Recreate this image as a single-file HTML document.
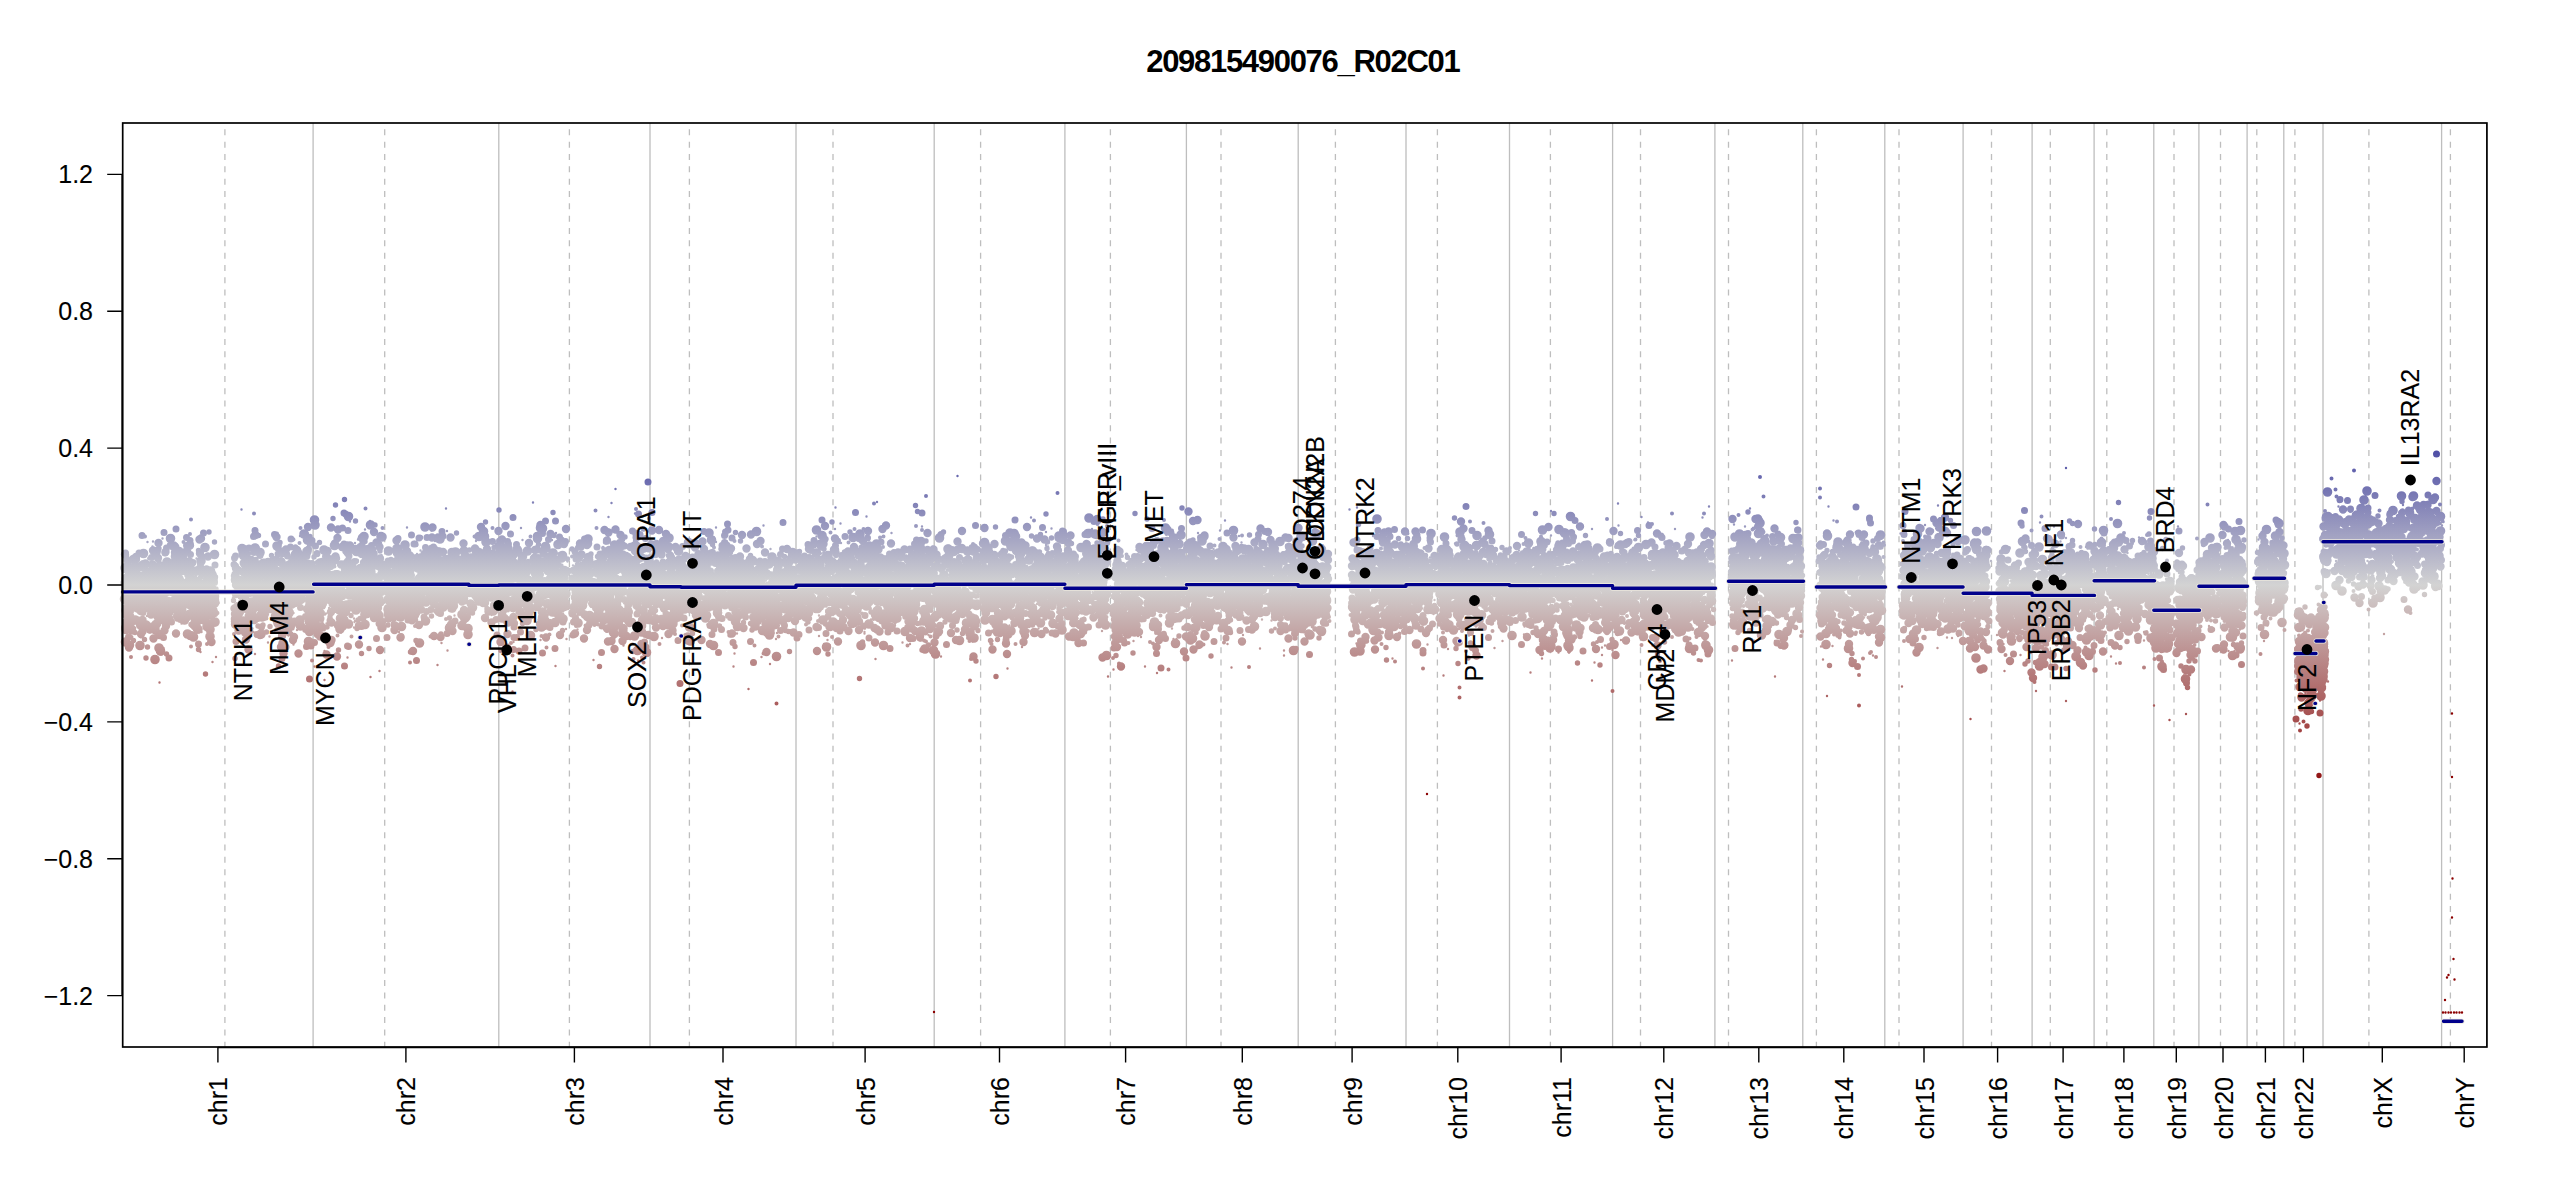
<!DOCTYPE html><html><head><meta charset="utf-8"><style>html,body{margin:0;padding:0;background:#fff;}svg{display:block}text{font-family:"Liberation Sans",sans-serif;stroke:#000;stroke-width:0.12px}</style></head><body>
<svg width="2550" height="1200" viewBox="0 0 2550 1200">
<rect width="2550" height="1200" fill="#fff"/>
<defs><linearGradient id="g" gradientUnits="userSpaceOnUse" x1="0" y1="371.1" x2="0" y2="798.9">
<stop offset="0" stop-color="#00008b"/><stop offset="0.5" stop-color="#d3d3d3"/><stop offset="1" stop-color="#8b0000"/></linearGradient></defs>
<path d="M313.1 123V1047M498.8 123V1047M650.0 123V1047M796.0 123V1047M934.2 123V1047M1064.9 123V1047M1186.4 123V1047M1298.2 123V1047M1406.0 123V1047M1509.5 123V1047M1612.6 123V1047M1714.9 123V1047M1802.8 123V1047M1884.8 123V1047M1963.1 123V1047M2032.1 123V1047M2094.1 123V1047M2153.8 123V1047M2198.9 123V1047M2247.1 123V1047M2283.8 123V1047M2323.0 123V1047M2441.6 123V1047M2486.9 123V1047" stroke="#bebebe" stroke-width="1.3" fill="none"/>
<path d="M224.9 123V1047M384.7 123V1047M569.4 123V1047M689.4 123V1047M833.0 123V1047M980.6 123V1047M1110.4 123V1047M1221.0 123V1047M1335.4 123V1047M1437.4 123V1047M1550.4 123V1047M1640.5 123V1047M1728.5 123V1047M1816.4 123V1047M1899.0 123V1047M1991.5 123V1047M2050.3 123V1047M2106.8 123V1047M2174.0 123V1047M2220.5 123V1047M2256.8 123V1047M2294.9 123V1047M2368.9 123V1047M2450.4 123V1047" stroke="#bebebe" stroke-width="1.3" fill="none" stroke-dasharray="6 6.33" stroke-dashoffset="6"/>
<path d="M175.5 609h0M142 591.5h0M159.5 682.5h0M153 541.5h0M211.5 590.5h0M196.5 558.5h0M152.5 546.5h0M178 602h0M150.5 579.5h0M190.5 591.5h0M166 599.5h0M185.5 558h0M201.5 632h0M207 607.5h0M141 607h0M181 614.5h0M175.5 571.5h0M142 566.5h0M130.5 601h0M164 583.5h0M133 564h0M210 625.5h0M213 604.5h0M170 577.5h0M200.5 652h0M132.5 614.5h0M216 657h0M162.5 589h0M156.5 630h0M192.5 543h0M161 595.5h0M149.5 587h0M212.5 662h0M211 622h0M201.5 567.5h0M162.5 538.5h0M188.5 602h0M182 556.5h0M157.5 615.5h0M171.5 590h0M209.5 599h0M196 575h0M155 590h0M166.5 581h0M147.5 542h0M126 597h0M187 600.5h0M218.5 603h0M184.5 606h0M204.5 575h0M163.5 648h0M201 568.5h0M147 616h0M166.5 560.5h0M155.5 582h0M201 614h0M143 601h0M209.5 582.5h0M156 578h0M155 550h0M199.5 630.5h0M181.5 623.5h0M129 629h0M259 594h0M265 574.5h0M310.5 581h0M248 605h0M239 598h0M309 571h0M282.5 559h0M265 583.5h0M266.5 577.5h0M233 597.5h0M293.5 613h0M253.5 632h0M300 587.5h0M268 642.5h0M277 562.5h0M234 575.5h0M312.5 590h0M275.5 571.5h0M309 610.5h0M310.5 585h0M236 610h0M287.5 608.5h0M301 551.5h0M263.5 619.5h0M269.5 636.5h0M255 654h0M280.5 601.5h0M289.5 613h0M289 585.5h0M306 570.5h0M242 571.5h0M293 603.5h0M300 536h0M277 608.5h0M241.5 509.5h0M281.5 588h0M262.5 624h0M237.5 585.5h0M262.5 580.5h0M313 527h0M250.5 615h0M298 554.5h0M243.5 571.5h0M239.5 569h0M275 587.5h0M252.5 628.5h0M308.5 584h0M293.5 644.5h0M251 567.5h0M263 606h0M304.5 551h0M289.5 615h0M302 624.5h0M250 559h0M258.5 575h0M248.5 581h0M297 630h0M274.5 558h0M246 597.5h0M240 585h0M292 546.5h0M305.5 598h0M292 633h0M288.5 635.5h0M319.5 560h0M348 602.5h0M375 567.5h0M327.5 564h0M320 602.5h0M381.5 555h0M370.5 677h0M369.5 590.5h0M355 621h0M324.5 651h0M333 600.5h0M338.5 601h0M337.5 653.5h0M364.5 622.5h0M370.5 604.5h0M340 576h0M344 573h0M318.5 570.5h0M342 599h0M322.5 553h0M321 583h0M313.5 606.5h0M379 628.5h0M352 585.5h0M368.5 575h0M341 632.5h0M355 543h0M373 586h0M359 610.5h0M373 596.5h0M349 553h0M347.5 626.5h0M329 608h0M354 627.5h0M372.5 606h0M357.5 570.5h0M324.5 606.5h0M343.5 580h0M347.5 657.5h0M366.5 573.5h0M342 565.5h0M320.5 585h0M354 618.5h0M337 583h0M322.5 622h0M314.5 666.5h0M330.5 611.5h0M349 583.5h0M348 587.5h0M324.5 680h0M361.5 592h0M347.5 562h0M372 588.5h0M330.5 566.5h0M327 578h0M352.5 580.5h0M325 614.5h0M358 539.5h0M364.5 578h0M338 582.5h0M348.5 546h0M370 521h0M370 601.5h0M380 579.5h0M326.5 623.5h0M354.5 622h0M353.5 609h0M350 521.5h0M371.5 618h0M326 613.5h0M365 555h0M365 529.5h0M361.5 615h0M357 547h0M379.5 671h0M345 591h0M437.5 572h0M464 560.5h0M414.5 566.5h0M431 549.5h0M461 551h0M456.5 583.5h0M420.5 550.5h0M441.5 643h0M406.5 553.5h0M413.5 578.5h0M398.5 538h0M399 632h0M433.5 579h0M447 531h0M457.5 582.5h0M446 508.5h0M431.5 600h0M427 577.5h0M395.5 599h0M460.5 583.5h0M459.5 586.5h0M463 555.5h0M431 557h0M442.5 575h0M437.5 665h0M428.5 591h0M407.5 558h0M405 583h0M429 569.5h0M387.5 570.5h0M443 581.5h0M455 619.5h0M394 628h0M395 595.5h0M397 615h0M447.5 573.5h0M407.5 591h0M435 541h0M402.5 571h0M412 600h0M445 550h0M445 599h0M417 554h0M399.5 614h0M414.5 590.5h0M431.5 530.5h0M438.5 548.5h0M427 572.5h0M413 608h0M454.5 615.5h0M447 625h0M416.5 603.5h0M399.5 590h0M442.5 540.5h0M421 582h0M407 527.5h0M433.5 579h0M461 552h0M395 562h0M460.5 588h0M401 574.5h0M467 565.5h0M400 557.5h0M452 579.5h0M393 559h0M421 602.5h0M447.5 650.5h0M486.5 561.5h0M476 541h0M491.5 615h0M496.5 553h0M487.5 575h0M484 592h0M484 560h0M490 593h0M486 532h0M472.5 607h0M469.5 569h0M482.5 598h0M479 575.5h0M483.5 575.5h0M495 573.5h0M477 553h0M488.5 572.5h0M548 578h0M552 540h0M541 581.5h0M512.5 691.5h0M547.5 543.5h0M506 575h0M521.5 594.5h0M554 597.5h0M522.5 540h0M542 578h0M504 617h0M566 629h0M526.5 576h0M560.5 565.5h0M514.5 597h0M536 653h0M544 532.5h0M527.5 594h0M520 627h0M513.5 596.5h0M500 546.5h0M567.5 580.5h0M551.5 581h0M521.5 616h0M519.5 592.5h0M558 603h0M524 572.5h0M513.5 642h0M559.5 553h0M521 528h0M563 613.5h0M533.5 593h0M503 562.5h0M510.5 609.5h0M532.5 602.5h0M522.5 596.5h0M522 620h0M553.5 575h0M531.5 587h0M540.5 640h0M537 561.5h0M509.5 553h0M567.5 561.5h0M533 502.5h0M528.5 563.5h0M531.5 596h0M548 566.5h0M556 533h0M538 591.5h0M516 577h0M520 580h0M563.5 583.5h0M514.5 579h0M537 580h0M500.5 596h0M538.5 619.5h0M504.5 568h0M557.5 553.5h0M551.5 580.5h0M551 570h0M500.5 580h0M520.5 568.5h0M507 633.5h0M555.5 666h0M566.5 639h0M550.5 588.5h0M593.5 660h0M577.5 629.5h0M573 565.5h0M630.5 593h0M577 548.5h0M614 528.5h0M601 570.5h0M640.5 568h0M638 660.5h0M595.5 580.5h0M622 627h0M585.5 568.5h0M609 579h0M584.5 542.5h0M588.5 572h0M616 576.5h0M622.5 568h0M603 547h0M616.5 581h0M573.5 550h0M614.5 638h0M589.5 599h0M604.5 594.5h0M580 567h0M623.5 645.5h0M589.5 589h0M589 603.5h0M590.5 584h0M631 590h0M628.5 560.5h0M608.5 581h0M591 606.5h0M646 582.5h0M635 513.5h0M631.5 585.5h0M626 577h0M592 595.5h0M639 557h0M606.5 577.5h0M648.5 600h0M608.5 586.5h0M642 581h0M585 618.5h0M631 603.5h0M641 603.5h0M617 619.5h0M608 611h0M647.5 587h0M579.5 620h0M586.5 568.5h0M645 573h0M646 594h0M633 579h0M640.5 602.5h0M644.5 615h0M630 579.5h0M608.5 517h0M604 614.5h0M578.5 567.5h0M587 614h0M630.5 639h0M578 612h0M667.5 542h0M658 596h0M666 578h0M662 638h0M680 563h0M666 592h0M661 578.5h0M651 559.5h0M668.5 564.5h0M674 595.5h0M653 575h0M652.5 589.5h0M652 559h0M664 552.5h0M681 559h0M655 581h0M669.5 567.5h0M668 565.5h0M680 613h0M666 623h0M680.5 584.5h0M650 528.5h0M674 592.5h0M675 561h0M662.5 603h0M660 574.5h0M670 549h0M650.5 541h0M667 560h0M670 600h0M669.5 544.5h0M707.5 624.5h0M770.5 549h0M719.5 553.5h0M693.5 564.5h0M681.5 575h0M766 580.5h0M761.5 657h0M776 639h0M734.5 653.5h0M733 583h0M735 561.5h0M739.5 601h0M733.5 666.5h0M737 633.5h0M682 619.5h0M768.5 600h0M793.5 596.5h0M796 590h0M699 605.5h0M696.5 639.5h0M754.5 569.5h0M763.5 525.5h0M714 537.5h0M759 606h0M753.5 597h0M740 609.5h0M777 633h0M789 603.5h0M688 608.5h0M720.5 625.5h0M788.5 584h0M753 621.5h0M755.5 584h0M716 527.5h0M787.5 584h0M737 621h0M746 564.5h0M696 557.5h0M741.5 617h0M709.5 610.5h0M764 608.5h0M760 586.5h0M707 571h0M730 609.5h0M752.5 567h0M794.5 589.5h0M793.5 604h0M770 664h0M684 610.5h0M779.5 580.5h0M756.5 615.5h0M716.5 591h0M769 591h0M684 618.5h0M728.5 616.5h0M727 541.5h0M694.5 581.5h0M792 621.5h0M688.5 612h0M767 607h0M758 529h0M691 593.5h0M682 586.5h0M681.5 576.5h0M716 542h0M709.5 597.5h0M711 551h0M755 593h0M748.5 612.5h0M766.5 566.5h0M687 581h0M692.5 603.5h0M724.5 586.5h0M704.5 613.5h0M730.5 549h0M751 618h0M854.5 529h0M832 601.5h0M885.5 597h0M806.5 596.5h0M843 565h0M849 542.5h0M899 616h0M837.5 563h0M797 562h0M848 623h0M932.5 587.5h0M885 529.5h0M848 602h0M855.5 547h0M824 644h0M840.5 523.5h0M859.5 559h0M875.5 572.5h0M842.5 598h0M859.5 537.5h0M819 599.5h0M900.5 566.5h0M806.5 565h0M818 558.5h0M913 584h0M853.5 565h0M864.5 554.5h0M857.5 609h0M895 623.5h0M845.5 596.5h0M856 589h0M819.5 575.5h0M904 594h0M866.5 593h0M865 628.5h0M925 608h0M864.5 632h0M906.5 606.5h0M826.5 606.5h0M884.5 580.5h0M867 577.5h0M910 629h0M851.5 550h0M916 600.5h0M854 557.5h0M891.5 533h0M802 585h0M797 621.5h0M916 572.5h0M891 545.5h0M916.5 592h0M860.5 588.5h0M859.5 590.5h0M831 562.5h0M808.5 566h0M882.5 559h0M901.5 591.5h0M910 644h0M835.5 507.5h0M923.5 560.5h0M839 559.5h0M796 580.5h0M922 526.5h0M904 567.5h0M900 576.5h0M819 636h0M886 596.5h0M808 618.5h0M904.5 596h0M827.5 640h0M928.5 635h0M896 551.5h0M825.5 578h0M890.5 604.5h0M820 576.5h0M890.5 588.5h0M816.5 536.5h0M871 619.5h0M831.5 584h0M864.5 633.5h0M916.5 585h0M815 544h0M881 596h0M856 593h0M871 589.5h0M821 553.5h0M841 543h0M835 561.5h0M844 606h0M889.5 587.5h0M804.5 614.5h0M829.5 579h0M877 502h0M858 624.5h0M841.5 572h0M926 596h0M866.5 516.5h0M914.5 586.5h0M889 611.5h0M830.5 566h0M835 529h0M895 625.5h0M816.5 587.5h0M925 555h0M819 615.5h0M901 609.5h0M878.5 612h0M859.5 589.5h0M875.5 659h0M902.5 642.5h0M865.5 550.5h0M932 601h0M887.5 561h0M949 575h0M935.5 583h0M949 575h0M952.5 575h0M953.5 599h0M961.5 602h0M970.5 585h0M937.5 579.5h0M938.5 561.5h0M969 622.5h0M941 656.5h0M966 563.5h0M938 588.5h0M955 564h0M954.5 564.5h0M978.5 619.5h0M961 607h0M940 578.5h0M977.5 525.5h0M977 569h0M963.5 586h0M950.5 571.5h0M943.5 571.5h0M943.5 579h0M949.5 566.5h0M954 589.5h0M943 607h0M938.5 597.5h0M968 552.5h0M946.5 594h0M972.5 641.5h0M982 586.5h0M983.5 548.5h0M1038 582h0M1008 597.5h0M1020.5 604.5h0M1014.5 574h0M1015 536h0M1062 593h0M1058.5 555.5h0M1045 592h0M1011 615h0M1054 591.5h0M1047 591h0M1031 582.5h0M1007.5 668.5h0M1039 601.5h0M1023 644.5h0M993 621h0M1004 637h0M1015 620.5h0M1047 574h0M1038.5 624.5h0M1019 588.5h0M1058.5 590.5h0M1005.5 579.5h0M1030.5 570.5h0M1036 557h0M1046 532h0M1054.5 584h0M1043 605.5h0M992 590.5h0M1055.5 590h0M986.5 545h0M1059 558.5h0M1009.5 625.5h0M1051.5 528.5h0M1034 601h0M1064 568.5h0M1029.5 555h0M1044.5 571h0M1022 647h0M990.5 643.5h0M1000 602h0M1040 610h0M1062.5 579h0M1022.5 625h0M1038.5 628.5h0M1049 593.5h0M999.5 567h0M1018 565h0M1011.5 588.5h0M1058.5 541.5h0M1060 566h0M1017 563h0M992.5 641h0M1022 630.5h0M1048 546.5h0M1011.5 598.5h0M1053.5 577h0M1031 517.5h0M989 564.5h0M988.5 576h0M1057.5 601h0M1037 604h0M1046 545h0M1023.5 575.5h0M1035 592h0M1079 571.5h0M1102 631h0M1086 553.5h0M1081.5 621h0M1103 570h0M1100.5 570h0M1069.5 581h0M1087 545h0M1085 547.5h0M1102 556h0M1089 550.5h0M1098.5 607.5h0M1067.5 575.5h0M1088 608h0M1083.5 591.5h0M1077 612h0M1092 529h0M1102 593.5h0M1092.5 592h0M1092.5 569h0M1108 676.5h0M1077.5 618.5h0M1077.5 574.5h0M1072 599.5h0M1078.5 578h0M1104.5 555.5h0M1096.5 571h0M1080.5 611.5h0M1095.5 536.5h0M1092 576.5h0M1152 587h0M1145 666.5h0M1131 622.5h0M1180 595h0M1137 578h0M1113 635h0M1123.5 591h0M1181.5 527h0M1173.5 639h0M1172 628.5h0M1139.5 587.5h0M1155.5 633.5h0M1129 604.5h0M1152 621h0M1157 673h0M1121 629.5h0M1119.5 589.5h0M1129.5 632h0M1185.5 600.5h0M1134.5 571h0M1183 564.5h0M1113.5 669.5h0M1139.5 575.5h0M1183.5 585h0M1176.5 639h0M1129.5 597.5h0M1144.5 574h0M1183.5 553.5h0M1142 592h0M1134.5 568h0M1133.5 641h0M1135.5 620.5h0M1141 637h0M1179 571h0M1155 613.5h0M1176 560.5h0M1151.5 604.5h0M1180 592.5h0M1131.5 617h0M1122 621.5h0M1170 619h0M1175.5 597h0M1137 576.5h0M1131.5 600.5h0M1136.5 550h0M1122 564h0M1138 636h0M1241.5 542.5h0M1194 549.5h0M1286.5 565h0M1213.5 549h0M1187 598.5h0M1295.5 556.5h0M1222 590.5h0M1250 579h0M1283.5 564h0M1213 567.5h0M1284 655.5h0M1262 583.5h0M1260 648.5h0M1283 552.5h0M1255 601.5h0M1190 613h0M1262 619.5h0M1274.5 588h0M1278.5 567h0M1288.5 597h0M1261 597.5h0M1229 556.5h0M1190 564h0M1251 595.5h0M1234 586h0M1266.5 610.5h0M1209 554.5h0M1267.5 603.5h0M1214.5 551h0M1293 583h0M1275 596.5h0M1273.5 612h0M1277 555h0M1227.5 644h0M1257 550h0M1203 556h0M1294.5 533h0M1293 595h0M1225 622h0M1298 544.5h0M1239 536h0M1206 609h0M1208 559h0M1204.5 612h0M1203.5 578h0M1268 559.5h0M1200.5 597.5h0M1260 541.5h0M1271.5 620.5h0M1248.5 599h0M1220 530.5h0M1276.5 584h0M1252.5 582.5h0M1234 602h0M1251.5 605h0M1296 564h0M1215.5 614.5h0M1253 564.5h0M1231.5 667.5h0M1242.5 562.5h0M1272 586h0M1201 601.5h0M1234 534.5h0M1286.5 587h0M1283.5 587.5h0M1258 567.5h0M1189.5 610.5h0M1253.5 540h0M1287 614.5h0M1243 635h0M1197 617.5h0M1205.5 592.5h0M1205 573.5h0M1188 614.5h0M1211.5 570.5h0M1258.5 552.5h0M1253 555h0M1261.5 551.5h0M1210.5 566.5h0M1198 533h0M1293 570h0M1225 520.5h0M1282.5 586h0M1251 575h0M1284 650.5h0M1243 605h0M1320 588h0M1325.5 551.5h0M1330 575h0M1300 612h0M1323 545.5h0M1312.5 521.5h0M1322.5 584h0M1315.5 571h0M1308 573h0M1324 611.5h0M1329 585h0M1312.5 610.5h0M1321 575.5h0M1327.5 577h0M1316.5 613h0M1318 558h0M1323 594h0M1308 541h0M1391.5 535.5h0M1390.5 591h0M1356.5 643.5h0M1403 563h0M1364 579h0M1357.5 558.5h0M1359.5 548.5h0M1405.5 584h0M1386.5 573h0M1392.5 658.5h0M1352 566h0M1399.5 575.5h0M1391.5 558h0M1388 566.5h0M1377.5 579h0M1349.5 509.5h0M1357 507.5h0M1375 631.5h0M1396.5 568h0M1393 583h0M1391 619h0M1401.5 589h0M1372.5 563.5h0M1398 591h0M1389 616h0M1400 566h0M1372 597h0M1356.5 630.5h0M1369.5 609.5h0M1397 585.5h0M1398.5 614h0M1358 519h0M1373 536h0M1390 552h0M1371.5 560h0M1357 558h0M1371 577h0M1385 611h0M1388.5 619.5h0M1382.5 615.5h0M1405.5 575.5h0M1360 597h0M1381 623h0M1372.5 600h0M1353.5 561h0M1422 608.5h0M1434.5 600h0M1431 597h0M1413 593.5h0M1412 619h0M1419 553.5h0M1408 591.5h0M1408 591h0M1430 585h0M1408 579.5h0M1433.5 614h0M1416 571h0M1426.5 547.5h0M1408 591h0M1427.5 644.5h0M1425.5 586h0M1431 574h0M1416 573h0M1430 557.5h0M1418 582h0M1407.5 630.5h0M1422 591.5h0M1423 624.5h0M1416 567.5h0M1407 545h0M1414.5 594.5h0M1427.5 558.5h0M1426 581h0M1501 609.5h0M1476 626.5h0M1496.5 563h0M1487 596.5h0M1466 576h0M1476.5 608h0M1477 620.5h0M1490 638.5h0M1486.5 583.5h0M1444 559h0M1492.5 576h0M1486 592h0M1461.5 624h0M1441.5 553.5h0M1488 617.5h0M1469 635.5h0M1478 604h0M1476.5 575.5h0M1504 601h0M1459 610.5h0M1494.5 648h0M1482.5 612.5h0M1438.5 549h0M1444 541.5h0M1471 607h0M1465.5 619.5h0M1471.5 619.5h0M1501.5 580h0M1488.5 591h0M1448 649h0M1457 580h0M1502.5 641h0M1454.5 568.5h0M1468 568h0M1484 604.5h0M1495 583.5h0M1492 597.5h0M1502 623h0M1461.5 584.5h0M1459 629h0M1439 585.5h0M1455 543.5h0M1549 610.5h0M1526 544h0M1560 569.5h0M1594.5 662.5h0M1583.5 584h0M1569 652.5h0M1569.5 562.5h0M1577.5 589.5h0M1595 547.5h0M1575.5 536.5h0M1542 658.5h0M1551 511h0M1534.5 584h0M1610.5 590h0M1510.5 558h0M1559 543h0M1558 546.5h0M1519 550.5h0M1602.5 610h0M1529.5 547.5h0M1510.5 584.5h0M1564.5 540h0M1519 581h0M1582 557h0M1573.5 605.5h0M1549.5 583h0M1528 567h0M1573 622.5h0M1559.5 575.5h0M1571.5 587h0M1529.5 562h0M1583 562h0M1512 589h0M1548.5 564h0M1605 626.5h0M1539 542.5h0M1603 557h0M1593 558h0M1612 616h0M1533.5 548h0M1602 647.5h0M1524.5 626.5h0M1558.5 652.5h0M1553.5 561h0M1571.5 589.5h0M1567 611h0M1566 600h0M1547.5 560.5h0M1582.5 574h0M1540.5 567h0M1554.5 571h0M1535 621h0M1549.5 650h0M1588.5 598h0M1580 584.5h0M1513 615h0M1592 529h0M1567 589.5h0M1525.5 624.5h0M1606.5 624.5h0M1611 559.5h0M1557 596h0M1530.5 672.5h0M1612.5 650h0M1543 572.5h0M1540 641h0M1531.5 605.5h0M1549.5 593.5h0M1578 605h0M1546.5 562h0M1574.5 556.5h0M1602 655h0M1591 563h0M1540.5 620.5h0M1605 645.5h0M1569.5 642.5h0M1524 634.5h0M1529.5 571h0M1603.5 583h0M1569.5 576.5h0M1526 611.5h0M1549.5 557h0M1531.5 578.5h0M1584.5 590.5h0M1590.5 583h0M1551 535.5h0M1572.5 550h0M1618 503.5h0M1639 587h0M1619.5 588.5h0M1623.5 574h0M1617 608.5h0M1614.5 632h0M1614 610h0M1634.5 540h0M1622.5 610h0M1631 588.5h0M1621 640h0M1638.5 562.5h0M1614 587h0M1639 556h0M1616.5 627h0M1618.5 525.5h0M1631.5 551h0M1613 589h0M1622.5 563h0M1632 610h0M1712.5 596.5h0M1706 602h0M1674 620.5h0M1709 506.5h0M1701 565h0M1673 586h0M1652.5 645.5h0M1693.5 593h0M1704.5 639.5h0M1660 612h0M1667.5 579.5h0M1667 635h0M1694.5 619.5h0M1712 542.5h0M1675 529h0M1700 572h0M1648.5 558h0M1701 581h0M1647.5 613.5h0M1665 575h0M1642.5 595h0M1660 593.5h0M1700 556.5h0M1646.5 581.5h0M1683 587.5h0M1648 522.5h0M1701 587h0M1643 558h0M1652 606.5h0M1707.5 626.5h0M1669 567h0M1680 598h0M1700 605h0M1684.5 581h0M1704 593.5h0M1641.5 517h0M1682.5 584h0M1691 573.5h0M1696 620h0M1692.5 584h0M1681 594h0M1700 561h0M1687.5 561h0M1702.5 517.5h0M1650 559h0M1695.5 563h0M1660 607.5h0M1683.5 588.5h0M1679 594h0M1734 524.5h0M1777.5 605h0M1731 553.5h0M1774.5 555.5h0M1751.5 586h0M1788 598.5h0M1748 574h0M1789 586.5h0M1760.5 576h0M1750 508.5h0M1782.5 604.5h0M1796.5 543h0M1754 518.5h0M1775 676.5h0M1750.5 566.5h0M1738 565.5h0M1767 568.5h0M1753 578.5h0M1791.5 582h0M1775 641h0M1746.5 566.5h0M1761 567.5h0M1782.5 605.5h0M1732.5 554h0M1737.5 595.5h0M1739.5 572h0M1767 621.5h0M1744.5 556.5h0M1783.5 606h0M1773.5 564.5h0M1764 575h0M1771 597h0M1733 549.5h0M1765 536.5h0M1793.5 538h0M1737 562.5h0M1767.5 563h0M1731 563h0M1745 526.5h0M1761 602h0M1764.5 590h0M1758 581.5h0M1732 660.5h0M1818.5 617.5h0M1835.5 609h0M1870.5 562h0M1837.5 581h0M1832.5 591h0M1836.5 579.5h0M1840 585.5h0M1849 560h0M1821 646.5h0M1833.5 520.5h0M1848 581.5h0M1826.5 552.5h0M1841.5 570h0M1864 536h0M1820 548h0M1851 543h0M1877 562h0M1828 602.5h0M1843 581h0M1852.5 569h0M1884 585h0M1825 613.5h0M1827 574h0M1832.5 646h0M1835.5 582h0M1873 624h0M1862.5 608h0M1853.5 661.5h0M1836.5 580h0M1823.5 587.5h0M1859.5 593h0M1869.5 568h0M1844 540.5h0M1862.5 598.5h0M1872.5 545.5h0M1873 655.5h0M1828.5 506.5h0M1836.5 563.5h0M1876.5 544h0M1864 617.5h0M1873.5 557.5h0M1871.5 570.5h0M1864 583.5h0M1823 659.5h0M1841 630.5h0M1843.5 585.5h0M1866.5 588h0M1845.5 565.5h0M1827 614.5h0M1849 621.5h0M1853.5 565h0M1830.5 592h0M1874.5 568.5h0M1823.5 586.5h0M1823 587.5h0M1860 608.5h0M1841.5 585.5h0M1947.5 610.5h0M1952 638h0M1957 602.5h0M1939 559h0M1919 557.5h0M1958 586.5h0M1905.5 583h0M1941 526.5h0M1921 574.5h0M1907.5 573.5h0M1928 598h0M1948 620h0M1918.5 602.5h0M1902 686.5h0M1907.5 574h0M1954.5 574h0M1937.5 648h0M1956 603h0M1959.5 600h0M1955 612h0M1925 525h0M1915.5 575h0M1900.5 617h0M1906.5 596h0M1947 553.5h0M1932.5 541h0M1955 586h0M1955 618h0M1951 596.5h0M1906 574.5h0M1908.5 570.5h0M1945.5 559.5h0M1943 583.5h0M1928 605h0M1911 574h0M1900.5 533.5h0M1931.5 592h0M1958 636h0M1950 620h0M1950.5 616.5h0M1924 623h0M1938 505.5h0M1906 544h0M1938.5 588.5h0M1920.5 604.5h0M1947 637.5h0M1946 576.5h0M1955.5 574h0M1968 631.5h0M1987 626h0M1973.5 635h0M1965 600.5h0M1981.5 602h0M1991 561h0M1970.5 635.5h0M1984 638.5h0M1988.5 593h0M1984.5 551h0M1984.5 615.5h0M2000.5 559h0M2020.5 589h0M2010.5 581h0M2020.5 655h0M2023.5 552.5h0M2005.5 573h0M2022.5 576h0M2005 558.5h0M1998.5 571h0M2018 630h0M2012.5 643h0M2004.5 671h0M2023.5 588h0M2011.5 594.5h0M2003.5 644h0M2028 634.5h0M2029 587h0M2031 637.5h0M2003 586.5h0M2014 580.5h0M2018.5 592.5h0M2029 595.5h0M1998.5 585h0M2001 604.5h0M2023 624.5h0M2002 573h0M2014.5 589.5h0M2013 607.5h0M2031 653h0M1997 635h0M2009.5 609h0M1999.5 646h0M2037 583h0M2040 522.5h0M2034.5 661.5h0M2035 607.5h0M2048.5 586.5h0M2033 630.5h0M2033 615h0M2036 691h0M2049 641h0M2038 584h0M2044.5 606.5h0M2037.5 603h0M2040 652h0M2044.5 580h0M2049 604.5h0M2035 559.5h0M2039 616.5h0M2046.5 564.5h0M2038 614.5h0M2043.5 607.5h0M2078.5 614.5h0M2068 557h0M2089.5 598h0M2091 617h0M2063.5 600h0M2092 597h0M2053 652h0M2066.5 577h0M2086.5 570h0M2090.5 598.5h0M2057 620h0M2076 577.5h0M2057.5 580h0M2071.5 568.5h0M2084 604h0M2093 556h0M2088 607.5h0M2080 631h0M2060.5 541.5h0M2062 604h0M2089.5 564h0M2064 620.5h0M2078.5 597.5h0M2054 526.5h0M2076.5 586h0M2069 590.5h0M2064.5 608h0M2069 566h0M2087.5 548.5h0M2082 638.5h0M2065.5 586h0M2086 547h0M2066 538h0M2056.5 636h0M2083.5 665h0M2063.5 627.5h0M2066.5 574.5h0M2094 585.5h0M2072 596.5h0M2103 561.5h0M2094.5 591.5h0M2099.5 608h0M2103.5 577h0M2094 616h0M2098.5 567.5h0M2105.5 572h0M2101 558h0M2099.5 551.5h0M2137.5 573h0M2149 553.5h0M2118.5 602.5h0M2127.5 580h0M2148.5 534h0M2142 586h0M2127.5 553h0M2124 600.5h0M2123.5 576h0M2147.5 614.5h0M2111 656.5h0M2125.5 583.5h0M2113 589.5h0M2144.5 541h0M2135 611h0M2112 585h0M2111 602h0M2112 578h0M2114.5 577.5h0M2128 593.5h0M2143 557h0M2116 663.5h0M2147 631.5h0M2144 632h0M2125 616.5h0M2153 577.5h0M2132.5 610h0M2133.5 578.5h0M2148.5 574h0M2118 609h0M2144 640.5h0M2149 570h0M2109.5 642h0M2134 591.5h0M2139 537.5h0M2151.5 569h0M2132.5 580.5h0M2129.5 569.5h0M2152 625.5h0M2171 611.5h0M2157.5 619h0M2154 705.5h0M2166 579h0M2155 594.5h0M2158.5 606h0M2155 611.5h0M2162.5 642h0M2164.5 616h0M2172 619h0M2154.5 610.5h0M2161.5 611.5h0M2162 605h0M2157 598h0M2169 601h0M2154.5 549h0M2166.5 576h0M2172 583h0M2186.5 617h0M2178 526.5h0M2182 619.5h0M2184 675.5h0M2177.5 613h0M2195 648.5h0M2188 612.5h0M2186 714h0M2193 577.5h0M2184 621h0M2187 637h0M2186.5 602h0M2181 592h0M2177.5 611.5h0M2179 573h0M2175.5 624.5h0M2217.5 593h0M2209 626h0M2215.5 558.5h0M2200 631h0M2218.5 601h0M2215.5 614.5h0M2208 590.5h0M2202 588.5h0M2204 610h0M2218 610h0M2217 589.5h0M2240 600h0M2230 638h0M2240 629.5h0M2236.5 618.5h0M2234.5 651h0M2221.5 576.5h0M2229.5 573.5h0M2228 540h0M2233 642.5h0M2229.5 570.5h0M2232 593.5h0M2235 566.5h0M2235.5 586h0M2221.5 580.5h0M2231 578h0M2244.5 606.5h0M2240.5 545h0M2228.5 651h0M2226 625h0M2243.5 566h0M2225 626.5h0M2221.5 651.5h0M2274 594.5h0M2278.5 539.5h0M2265 596.5h0M2272 544.5h0M2271 569h0M2265.5 568.5h0M2258.5 539.5h0M2281 603h0M2276 596h0M2275.5 569.5h0M2277.5 569h0M2257.5 595h0M2277 555.5h0M2276.5 526.5h0M2264 641h0M2267 560.5h0M2260.5 585h0M2264.5 609.5h0M2260.5 552h0M2278 556h0M2269 572h0M2280.5 608.5h0M2258.5 579h0M2268 595.5h0M2266.5 579.5h0M2282.5 571h0M2264.5 607h0M2277 549.5h0M2267.5 625.5h0M2266 533h0M2299.5 723.5h0M2310.5 665.5h0M2298 681h0M2311 654.5h0M2314.5 662h0M2302 668h0M2312 658h0M2310.5 644h0M2313 645.5h0M2305.5 693h0M2303 638h0M2311.5 690h0M2316 689h0M2310 639h0M2303.5 651h0M2298 627h0M2310 710h0M2314 667.5h0M2322 595.5h0M2328 615h0M2323.5 679h0M2320 648h0M2326.5 677h0M2323.5 658h0M2325.5 666.5h0M2320 700.5h0M2319.5 671h0M2328 681.5h0M2317.5 634h0M2316.5 662.5h0M2319.5 671.5h0M2321.5 643h0M2318 628.5h0M2319.5 653h0M2318 638h0M2326 634h0M2319 691h0M2325 686.5h0M2427.5 549.5h0M2386 544h0M2387 525h0M2421 550h0M2345 563.5h0M2365 519h0M2358.5 543.5h0M2427.5 553h0M2330 555.5h0M2342 536h0M2405 528h0M2403 505h0M2361 556h0M2330.5 551h0M2350 544.5h0M2335 547h0M2326 626h0M2346 532h0M2406 541.5h0M2442.5 521.5h0M2443.5 522h0M2429 559.5h0M2364 545h0M2327 595h0M2410 572.5h0M2344 533.5h0M2401.5 523h0M2442 525.5h0M2349.5 540h0M2341.5 534h0M2338.5 506.5h0M2328.5 557.5h0M2368 556.5h0M2411.5 533.5h0M2371.5 550.5h0M2367.5 561h0M2377 519.5h0M2329 518h0M2426 513.5h0M2412.5 575.5h0M2351.5 568.5h0M2382.5 579.5h0M2372 567h0M2392.5 513h0M2413 547h0M2332 536.5h0M2347 535.5h0M2349.5 573.5h0M2404 514.5h0M2411 544h0M2348.5 544h0M2336 561h0M2394.5 547h0M2338 527h0M2356.5 562.5h0M2382 570h0M2330 570.5h0M2411.5 577.5h0M2419.5 540h0M2403 519.5h0M2364.5 500.5h0M2404.5 539.5h0M2372.5 525h0M2395.5 529.5h0M2427 512h0M2395 531.5h0M2384 634h0M957.5 476h0M615.5 489h0M611.5 503h0M748.5 689h0M934 1012h0M1592 680.5h0M1443.5 675.5h0M2066 468h0M1827 696h0M1970.5 719h0M2066 701h0M1427 794h0M1592 680.5h0M2169.5 720h0" stroke="url(#g)" stroke-width="2.4" stroke-linecap="round" fill="none"/>
<path d="M153.5 591.5h0M183.5 542h0M131 657h0M145.5 607h0M208.5 590h0M178.5 599h0M154.5 623.5h0M191 519.5h0M191 646.5h0M183 592.5h0M141 636.5h0M144.5 592.5h0M190 534h0M202 576h0M132 579h0M129 589h0M201 559.5h0M178.5 559.5h0M124.5 597.5h0M147.5 582.5h0M207.5 556.5h0M210 621h0M145 536.5h0M146.5 591h0M167.5 573.5h0M180 582h0M202.5 575.5h0M190.5 611h0M162.5 608.5h0M193 606.5h0M129.5 582h0M142 593.5h0M172.5 581h0M176.5 545h0M211 605h0M157 581.5h0M217.5 613h0M202 602.5h0M164.5 606.5h0M191.5 626h0M125 620.5h0M139.5 582.5h0M194.5 614h0M209 642h0M163.5 584.5h0M190 576.5h0M170.5 601h0M152.5 553h0M129 563.5h0M167.5 579h0M207 644h0M175.5 617h0M174 580.5h0M185 596.5h0M179.5 619.5h0M159 602.5h0M149 558.5h0M205.5 627.5h0M176.5 570.5h0M189 614.5h0M150 601h0M131.5 637h0M209.5 593h0M132 583.5h0M140 623h0M135 571h0M188.5 601h0M184.5 600.5h0M144 619.5h0M210 593h0M187.5 566.5h0M132 612h0M201 604.5h0M173.5 581.5h0M156 635.5h0M185.5 598.5h0M152.5 577h0M139 605h0M250.5 608h0M278 632h0M270.5 599.5h0M265.5 563.5h0M308.5 616h0M312 660.5h0M299.5 543h0M272 600h0M305 630.5h0M279.5 564.5h0M295 589h0M266.5 618.5h0M295.5 557.5h0M250 553h0M234 634h0M240 587h0M251.5 604h0M288.5 576.5h0M312 625h0M296 578h0M265 564.5h0M300.5 528h0M277 533.5h0M274.5 585.5h0M260.5 582h0M243.5 607.5h0M312 594.5h0M291 590h0M300 570.5h0M240 621h0M268.5 561.5h0M307.5 535h0M253 564h0M251.5 570h0M236 608.5h0M253.5 567.5h0M239 595h0M291.5 604.5h0M300 604h0M306 549h0M282.5 586h0M278.5 631h0M289 570h0M269 571.5h0M281 559h0M291 558h0M293.5 539.5h0M264.5 585h0M288 590.5h0M275.5 573.5h0M304 587h0M291 634.5h0M281 589.5h0M306.5 567.5h0M305 586h0M304 600.5h0M249.5 603h0M378 604h0M318.5 576h0M325 626.5h0M313.5 581h0M376 575h0M327.5 568h0M322.5 591h0M367.5 577.5h0M366 574h0M362 540.5h0M337 603h0M322 607h0M368.5 595h0M342.5 573h0M378 578h0M353.5 548h0M336 599h0M334.5 566.5h0M328.5 647h0M337.5 575.5h0M349 601.5h0M359 599.5h0M364.5 595h0M323.5 607.5h0M365.5 572h0M382.5 528h0M359.5 538.5h0M350 579.5h0M344 605h0M328.5 623.5h0M322.5 636h0M376 599h0M334.5 577h0M366 579.5h0M362 605h0M377 563.5h0M317 617h0M325 604h0M328.5 594h0M335 558.5h0M338 587.5h0M332 565h0M334.5 599h0M351.5 636.5h0M349.5 591.5h0M335 573h0M324 629.5h0M333.5 565h0M337.5 635.5h0M364 608h0M380 573.5h0M396.5 553h0M439.5 578h0M458.5 561.5h0M466 591h0M400.5 593h0M456.5 592.5h0M463.5 618.5h0M429 572.5h0M394.5 573h0M401.5 588h0M416.5 545h0M446 619h0M398.5 587h0M425 586.5h0M452.5 555h0M438 573.5h0M446.5 578h0M392.5 592.5h0M386.5 620h0M454 565h0M415 626h0M461.5 593.5h0M397 551h0M445 581h0M386.5 573h0M402 552.5h0M422.5 584h0M445 574h0M455.5 556h0M466.5 579h0M390 591.5h0M430.5 636.5h0M415 603h0M413.5 609h0M409.5 565h0M433.5 590h0M400 579.5h0M423.5 594.5h0M451 587.5h0M410 662.5h0M427 589h0M463.5 593h0M436.5 588.5h0M447.5 590.5h0M404.5 597.5h0M430.5 587.5h0M429 580h0M432 560h0M442.5 591h0M450 594h0M437 540.5h0M407 584h0M432 591.5h0M425 556h0M477.5 567h0M493.5 590.5h0M487.5 573h0M476 587.5h0M469 591.5h0M474.5 536.5h0M490 595.5h0M479 549.5h0M473.5 565h0M481 559h0M469 584h0M473.5 569.5h0M470.5 603h0M496.5 563.5h0M490 623h0M487 578.5h0M494.5 571.5h0M485.5 553.5h0M472 571h0M492.5 528h0M473.5 568h0M483 580.5h0M497 583.5h0M497 600h0M472.5 564.5h0M472 611h0M484 595.5h0M492.5 590.5h0M493.5 564.5h0M479.5 595h0M498.5 561.5h0M469.5 579h0M473 586h0M505.5 559h0M508 610.5h0M530.5 536.5h0M510 564h0M515.5 605.5h0M528.5 541.5h0M541.5 636h0M534.5 580h0M537 577.5h0M555 553.5h0M511 643h0M512.5 655.5h0M503 585h0M503.5 585.5h0M520.5 584h0M522.5 589.5h0M536 565h0M545.5 628h0M503.5 576.5h0M559.5 593h0M532 601.5h0M548 593.5h0M513.5 566.5h0M526 618.5h0M520 571h0M563.5 569.5h0M521.5 564.5h0M549 560.5h0M502 580h0M515.5 561h0M546.5 562.5h0M561 603.5h0M513 579h0M509 569h0M559 597h0M528 584h0M509 599h0M513.5 614.5h0M546.5 647.5h0M557 567.5h0M541.5 600h0M554.5 570h0M547.5 596.5h0M549.5 634.5h0M560.5 582.5h0M531.5 600h0M512 600h0M561.5 567h0M563 594.5h0M547 615h0M558 590.5h0M540 575.5h0M646.5 559.5h0M646 556.5h0M576 626h0M607.5 554h0M580 574h0M615.5 574.5h0M579.5 593.5h0M588 583h0M590.5 597h0M612.5 589.5h0M608 593h0M577.5 576.5h0M636 509h0M630.5 583.5h0M573.5 602h0M599.5 593.5h0M583 569h0M603 548h0M603 589h0M580.5 556.5h0M572 556.5h0M583.5 606h0M631 591.5h0M638.5 587h0M649 518.5h0M622 580h0M596.5 528h0M645.5 612.5h0M619.5 601.5h0M631.5 566.5h0M649.5 565h0M598.5 611h0M642 657.5h0M621.5 632h0M633.5 659h0M573 583h0M601.5 559.5h0M649.5 599.5h0M619 596h0M589.5 581.5h0M643.5 662.5h0M602.5 607.5h0M607.5 627h0M598.5 612h0M585.5 625.5h0M594.5 625h0M633 558.5h0M577.5 588.5h0M595.5 510.5h0M613.5 545h0M578 592.5h0M614.5 553.5h0M607 592.5h0M596 575.5h0M607 631h0M613.5 572.5h0M578 556h0M598 624.5h0M632.5 621h0M647 545h0M627.5 636.5h0M615 570h0M668 587.5h0M679.5 558h0M653.5 610.5h0M668.5 544h0M679.5 615h0M675 634h0M673 618.5h0M676 610h0M659 626.5h0M671.5 600h0M658 564h0M668.5 578.5h0M659.5 644h0M678 593.5h0M673 585h0M670 603h0M660.5 542.5h0M655.5 602h0M653.5 603.5h0M661 588.5h0M677.5 617.5h0M678 618.5h0M673 598.5h0M676.5 592.5h0M709.5 538h0M688 599.5h0M710 597h0M685.5 599h0M789.5 567.5h0M724.5 587h0M729 591h0M725 606h0M689.5 602.5h0M763.5 653.5h0M790.5 631h0M791 552h0M721.5 563h0M725 564.5h0M690.5 571.5h0M757 567h0M739.5 626h0M780 592h0M688.5 584h0M693.5 601.5h0M701.5 591h0M714 547.5h0M726.5 535.5h0M734.5 568.5h0M770 574.5h0M715 563h0M760 591.5h0M726 603h0M786 580h0M688.5 583h0M725.5 582h0M740.5 591.5h0M728.5 583.5h0M745 596.5h0M779 566h0M707 552h0M693.5 592.5h0M778 596h0M698.5 577h0M692 631.5h0M741 594.5h0M733 562.5h0M737 597h0M776.5 583.5h0M790 597h0M722 570.5h0M758.5 579.5h0M682 572.5h0M778.5 636.5h0M766.5 626h0M738.5 601.5h0M759 571.5h0M788 598h0M725.5 593.5h0M765.5 622h0M793 573h0M682 625.5h0M736.5 623h0M747.5 584.5h0M773 633h0M730 603.5h0M780 574.5h0M728.5 632h0M748.5 567.5h0M695 578.5h0M699 611.5h0M754.5 645.5h0M736 629h0M734.5 541h0M716 564.5h0M718.5 619.5h0M728.5 603h0M727.5 600.5h0M777.5 569h0M762 546.5h0M731 590.5h0M741.5 557.5h0M696 560h0M705.5 601h0M748.5 558h0M717.5 561h0M738 567h0M728.5 567h0M777 605h0M746.5 599.5h0M730 554h0M726 582h0M701 587h0M692 612h0M728.5 564.5h0M855.5 613.5h0M817 565h0M876.5 568.5h0M854.5 529h0M918.5 599h0M834 577h0M805 607h0M833 579h0M834.5 554.5h0M805 595h0M919.5 543h0M907 580.5h0M802.5 592h0M854.5 536h0M924.5 560.5h0M895.5 582h0M908.5 587.5h0M874 641.5h0M860.5 580.5h0M876 575.5h0M859.5 560.5h0M894.5 564h0M910.5 598.5h0M916 526h0M931.5 611h0M880 537.5h0M823.5 522.5h0M908.5 551.5h0M918 601.5h0M818 558h0M883 575.5h0M845.5 564.5h0M912 592.5h0M824.5 570.5h0M896.5 583.5h0M906.5 604h0M927.5 589.5h0M888 559.5h0M827 611h0M826 586h0M852.5 570h0M852 590.5h0M922.5 581.5h0M806 624.5h0M930.5 636.5h0M829 645.5h0M884 622.5h0M801 569.5h0M847 568.5h0M915 594h0M830 588.5h0M901 591.5h0M824 553h0M884 562.5h0M907.5 645.5h0M818 542.5h0M870 608.5h0M883 547h0M875 600h0M886.5 557h0M834.5 604h0M859.5 596.5h0M848.5 542.5h0M799 609h0M862 613.5h0M919.5 581h0M932.5 547.5h0M922 530h0M928 581h0M832 637h0M888.5 583h0M818.5 592.5h0M818 621h0M888.5 601.5h0M873.5 566h0M825 580h0M809.5 589h0M853 569.5h0M877 566.5h0M914 598.5h0M809.5 551h0M926.5 600.5h0M888.5 565.5h0M873.5 619h0M909.5 567.5h0M815 541h0M838.5 575h0M863 584.5h0M817.5 580.5h0M926 641.5h0M828 561.5h0M918.5 608.5h0M802 592.5h0M924 640.5h0M922 550.5h0M863.5 529h0M879 587.5h0M845.5 593h0M884 584h0M916.5 585h0M917 573h0M919 561.5h0M907 602h0M829 568h0M926 617h0M846.5 574h0M896 617.5h0M830.5 532.5h0M883.5 536.5h0M976 597h0M964 588h0M974.5 570.5h0M943 615.5h0M967 590h0M959 598h0M938 581h0M959 610.5h0M974 602h0M940 581h0M938 605h0M945.5 590.5h0M959.5 570.5h0M971 659h0M936 619.5h0M955.5 552.5h0M970 680.5h0M970.5 580.5h0M964.5 622h0M977 580.5h0M954 582.5h0M960 562.5h0M950.5 615h0M953.5 598h0M971.5 636.5h0M971 587.5h0M958 612h0M937.5 569h0M974 570.5h0M960 581.5h0M947.5 570h0M960 606.5h0M973 544h0M978 596.5h0M955 581h0M968 638h0M967.5 606h0M969.5 579.5h0M954 586.5h0M943 563h0M969.5 641h0M978 594.5h0M964 598h0M968 556.5h0M972.5 593.5h0M984 611.5h0M1028 631h0M1054.5 605.5h0M994.5 622.5h0M1015 587h0M1029.5 589.5h0M1034 520.5h0M987 552.5h0M1005.5 559h0M1012.5 626.5h0M998.5 582h0M1029 602.5h0M996.5 580.5h0M985.5 579.5h0M997.5 587h0M994 589.5h0M1004.5 565.5h0M1039 590.5h0M1049 590.5h0M1023.5 543.5h0M994.5 630h0M985.5 526h0M996 632.5h0M1043 561h0M1061.5 570.5h0M1048 552.5h0M1039.5 561h0M1041.5 608.5h0M1064 581.5h0M1055 580.5h0M1037 584.5h0M1008.5 580.5h0M1052 552h0M1021 594h0M1030.5 602h0M1007 563.5h0M993 561.5h0M994.5 620.5h0M992 631.5h0M1015.5 644h0M1034.5 553.5h0M1036 589h0M986 568.5h0M1017 567h0M1019 552.5h0M1058 612h0M1062.5 580.5h0M1051.5 582h0M991.5 623h0M991.5 644h0M1063 560h0M1016.5 533.5h0M1033.5 631h0M1063 577h0M1033.5 583.5h0M1010 564.5h0M1060 580.5h0M996.5 608h0M1074 554.5h0M1088 590.5h0M1080.5 603.5h0M1070.5 587h0M1105.5 568h0M1087.5 563.5h0M1084 587h0M1106.5 617h0M1096.5 589.5h0M1082.5 601h0M1082 572.5h0M1107 526h0M1102 550h0M1081 589h0M1084 618.5h0M1105.5 559.5h0M1067 605h0M1098.5 625h0M1082 580.5h0M1082 575h0M1097.5 524h0M1072 598h0M1067.5 556.5h0M1094.5 565h0M1102.5 597h0M1099.5 623.5h0M1105.5 590h0M1074 632h0M1066 551.5h0M1075.5 619.5h0M1075 592.5h0M1086.5 599h0M1067.5 585.5h0M1071.5 615.5h0M1073.5 580h0M1088.5 543h0M1088.5 544h0M1066 561.5h0M1092 584h0M1084.5 605.5h0M1097.5 604h0M1090 554.5h0M1071 558h0M1102 503.5h0M1101 554h0M1177 584h0M1159 637h0M1122 609h0M1136 604h0M1120 575.5h0M1169.5 608h0M1150 551h0M1157.5 604.5h0M1113 556h0M1154.5 585h0M1177.5 570h0M1123 590.5h0M1145 588h0M1171.5 596.5h0M1147 586.5h0M1121 612h0M1157.5 597.5h0M1153 643.5h0M1126.5 571.5h0M1143 592.5h0M1134 564.5h0M1119 612h0M1128 601h0M1141 574.5h0M1173.5 593.5h0M1146.5 588.5h0M1168.5 669.5h0M1172 530.5h0M1128.5 643h0M1179 551.5h0M1166.5 561h0M1134.5 587.5h0M1145 591h0M1164.5 559h0M1177 606.5h0M1118.5 540.5h0M1165.5 572.5h0M1174.5 580.5h0M1186 543.5h0M1126 570h0M1171.5 596.5h0M1113.5 592h0M1172.5 591h0M1113 658h0M1159 564.5h0M1168 600.5h0M1122 556h0M1177 599.5h0M1123.5 627h0M1150 642h0M1165 550h0M1164 520h0M1169 583h0M1173.5 574.5h0M1160.5 615.5h0M1166.5 534h0M1122.5 628.5h0M1116.5 568.5h0M1151 563h0M1119 663.5h0M1135.5 557.5h0M1126 573.5h0M1126.5 554.5h0M1169 555.5h0M1184 583h0M1278 553.5h0M1295.5 570.5h0M1211 588.5h0M1227.5 576h0M1264 570.5h0M1285 583h0M1188.5 577.5h0M1203.5 644.5h0M1217 567.5h0M1222 589h0M1192.5 589h0M1261 544.5h0M1233.5 581h0M1211 567h0M1188.5 560.5h0M1198 592.5h0M1197.5 592.5h0M1256.5 573.5h0M1293.5 567h0M1253 624.5h0M1209 604.5h0M1212.5 554h0M1224.5 607h0M1194.5 607.5h0M1223.5 587h0M1224 642.5h0M1198.5 605.5h0M1271 602.5h0M1250.5 592.5h0M1199 592.5h0M1202 557h0M1256 549.5h0M1241.5 606h0M1267 603h0M1249 667h0M1217.5 556h0M1209 561h0M1296.5 545.5h0M1274 592h0M1294.5 613h0M1273 578h0M1258 537.5h0M1223.5 566.5h0M1268 580h0M1257.5 612h0M1286 573.5h0M1205 596.5h0M1242 535.5h0M1219.5 539h0M1191 595.5h0M1285 556.5h0M1226 577.5h0M1193 581.5h0M1241 586h0M1219 601h0M1278.5 605.5h0M1238.5 619h0M1245.5 584.5h0M1277 588h0M1254.5 551h0M1193 569h0M1298 582h0M1214.5 545.5h0M1289.5 597.5h0M1213.5 556h0M1260.5 604h0M1275 610h0M1248.5 574.5h0M1264 571.5h0M1275 628.5h0M1262 585h0M1249 569h0M1263.5 599h0M1284 594h0M1296.5 591.5h0M1225.5 585.5h0M1285 598h0M1257.5 549h0M1284 585.5h0M1257.5 587.5h0M1271.5 570h0M1214.5 579.5h0M1266.5 550.5h0M1267 585h0M1239 565h0M1189.5 564.5h0M1187.5 615.5h0M1270.5 605.5h0M1287 628h0M1224 587h0M1230 532h0M1252.5 556h0M1271.5 564h0M1322 573.5h0M1321.5 602.5h0M1313 594.5h0M1320 609h0M1329 578.5h0M1303.5 631.5h0M1300.5 579.5h0M1329.5 621h0M1303.5 570.5h0M1328 593.5h0M1302 611h0M1306.5 589h0M1307.5 598.5h0M1329 577.5h0M1308.5 606.5h0M1311 602h0M1320.5 584.5h0M1319 595h0M1329 617h0M1312.5 626.5h0M1313.5 584h0M1312 622h0M1305 589.5h0M1307.5 580.5h0M1372 628.5h0M1396 599h0M1404 597h0M1406 557h0M1357.5 617h0M1386 551.5h0M1372 562.5h0M1354 542h0M1391.5 575.5h0M1367 573h0M1371.5 600h0M1355.5 546h0M1381.5 587h0M1380.5 568h0M1382 632.5h0M1404.5 579h0M1350.5 615h0M1355 628h0M1378.5 585.5h0M1395 661.5h0M1371 595h0M1405.5 605h0M1381.5 574h0M1362.5 605.5h0M1394 583h0M1367 600.5h0M1366 602h0M1399.5 633.5h0M1381.5 644h0M1364.5 616.5h0M1386.5 583.5h0M1396 544h0M1381 548.5h0M1407 606h0M1424.5 548h0M1417 568.5h0M1411 577.5h0M1413 588.5h0M1429.5 566.5h0M1423 668.5h0M1429 582.5h0M1407.5 569.5h0M1407.5 533.5h0M1410.5 566h0M1407 608h0M1430 593h0M1426 572h0M1435.5 578.5h0M1409.5 591h0M1416.5 623h0M1413 549.5h0M1428.5 540.5h0M1415 615.5h0M1425.5 591h0M1419.5 568h0M1407 556.5h0M1419 619.5h0M1426 620h0M1418 627.5h0M1434 566h0M1429 574.5h0M1416.5 582h0M1423 556.5h0M1415 594.5h0M1415 548.5h0M1435.5 568.5h0M1429 571h0M1451 598h0M1495.5 570h0M1479.5 628.5h0M1491 541h0M1480.5 574.5h0M1467.5 603.5h0M1481.5 612h0M1456 556.5h0M1456 613.5h0M1440.5 600h0M1508 584.5h0M1489 565h0M1493 552.5h0M1506 572h0M1487 585.5h0M1507.5 573h0M1491 600.5h0M1465.5 575h0M1453.5 573.5h0M1463.5 599.5h0M1486 577.5h0M1490 617.5h0M1483.5 523h0M1447.5 584.5h0M1445 541h0M1507.5 576h0M1503.5 570.5h0M1491.5 579.5h0M1494 620h0M1493 582.5h0M1479.5 603h0M1495.5 576.5h0M1446 623h0M1505 615.5h0M1447 592.5h0M1492 620h0M1452.5 582.5h0M1447 568h0M1490.5 562h0M1443.5 582h0M1442.5 555.5h0M1443 632.5h0M1458.5 595h0M1466 610.5h0M1456.5 605h0M1496.5 568.5h0M1457.5 535.5h0M1507.5 593h0M1478 584h0M1466 651h0M1441.5 559.5h0M1459 555h0M1459 564.5h0M1477 594.5h0M1494 584h0M1490.5 556.5h0M1452.5 608.5h0M1492.5 631h0M1455 605h0M1462 631h0M1475.5 594h0M1501.5 592h0M1470 521.5h0M1504.5 574h0M1496.5 582.5h0M1582.5 578.5h0M1579 595.5h0M1607.5 626h0M1535 569h0M1526.5 600h0M1592 570h0M1556 562h0M1516 581.5h0M1607.5 599.5h0M1591 597h0M1580 589h0M1559 574.5h0M1570 558h0M1578.5 580.5h0M1576.5 582.5h0M1561.5 543.5h0M1560 561.5h0M1612.5 691h0M1584 602.5h0M1581.5 607.5h0M1612.5 565.5h0M1602.5 595.5h0M1549.5 554h0M1532 596h0M1527.5 557h0M1552 608.5h0M1563.5 610h0M1607 519h0M1510 548h0M1579 544.5h0M1525.5 538h0M1588 568h0M1594.5 591h0M1573.5 594.5h0M1542.5 592.5h0M1535.5 631h0M1531 563h0M1559 578.5h0M1571 604.5h0M1597 642h0M1541 581h0M1597.5 569.5h0M1529.5 558.5h0M1556 619.5h0M1587.5 544h0M1586 580h0M1569 651.5h0M1536.5 634h0M1510 618h0M1565.5 572.5h0M1521.5 601.5h0M1601 630h0M1524 556h0M1523.5 544h0M1577 584.5h0M1545.5 584.5h0M1549 552.5h0M1528 605.5h0M1529.5 619.5h0M1566 618h0M1589 615.5h0M1604.5 587.5h0M1595.5 580.5h0M1586.5 598h0M1597.5 610h0M1571 534.5h0M1612 606.5h0M1513 594h0M1608 564.5h0M1576.5 590.5h0M1536.5 635.5h0M1541 536.5h0M1627 594h0M1627 616h0M1618 555.5h0M1627.5 585.5h0M1638 598h0M1637 559.5h0M1620 599h0M1635.5 594h0M1624.5 623h0M1616.5 566.5h0M1623.5 545.5h0M1630 584.5h0M1613.5 572.5h0M1620.5 578h0M1635.5 539.5h0M1637 582h0M1614.5 570.5h0M1623 551h0M1616 547h0M1630.5 569h0M1624 575h0M1635 588.5h0M1633.5 598h0M1616.5 611.5h0M1620.5 569h0M1633.5 548.5h0M1621.5 619.5h0M1636.5 629.5h0M1622.5 575.5h0M1636.5 588h0M1698 592.5h0M1661.5 624.5h0M1673 567h0M1712.5 576h0M1683.5 577.5h0M1692.5 563.5h0M1704 513.5h0M1692.5 614.5h0M1691 611.5h0M1700 599.5h0M1688.5 590.5h0M1697 601.5h0M1674.5 621h0M1643 623.5h0M1660.5 591h0M1660 661h0M1712 584.5h0M1642.5 607h0M1668 587h0M1701 660.5h0M1681.5 568h0M1682 629.5h0M1648.5 567h0M1696.5 610h0M1710.5 578.5h0M1689.5 638.5h0M1696.5 637h0M1692.5 629h0M1706 585h0M1672 513.5h0M1668 597.5h0M1696.5 563h0M1675.5 628h0M1651.5 578.5h0M1646.5 561.5h0M1675 627h0M1697.5 592.5h0M1657 575.5h0M1698.5 660h0M1649 581.5h0M1709 594.5h0M1641.5 645h0M1658.5 563h0M1700 562.5h0M1664.5 571h0M1645 570h0M1701 615h0M1668 603.5h0M1702.5 579.5h0M1672 637h0M1663 573h0M1652 524h0M1668 567h0M1688.5 586.5h0M1671 552h0M1678 616.5h0M1697.5 572h0M1774 560h0M1792 593.5h0M1763 602h0M1787 615h0M1761 524h0M1782 580h0M1781.5 568.5h0M1738.5 515h0M1753.5 528.5h0M1737 564.5h0M1790 568.5h0M1792.5 574h0M1733 606h0M1771.5 591.5h0M1743 561h0M1800 542.5h0M1779 574.5h0M1754 574h0M1767 535.5h0M1752.5 529.5h0M1743.5 566h0M1743.5 599.5h0M1746.5 584h0M1760 477h0M1743.5 606h0M1756 560.5h0M1783.5 586h0M1802 549h0M1797 602h0M1779.5 602.5h0M1764 567.5h0M1732.5 559.5h0M1754 641.5h0M1754.5 590h0M1801 636h0M1744.5 621h0M1763.5 496.5h0M1772 547h0M1742 548.5h0M1799.5 592.5h0M1757 571.5h0M1770 626.5h0M1776.5 580.5h0M1746 585h0M1763.5 532h0M1796.5 553h0M1797.5 536.5h0M1802 631.5h0M1786 617h0M1753 581.5h0M1739.5 578.5h0M1731 624h0M1732.5 625.5h0M1761.5 567h0M1788.5 554.5h0M1762 582.5h0M1771.5 577.5h0M1792 539h0M1775 553.5h0M1745 544.5h0M1795.5 595h0M1840 570.5h0M1856 632.5h0M1841 630.5h0M1879 592h0M1858 555h0M1868.5 562.5h0M1822 575.5h0M1831 583.5h0M1876 657h0M1838.5 631h0M1840 592.5h0M1883.5 557h0M1861 583.5h0M1863 550h0M1833.5 574h0M1855 661h0M1883.5 542.5h0M1862 543h0M1821.5 585.5h0M1826 586h0M1843 598h0M1857 583.5h0M1837 521.5h0M1871 652h0M1833 583.5h0M1830 591.5h0M1865 614.5h0M1863 587h0M1839.5 589.5h0M1848.5 572.5h0M1852.5 567.5h0M1882.5 609h0M1863 587.5h0M1856.5 532.5h0M1858.5 626.5h0M1822 603.5h0M1834.5 563.5h0M1868.5 617.5h0M1832.5 583.5h0M1870 653h0M1836 624.5h0M1820 620h0M1850.5 598.5h0M1834 597h0M1884 545h0M1863 658.5h0M1846 596h0M1864.5 558.5h0M1869 609h0M1825.5 567.5h0M1864 590.5h0M1834 634.5h0M1882.5 565h0M1828.5 614h0M1821 569h0M1835 599h0M1821.5 622.5h0M1880.5 601.5h0M1855.5 634h0M1839.5 637.5h0M1864 557h0M1829 589.5h0M1924 582.5h0M1903 541h0M1925 536.5h0M1920.5 583h0M1922 620h0M1909.5 550h0M1958.5 589.5h0M1949 584h0M1923 623.5h0M1914 568.5h0M1936 578h0M1954.5 600h0M1920 571h0M1954 578.5h0M1958.5 623.5h0M1953 554.5h0M1926.5 574.5h0M1954 572.5h0M1928.5 548h0M1940 565.5h0M1904 641h0M1918 612.5h0M1909.5 607.5h0M1959.5 590h0M1960 613.5h0M1959 577.5h0M1903 558.5h0M1960.5 582.5h0M1934.5 578.5h0M1925.5 570h0M1908 619.5h0M1976 571h0M1986.5 581h0M1971.5 588.5h0M1971 635.5h0M1989 567h0M1980.5 598h0M1970.5 599h0M1968 577.5h0M1966 597.5h0M1969 619.5h0M1969 627.5h0M1967 611h0M1976 571.5h0M1968.5 582.5h0M1972.5 628.5h0M1970 557h0M1972 607.5h0M1989.5 613.5h0M1975.5 643.5h0M1980 548h0M1983 578h0M1980 594h0M1986 630h0M1972 558.5h0M1966.5 569h0M1966 575h0M1977 572.5h0M1983.5 553.5h0M2000 634.5h0M2009 590.5h0M2008.5 611.5h0M2027 585.5h0M2031.5 530.5h0M2027 598.5h0M2008.5 592.5h0M2030 561h0M2028.5 541.5h0M2023 547h0M2023.5 586.5h0M2002 601.5h0M2024.5 637.5h0M2017 574h0M2002 578.5h0M2002.5 588.5h0M2019.5 585.5h0M2004.5 605.5h0M2032 603h0M2025.5 637h0M2022.5 607h0M2022 583.5h0M2009 548h0M2000 566h0M2018 568h0M1999 581.5h0M2030 571h0M2005.5 655h0M2013 654.5h0M2016 608h0M2021 607h0M2031.5 568h0M2004.5 600.5h0M2025.5 585h0M2003 571h0M2012.5 577h0M2001.5 612.5h0M1998.5 594h0M1997.5 583.5h0M2007 607.5h0M2049 593h0M2034.5 682h0M2044 576.5h0M2032.5 585h0M2038.5 662h0M2044 612h0M2041.5 516.5h0M2037.5 560h0M2048 596.5h0M2037 586.5h0M2044 577h0M2038 620.5h0M2049 591.5h0M2078.5 648.5h0M2064 551h0M2078 627h0M2058 559.5h0M2061.5 643.5h0M2090.5 577.5h0M2060 602h0M2076 569.5h0M2082 595h0M2060 569h0M2089 604h0M2069 602.5h0M2091 600h0M2062.5 585h0M2063.5 633h0M2080.5 547h0M2058 576h0M2065 608h0M2076 579h0M2058 571h0M2054.5 551h0M2052.5 548.5h0M2074 574h0M2078.5 605.5h0M2061.5 608.5h0M2091 580h0M2061 617h0M2056.5 644.5h0M2086 582h0M2093.5 585h0M2074.5 610h0M2085.5 647.5h0M2071 581.5h0M2081.5 607.5h0M2096 549h0M2096 633h0M2099.5 558h0M2101.5 538.5h0M2105 632.5h0M2099 567h0M2105 565h0M2104 545.5h0M2099 572.5h0M2103 570h0M2129 604h0M2127 584h0M2145.5 595.5h0M2116 599.5h0M2132 543.5h0M2130.5 608h0M2114.5 570h0M2147 535h0M2110.5 628h0M2144 667.5h0M2116.5 624h0M2132.5 615.5h0M2124 533h0M2151 573h0M2137.5 573.5h0M2119.5 555h0M2129 589.5h0M2126 584h0M2111 519h0M2131.5 562.5h0M2122.5 572.5h0M2120 663h0M2114.5 597h0M2122 589.5h0M2112 558.5h0M2119 561h0M2123 574.5h0M2133 566.5h0M2138 580.5h0M2127 588h0M2147.5 615.5h0M2137 566.5h0M2141.5 598h0M2122.5 573h0M2110.5 554.5h0M2151 588h0M2168.5 644.5h0M2161 618h0M2162 661.5h0M2172 636h0M2161.5 607h0M2167 560.5h0M2155 599.5h0M2163 615h0M2154.5 659h0M2155.5 597h0M2166 603h0M2156 605.5h0M2189.5 634h0M2189.5 674.5h0M2196.5 595h0M2190.5 642h0M2182.5 590.5h0M2193.5 633.5h0M2177.5 642h0M2185 634h0M2193 600h0M2194.5 645h0M2187 584h0M2179.5 633h0M2197.5 604h0M2179.5 641h0M2197 538.5h0M2175.5 621.5h0M2208.5 582.5h0M2204.5 597h0M2211.5 573h0M2204 608h0M2217 611h0M2218.5 603.5h0M2211 620.5h0M2213.5 581h0M2207.5 504.5h0M2210 586h0M2205 571.5h0M2202.5 601.5h0M2217.5 548.5h0M2207 620h0M2203.5 559h0M2200.5 626.5h0M2217.5 570.5h0M2243.5 571.5h0M2221.5 533h0M2225.5 548h0M2232 548h0M2226.5 595h0M2236.5 621.5h0M2224.5 621h0M2233.5 620h0M2239 571.5h0M2230 605.5h0M2231.5 573h0M2244.5 595.5h0M2245 605.5h0M2223.5 593h0M2279.5 547.5h0M2279 542.5h0M2281 542h0M2260.5 654h0M2271.5 562h0M2265 570h0M2271.5 558h0M2265.5 559h0M2270.5 618.5h0M2276 589h0M2267.5 588h0M2273 571.5h0M2271.5 564.5h0M2266 565.5h0M2281.5 541h0M2270.5 588.5h0M2283 584.5h0M2259.5 555h0M2278.5 581h0M2263.5 574h0M2277 578h0M2284.5 630h0M2282 598h0M2272 586.5h0M2257 571h0M2264.5 582.5h0M2307 624h0M2298 674h0M2300 638.5h0M2313.5 654h0M2305 632.5h0M2310 673.5h0M2312.5 677h0M2308 696h0M2308 630.5h0M2300 659.5h0M2299 635.5h0M2314 685h0M2305.5 674.5h0M2310.5 712h0M2300 659h0M2313.5 674h0M2299.5 678.5h0M2305.5 675h0M2313 655.5h0M2303.5 721.5h0M2305 662.5h0M2314 652.5h0M2310 653.5h0M2315.5 683h0M2296.5 680.5h0M2315.5 640h0M2300 628h0M2316 617.5h0M2303.5 639h0M2316 621.5h0M2323.5 671h0M2320 694.5h0M2323.5 634h0M2318.5 604.5h0M2320 587h0M2317 645h0M2321 639h0M2319.5 660h0M2323 675.5h0M2320 673.5h0M2319.5 639.5h0M2322.5 678.5h0M2321.5 667h0M2359.5 534.5h0M2394 546.5h0M2368.5 609.5h0M2422.5 518.5h0M2354 470.5h0M2407.5 512.5h0M2425 518.5h0M2391.5 550h0M2350.5 511h0M2379.5 510.5h0M2417 549.5h0M2409.5 555.5h0M2326 535.5h0M2362.5 528.5h0M2407.5 551.5h0M2388 539.5h0M2436 574.5h0M2389.5 531.5h0M2389 556.5h0M2326.5 564h0M2412.5 568.5h0M2376.5 546.5h0M2325 511h0M2382 559h0M2353 565h0M2435.5 554h0M2394 570.5h0M2410.5 613h0M2426.5 575.5h0M2347 562h0M2337.5 532h0M2405 582h0M2351.5 575.5h0M2397 532h0M2345.5 509.5h0M2348.5 547h0M2423 534.5h0M2417.5 529.5h0M2344.5 537.5h0M2439.5 523.5h0M2352 520.5h0M2344.5 520h0M2360 552.5h0M2437 538h0M2433 574.5h0M2327 525.5h0M2353.5 591h0M2366 578h0M2384.5 542h0M2330.5 533h0M2424 542h0M2335.5 489.5h0M2330.5 518h0M2413.5 590.5h0M2367.5 525.5h0M2422 543.5h0M2434 565h0M2427 578h0M2402.5 514.5h0M2392 561.5h0M2372.5 576h0M2377 595.5h0M2442.5 521h0M2380.5 543h0M2431 560h0M2412.5 508.5h0M2327 551h0M2428.5 534.5h0M2390 552.5h0M2402 512h0M2393 540h0M2409 575.5h0M2410 553.5h0M2382 573.5h0M2440 504.5h0M2402 559h0M2399 570.5h0M2336.5 496.5h0M926 496h0M1057.5 493h0M874 503.5h0M776.5 703.5h0M2300 730.5h0M1459.5 687.5h0M1459.5 697.5h0M1820 488.5h0M1820 497.5h0M2331.5 478.5h0M365.5 508.5h0M254 513.5h0M1859 675h0M1859 705.5h0" stroke="url(#g)" stroke-width="4" stroke-linecap="round" fill="none"/>
<path d="M135 622h0M127 590h0M200.5 577.5h0M146 592.5h0M144.5 639.5h0M129 601.5h0M168.5 576h0M196 593.5h0M149.5 599h0M216 589h0M150 631h0M142.5 582.5h0M141 609h0M170 583.5h0M143.5 597.5h0M188.5 546.5h0M135 632.5h0M174.5 567h0M133.5 640.5h0M178.5 579.5h0M187 580.5h0M214 589h0M180.5 588.5h0M162.5 567h0M193.5 614h0M175.5 573h0M126.5 556h0M185 566h0M147.5 647h0M198.5 649.5h0M158.5 624h0M199 572.5h0M168 593h0M168.5 561.5h0M198.5 550.5h0M177.5 559.5h0M136 558h0M177 619h0M133.5 581.5h0M181 597h0M129 636.5h0M161 653h0M206 587h0M160 571h0M169.5 545h0M191.5 590.5h0M207 607h0M212.5 604.5h0M192 593.5h0M164.5 582h0M153.5 590.5h0M140.5 606.5h0M212.5 624h0M149.5 602.5h0M161 577h0M133.5 628.5h0M215.5 596.5h0M214.5 542h0M208.5 571h0M182.5 601.5h0M170 588h0M125 569h0M158 556.5h0M126.5 597.5h0M165.5 599h0M150 605.5h0M208.5 585h0M185.5 553h0M191.5 592h0M166.5 654h0M132.5 623h0M136 600h0M173.5 584h0M127.5 614.5h0M197 596h0M183 600.5h0M186 593h0M151 577.5h0M159 562h0M209 532h0M189.5 605.5h0M124.5 610h0M205.5 674h0M146 658h0M191 624.5h0M203.5 556.5h0M133.5 588.5h0M173 579h0M194 585h0M187 570h0M152.5 565h0M160.5 593.5h0M215.5 577h0M184 591h0M214.5 588.5h0M183.5 620.5h0M176 610h0M190.5 554.5h0M150.5 581h0M201 582.5h0M157.5 574.5h0M190.5 569.5h0M133.5 591.5h0M166 591.5h0M128.5 609.5h0M155.5 608h0M159 548.5h0M185 597.5h0M166 609.5h0M163 564.5h0M136.5 598h0M242 582h0M265.5 603h0M276.5 602.5h0M250 612h0M278 596.5h0M250 582h0M305 588h0M256.5 608.5h0M280.5 597h0M235 658.5h0M305 630h0M235 575h0M291 597.5h0M294.5 566h0M245.5 570h0M263.5 593.5h0M271 610h0M233.5 600.5h0M274.5 594h0M264.5 582.5h0M303 590.5h0M272.5 558.5h0M248 592h0M244 633.5h0M267 597.5h0M263 625h0M271.5 555.5h0M258 626h0M251.5 559h0M311.5 600h0M266 579h0M279 544.5h0M239 569h0M282 565.5h0M234.5 618.5h0M262 587.5h0M303 595h0M246 601.5h0M292.5 569h0M267 608h0M251 608.5h0M257.5 595.5h0M274.5 609h0M311 626h0M291.5 576.5h0M247 595h0M278.5 666h0M298.5 594h0M250 630.5h0M256 559.5h0M295.5 547h0M267.5 603.5h0M243.5 619h0M248.5 637h0M237.5 584h0M303.5 582.5h0M266.5 632h0M271.5 590h0M290 619h0M310 536.5h0M264 565h0M270 568h0M272.5 564h0M291.5 592h0M301.5 619.5h0M292 628h0M258.5 535.5h0M266.5 595h0M282 586.5h0M252.5 605.5h0M287.5 554h0M280 542.5h0M270 626.5h0M275 568.5h0M308.5 567.5h0M301.5 566.5h0M256 565h0M279.5 609h0M265.5 572.5h0M276 586h0M294.5 548.5h0M271 610.5h0M246.5 599.5h0M280 615h0M236 572.5h0M233.5 576h0M305 588.5h0M293.5 578h0M303 597h0M254 616h0M255.5 619.5h0M277 595h0M245.5 584.5h0M328 572h0M369 648.5h0M318 602h0M373.5 596.5h0M381 598.5h0M382.5 593h0M342 573.5h0M315 569h0M335.5 505h0M376.5 586.5h0M372 575.5h0M334.5 610h0M322 560.5h0M366 589h0M357 628.5h0M330.5 573.5h0M317 554.5h0M336.5 561.5h0M378 615h0M350 551.5h0M375 525h0M373.5 549h0M327.5 574.5h0M327 627h0M360 580h0M315 584h0M360.5 604h0M319.5 542.5h0M330 617h0M373 591h0M338.5 650h0M365.5 598h0M365 586h0M330.5 601h0M337.5 558.5h0M379 598.5h0M367 600h0M368.5 588.5h0M349.5 588.5h0M355 569h0M348 547h0M344.5 499.5h0M356.5 561h0M351 615.5h0M355.5 521h0M358 620h0M341 593.5h0M322.5 574h0M335 589.5h0M365 541.5h0M359.5 546h0M376.5 588h0M378 604h0M379.5 543.5h0M361.5 605h0M338 576.5h0M381 585h0M378 591h0M350 576.5h0M361.5 653.5h0M381.5 586.5h0M360 618.5h0M352 591.5h0M333 518.5h0M377.5 577.5h0M351.5 581.5h0M345 551.5h0M346.5 562h0M314 557h0M338.5 578h0M330 592h0M361 597h0M376.5 562h0M380 551h0M377.5 608.5h0M351 568h0M321.5 625h0M353 572.5h0M363.5 619.5h0M349 593.5h0M317.5 562.5h0M463 575.5h0M391 559.5h0M388 625h0M460 590.5h0M451.5 622.5h0M450 559.5h0M393.5 623.5h0M419.5 566h0M438.5 577h0M415.5 620h0M452.5 598h0M463 579h0M394.5 599h0M453.5 587.5h0M394 595.5h0M452.5 564h0M427 550.5h0M436 611h0M448.5 571.5h0M431 547.5h0M436.5 570h0M410.5 652h0M463 552.5h0M449.5 618h0M414.5 611.5h0M404 579h0M452 576.5h0M433.5 573h0M446.5 590h0M413.5 598.5h0M441 634h0M409 569.5h0M441 569h0M412 603.5h0M419.5 607h0M416 580h0M435.5 548.5h0M459.5 578h0M467 585.5h0M417.5 587h0M442 591.5h0M391.5 594.5h0M463 577.5h0M449 585.5h0M399 610h0M456.5 562.5h0M450.5 573.5h0M424 602.5h0M386.5 579h0M451.5 628.5h0M456.5 533h0M386.5 574h0M465 600.5h0M463.5 583.5h0M388.5 589h0M434 604h0M405 592.5h0M425.5 588.5h0M397.5 573h0M387 607h0M464 581h0M412 568.5h0M420.5 537.5h0M399 592.5h0M421.5 571h0M430 552h0M411.5 581h0M408 576.5h0M458 591.5h0M404 595h0M388.5 583h0M465 620.5h0M398.5 581h0M455.5 602h0M391.5 585.5h0M456 596.5h0M401 592h0M402.5 593.5h0M458 573.5h0M395 585.5h0M435 605.5h0M444 578h0M400.5 561h0M416 640.5h0M392.5 596.5h0M442.5 573h0M431.5 616h0M403.5 573.5h0M415.5 584.5h0M387.5 607h0M468.5 610h0M464 601h0M483 561h0M495 562.5h0M480.5 576h0M484 570h0M487 608.5h0M472.5 613h0M473.5 595.5h0M497 560h0M469.5 550h0M489.5 557h0M496.5 578h0M485 584h0M476 572.5h0M485.5 522h0M494 547.5h0M473 563.5h0M493 574.5h0M469.5 580h0M474.5 563.5h0M486.5 571.5h0M480 597.5h0M471.5 584h0M496.5 574.5h0M477 554h0M492 556.5h0M493.5 552h0M493 589.5h0M469 577h0M495.5 557h0M496.5 599h0M483 604.5h0M475 577.5h0M495.5 560h0M497 572h0M506 576.5h0M559 584.5h0M512 599h0M524.5 589h0M526 606h0M557.5 590.5h0M561.5 570h0M531 597.5h0M555.5 559h0M506 587.5h0M543 596h0M500 568h0M528 561.5h0M500 587h0M562.5 630.5h0M556 570.5h0M540 583h0M524 561.5h0M525.5 594h0M558 598.5h0M550 591.5h0M563 591.5h0M510 587h0M529.5 616.5h0M560 584h0M548.5 566h0M530.5 617h0M567.5 559h0M501 566.5h0M501 650.5h0M536 629.5h0M506 576h0M518 610.5h0M522.5 623.5h0M544 582.5h0M550.5 574.5h0M529 567.5h0M521 595h0M513 559.5h0M546 589.5h0M567.5 607.5h0M522.5 601h0M554 535.5h0M512 556.5h0M509 547h0M505 571.5h0M557 620h0M519 571h0M503 584h0M557 572.5h0M526 584h0M508.5 619h0M538.5 544.5h0M527 610.5h0M565.5 607.5h0M504 605.5h0M529.5 607h0M518.5 585h0M522.5 587h0M499 608h0M559 591h0M561 566h0M544.5 566.5h0M518 612h0M548 566.5h0M509.5 589h0M512.5 590h0M562 539.5h0M504 595h0M525 563h0M597.5 571.5h0M577.5 564.5h0M643 575.5h0M618 570.5h0M642.5 591.5h0M577.5 548h0M641 620h0M575 556h0M631 562h0M645 606h0M644.5 574h0M594.5 622h0M612 592h0M642.5 592h0M575.5 619h0M572 549h0M600.5 587.5h0M614.5 603.5h0M633 548.5h0M581 547.5h0M593.5 590.5h0M602 575.5h0M589.5 560h0M632.5 558.5h0M597.5 556.5h0M622.5 539.5h0M579 591.5h0M575.5 599.5h0M572.5 570h0M650 612h0M629.5 605h0M603.5 559h0M627.5 601h0M579.5 613h0M591.5 601h0M606.5 578.5h0M589.5 573.5h0M605.5 542h0M643.5 529h0M618.5 578.5h0M622.5 590.5h0M604.5 588h0M591 554h0M627 606h0M576 617h0M625 537h0M637 605h0M607.5 614h0M583 570.5h0M580 600h0M596.5 563h0M649.5 545.5h0M578 623.5h0M633 651.5h0M581.5 598h0M609.5 593h0M605 574.5h0M596.5 593.5h0M627 561.5h0M648.5 605.5h0M635.5 541.5h0M601 578.5h0M586 581h0M621.5 586h0M607 607.5h0M623.5 546h0M624.5 575h0M612.5 544h0M594.5 565h0M628.5 599.5h0M598.5 575.5h0M640.5 548.5h0M624.5 565.5h0M599.5 666.5h0M620 550h0M611 597h0M571.5 588h0M634 585.5h0M610.5 557h0M630 637.5h0M638 609.5h0M626.5 554.5h0M627.5 592h0M619.5 569h0M620 618h0M594 592h0M574.5 591.5h0M589.5 591h0M662.5 567.5h0M672.5 627.5h0M663 570.5h0M658 579h0M667.5 563.5h0M666 615h0M656.5 562h0M668 627h0M655.5 610.5h0M662 567.5h0M659.5 600.5h0M677.5 613h0M667.5 574.5h0M677 581h0M660.5 582.5h0M675.5 563.5h0M670.5 570.5h0M664.5 584.5h0M674 581.5h0M675.5 561.5h0M665 575.5h0M675.5 575h0M660 586h0M651.5 608.5h0M711.5 563h0M740.5 600h0M720 592h0M712.5 593.5h0M782 605.5h0M721 572.5h0M699 579h0M756 581.5h0M715.5 598h0M684.5 596.5h0M729.5 584h0M712.5 544.5h0M784.5 618h0M784 602.5h0M770 625.5h0M688 556h0M779 583h0M719.5 610h0M773.5 577.5h0M684 591.5h0M703.5 598h0M732.5 599h0M702.5 562.5h0M690 570.5h0M785 564h0M773 592h0M750.5 555.5h0M789.5 651.5h0M724.5 596h0M721 549h0M721.5 604.5h0M725 570.5h0M756 619.5h0M781.5 563.5h0M711.5 587.5h0M750.5 623.5h0M705 556.5h0M746 587h0M740.5 541h0M767.5 589.5h0M763.5 613h0M742.5 571.5h0M713.5 600.5h0M738 600h0M741.5 613.5h0M729.5 573.5h0M777.5 586h0M789 558h0M745 570.5h0M793.5 592.5h0M710 594.5h0M784.5 556.5h0M701.5 606h0M687.5 642h0M692.5 633.5h0M785.5 630.5h0M699 591.5h0M753 582.5h0M699.5 554.5h0M764.5 628h0M756.5 562.5h0M718.5 565.5h0M719.5 626h0M685 581.5h0M775.5 606.5h0M788.5 631.5h0M690.5 602h0M715 604h0M773.5 561h0M706 554.5h0M689 600h0M752 622.5h0M788.5 604.5h0M736.5 584h0M763.5 593h0M701.5 577h0M735 646.5h0M780 566.5h0M795.5 587h0M702 585h0M740 616.5h0M743.5 622.5h0M702 541h0M687 599h0M727 561.5h0M682 588.5h0M774.5 602h0M718 575.5h0M785.5 599.5h0M683 569.5h0M739 588h0M752.5 579.5h0M692.5 587.5h0M778.5 582.5h0M719.5 586.5h0M783.5 571h0M779.5 596.5h0M752 586.5h0M735.5 532.5h0M702 567h0M775 572.5h0M752 630h0M703.5 573.5h0M708 566h0M784 607h0M701 584h0M698 565h0M756 627.5h0M772.5 558.5h0M784 606.5h0M790.5 555.5h0M726 578h0M730 552h0M774.5 579.5h0M697 554h0M786.5 566.5h0M693.5 578h0M795 584h0M730 635h0M780.5 610.5h0M704.5 559h0M783 581.5h0M721 580h0M888.5 600.5h0M797.5 578h0M907 580.5h0M808.5 567.5h0M862.5 642h0M921 594.5h0M799.5 551.5h0M907.5 614h0M920.5 639h0M908.5 613.5h0M881.5 557.5h0M809.5 618.5h0M924 579h0M825.5 624h0M839 614h0M806.5 595h0M920.5 552.5h0M859.5 589.5h0M826.5 602h0M855 605h0M873.5 577.5h0M929.5 550.5h0M875 561h0M917.5 623.5h0M906.5 600.5h0M886 592h0M827 601.5h0M824 549h0M896.5 596h0M804.5 576.5h0M914.5 568h0M925 597.5h0M928.5 645h0M819.5 598h0M815 591h0M826 539h0M876 554.5h0M847 587.5h0M915.5 505.5h0M829.5 609.5h0M814.5 599h0M825 538h0M845 564h0M883 589.5h0M837 552.5h0M859 579h0M891 577h0M825.5 540h0M905 586h0M897 601h0M869.5 565h0M836 627.5h0M879 575.5h0M832 522h0M854.5 580.5h0M888 573.5h0M861 547.5h0M865.5 571h0M840.5 580h0M860 580.5h0M828 568.5h0M868 585.5h0M833.5 595.5h0M926 541h0M900 590.5h0M880 614h0M905 604.5h0M836 584h0M815 562.5h0M799.5 580.5h0M872 564.5h0M857.5 551.5h0M917.5 511.5h0M828 654h0M905 617h0M906 606h0M816 560h0M836 555.5h0M897.5 605h0M804.5 615h0M895 602.5h0M920.5 572.5h0M891.5 583.5h0M848 585.5h0M925.5 583h0M799 612h0M848.5 615h0M857 589h0M841.5 596.5h0M929.5 629h0M820 542.5h0M799.5 567.5h0M907 627h0M920.5 623h0M882 592h0M897.5 557.5h0M868 592h0M849.5 574.5h0M893 579.5h0M815 582h0M925.5 557.5h0M866 605h0M799 611h0M871 612h0M838 584h0M897 573h0M885 600h0M853.5 562.5h0M931 584h0M899.5 609.5h0M801.5 589h0M887 584h0M931 583h0M859.5 678.5h0M807 570h0M850 532h0M880 578h0M883 583h0M922 650h0M926.5 586.5h0M905.5 612.5h0M855 624.5h0M817.5 592h0M832.5 567.5h0M816 581.5h0M801.5 592.5h0M887.5 619h0M858.5 554.5h0M808 622h0M803 594h0M856.5 576.5h0M844.5 552h0M910.5 575.5h0M914 607h0M853 573h0M847 610h0M973.5 620h0M940.5 631.5h0M968.5 579h0M968.5 595.5h0M966.5 607h0M952.5 568.5h0M974 595.5h0M977 625.5h0M934.5 574.5h0M948.5 597h0M950.5 603h0M938.5 613h0M976.5 577.5h0M951 576h0M953.5 585h0M968.5 608h0M957 630h0M962.5 633.5h0M969.5 566.5h0M970.5 565.5h0M938.5 597.5h0M944.5 598.5h0M976 661h0M972.5 616h0M942.5 568h0M952 578.5h0M959 565.5h0M953.5 579.5h0M966 561.5h0M949 551.5h0M978.5 585.5h0M947.5 585.5h0M976 605.5h0M954 593.5h0M956 576.5h0M943 614h0M956 578h0M978 603h0M956 551h0M978 581.5h0M956 585h0M973 553h0M945 622h0M947.5 612.5h0M953 595h0M950 549h0M970.5 638h0M978 630.5h0M971.5 547h0M973.5 628h0M954.5 617h0M943.5 532h0M983.5 571.5h0M982.5 562h0M1037.5 575h0M1038.5 584.5h0M1051.5 616.5h0M1046 514h0M1015.5 583.5h0M1040.5 604h0M1047 604h0M1012 617.5h0M1012 601h0M991 594h0M1025 630.5h0M996 676.5h0M1005.5 551h0M1052 589.5h0M1018 570.5h0M991.5 581.5h0M1061.5 566.5h0M1000.5 625.5h0M1058.5 557h0M1034 565.5h0M1051 564h0M1051.5 538h0M1004 589h0M989.5 555.5h0M1015 623.5h0M998 579h0M1039.5 552h0M1012.5 585h0M1031.5 536h0M1044.5 609.5h0M1053 567h0M1041.5 567h0M1025.5 600h0M1043 565h0M1050.5 559h0M1009.5 610h0M986 621h0M990.5 581.5h0M1035 586h0M995.5 527h0M1054 553h0M997.5 639.5h0M1037 568h0M1004.5 581.5h0M1045 568.5h0M1061 590h0M1037.5 537.5h0M1043 588.5h0M1031 601h0M1036.5 582h0M992 585h0M1047 614.5h0M1047.5 542h0M997.5 564h0M1004 551.5h0M1017.5 556h0M1035 586.5h0M1032.5 625h0M1024.5 606h0M1011.5 557h0M996.5 579h0M1020.5 583h0M1012 574h0M1059 594h0M1040.5 570.5h0M1053 567.5h0M1059 608.5h0M1003.5 585h0M1060 625h0M1062 583.5h0M1045 618h0M1040.5 534.5h0M1038.5 622.5h0M1006 572.5h0M989 580h0M1048 569h0M1060.5 584.5h0M1055 585h0M1039.5 577.5h0M1039 584h0M1025.5 567.5h0M1037.5 552h0M1060.5 582h0M1045.5 629.5h0M1046.5 631h0M989 561h0M1002.5 591.5h0M990.5 640.5h0M1058.5 582h0M1059.5 580h0M1057.5 598.5h0M1009 580.5h0M994.5 617.5h0M1047 548.5h0M1003.5 609h0M1003 550.5h0M1032 553.5h0M1069.5 584.5h0M1076.5 564h0M1099 603h0M1099.5 572.5h0M1067.5 588h0M1065.5 578h0M1103.5 570h0M1091.5 600h0M1083 577.5h0M1095.5 606h0M1104 574.5h0M1096.5 556h0M1084.5 632h0M1098.5 548.5h0M1097 543h0M1101.5 567.5h0M1071 600h0M1105.5 572.5h0M1107.5 543h0M1095.5 549.5h0M1084.5 580h0M1084 619.5h0M1076 588.5h0M1083.5 593.5h0M1085 579.5h0M1081.5 588h0M1088.5 561.5h0M1087 595.5h0M1085 548.5h0M1093.5 603h0M1085 586h0M1087 579h0M1066.5 611.5h0M1098 590.5h0M1074.5 598.5h0M1091.5 572.5h0M1094.5 609.5h0M1102 599h0M1071.5 543.5h0M1103 585h0M1095 604.5h0M1080 607.5h0M1082 620h0M1104 571.5h0M1098.5 602.5h0M1082 592.5h0M1100 545.5h0M1101.5 541h0M1085 611.5h0M1093 583.5h0M1105.5 567.5h0M1096.5 536.5h0M1103 519h0M1082 612h0M1069.5 598h0M1082 606h0M1163 578.5h0M1129.5 623.5h0M1184 557.5h0M1169.5 570h0M1167.5 602h0M1133 653h0M1162 580h0M1138 593.5h0M1144 619.5h0M1127 590.5h0M1141 584.5h0M1127.5 589h0M1143 549.5h0M1150 567h0M1186 546h0M1146.5 564.5h0M1170 592h0M1184 628h0M1148.5 590.5h0M1181 571.5h0M1145.5 596.5h0M1117 582.5h0M1134 590h0M1147 597h0M1154 561.5h0M1170 593.5h0M1113 596.5h0M1160 586h0M1149.5 610h0M1135.5 565h0M1158 569h0M1166 586h0M1170 562.5h0M1122 598.5h0M1170.5 601.5h0M1134 587.5h0M1160 579.5h0M1126.5 627h0M1145.5 590.5h0M1166 549.5h0M1147 519h0M1117 562.5h0M1125 609h0M1136.5 631.5h0M1186 576.5h0M1136 606h0M1119 596.5h0M1131.5 560.5h0M1151.5 578.5h0M1173 599.5h0M1146.5 615h0M1165 568.5h0M1142.5 577.5h0M1117 627h0M1169 575.5h0M1164 609h0M1148.5 568h0M1178.5 536h0M1138.5 590.5h0M1116 655.5h0M1156 562h0M1164 633.5h0M1123.5 592.5h0M1166 586.5h0M1182 508h0M1179 636h0M1164 580.5h0M1127.5 557.5h0M1124 591h0M1164 611h0M1118.5 620h0M1163 555.5h0M1148 562h0M1175 584h0M1116.5 584h0M1155 577.5h0M1164.5 607h0M1131 624.5h0M1194.5 649h0M1256 591h0M1231.5 555h0M1245 578h0M1265.5 552.5h0M1281 589.5h0M1246.5 587.5h0M1221.5 567h0M1230.5 620h0M1270.5 573h0M1222.5 601h0M1283 585.5h0M1243.5 587.5h0M1215.5 570.5h0M1255.5 563.5h0M1204 567.5h0M1253.5 572.5h0M1198.5 646.5h0M1193.5 553h0M1196.5 617.5h0M1196 632.5h0M1291 616h0M1226 596h0M1189.5 556.5h0M1241.5 577h0M1234 564.5h0M1281 575.5h0M1236 592.5h0M1260.5 561.5h0M1238.5 578.5h0M1286.5 580h0M1287.5 546h0M1238 596h0M1264.5 573.5h0M1259 554.5h0M1249.5 535h0M1271.5 631h0M1233 532h0M1257 607h0M1292.5 622h0M1255.5 555.5h0M1266 611.5h0M1227.5 570h0M1245 564.5h0M1209 559h0M1291.5 580h0M1193 540h0M1249 613h0M1283 558h0M1287.5 587.5h0M1296 648.5h0M1204 567h0M1293.5 574.5h0M1191 569.5h0M1190 609h0M1242 588.5h0M1227 533h0M1223.5 579h0M1210.5 583.5h0M1254 579.5h0M1206.5 566h0M1251.5 557.5h0M1281 584.5h0M1247.5 561h0M1225.5 588h0M1276 561.5h0M1201 583.5h0M1222.5 564h0M1219.5 556.5h0M1206 589h0M1254 580h0M1202.5 584.5h0M1230.5 632.5h0M1294.5 567.5h0M1197 561h0M1285.5 625h0M1224 558.5h0M1268.5 586.5h0M1198 597.5h0M1272 549.5h0M1243.5 598h0M1258 571h0M1206 635.5h0M1246 602.5h0M1241 607.5h0M1217.5 604h0M1211 656h0M1240.5 592h0M1256 548.5h0M1194 598.5h0M1193.5 592.5h0M1197 519h0M1276 552h0M1227 555h0M1241.5 546.5h0M1268.5 567h0M1297.5 624.5h0M1295 638h0M1273.5 605.5h0M1230.5 609.5h0M1225.5 595h0M1311.5 565.5h0M1301.5 576h0M1306 616.5h0M1301.5 592.5h0M1327 569.5h0M1302 546h0M1315.5 581h0M1309.5 598.5h0M1326.5 582h0M1306 562h0M1327 592.5h0M1299.5 628.5h0M1306 575h0M1313.5 612.5h0M1309.5 603h0M1308.5 636.5h0M1311.5 591.5h0M1311.5 586.5h0M1326.5 575h0M1323 611.5h0M1303 582.5h0M1299 569h0M1302 566.5h0M1315 629h0M1319 638h0M1327.5 607.5h0M1313 608.5h0M1323.5 574.5h0M1309.5 572h0M1319.5 549.5h0M1323.5 570h0M1305.5 583.5h0M1314 609h0M1319 581h0M1317.5 600h0M1316 566.5h0M1326.5 624h0M1352.5 586h0M1360 571h0M1403 569.5h0M1386.5 563.5h0M1398 573.5h0M1403.5 620h0M1367 565.5h0M1387.5 578.5h0M1363.5 551h0M1405 600.5h0M1367 592h0M1394 608.5h0M1356.5 576.5h0M1386 647.5h0M1376 569.5h0M1357 606.5h0M1368 556h0M1358 632h0M1397 602h0M1405 595.5h0M1399 580h0M1360 562.5h0M1351.5 579h0M1393.5 569h0M1358.5 524.5h0M1371 609h0M1396.5 623h0M1386.5 660h0M1377 593.5h0M1374.5 587.5h0M1403 599.5h0M1397 589h0M1371.5 581.5h0M1398 562.5h0M1368 555.5h0M1355.5 563.5h0M1390 567h0M1351.5 608h0M1367 558.5h0M1386.5 547.5h0M1394.5 590.5h0M1370 610.5h0M1394.5 566.5h0M1405 603h0M1383.5 556.5h0M1393 593.5h0M1405 578.5h0M1373.5 597h0M1392.5 616.5h0M1398.5 538.5h0M1362 580h0M1386 548.5h0M1384 577h0M1393.5 603h0M1400.5 626.5h0M1401 544h0M1405 626.5h0M1383 561.5h0M1360.5 607.5h0M1366.5 641h0M1424 564h0M1407.5 538.5h0M1406.5 566h0M1430.5 561h0M1425.5 555.5h0M1406.5 613.5h0M1429 581h0M1414 609h0M1408 552.5h0M1425 595h0M1429.5 584h0M1414.5 573h0M1420.5 591.5h0M1434.5 605.5h0M1414.5 592.5h0M1419.5 574.5h0M1415 563h0M1411 581.5h0M1407 559h0M1418 578.5h0M1410.5 563h0M1407.5 620.5h0M1425.5 587.5h0M1419.5 574h0M1429.5 576.5h0M1430.5 576.5h0M1424 564.5h0M1414 591h0M1430.5 597h0M1413 563.5h0M1414 595.5h0M1410.5 607h0M1435.5 560h0M1410.5 600h0M1462 604.5h0M1481 619h0M1500.5 555h0M1464.5 608.5h0M1457 544h0M1467 571.5h0M1462 536.5h0M1450 555h0M1491.5 581.5h0M1491.5 547.5h0M1496.5 558h0M1456.5 590.5h0M1489 559h0M1465 561.5h0M1502.5 569h0M1475.5 586.5h0M1497 591.5h0M1440 590.5h0M1446.5 628h0M1500.5 619h0M1502 547.5h0M1486 609.5h0M1496 578h0M1495.5 614h0M1495.5 561h0M1472.5 584h0M1485 587.5h0M1451.5 586h0M1470.5 643h0M1452.5 596h0M1499.5 565.5h0M1456 568h0M1458 663.5h0M1496 560.5h0M1482.5 540h0M1457 589.5h0M1474 600h0M1439.5 624h0M1504 558.5h0M1456 648.5h0M1450.5 556h0M1484 575h0M1490 564h0M1441 617.5h0M1493.5 578.5h0M1469 575.5h0M1448 564.5h0M1509 551h0M1445.5 579h0M1500.5 626.5h0M1471 583.5h0M1456 562h0M1496.5 616h0M1458.5 589h0M1447 629.5h0M1490 575.5h0M1461.5 582h0M1494.5 572.5h0M1476 552.5h0M1467.5 625.5h0M1508.5 589h0M1506.5 609h0M1446 558h0M1491 609.5h0M1485 538h0M1481 604h0M1491.5 623h0M1497 587h0M1495.5 549.5h0M1468 658h0M1493 591h0M1503.5 623.5h0M1483 591h0M1499.5 559.5h0M1460 643h0M1461.5 586h0M1454.5 518h0M1448 579.5h0M1512 581h0M1530 579.5h0M1522 607.5h0M1577 606.5h0M1611 553.5h0M1529.5 623h0M1577.5 663h0M1571 588h0M1564.5 584h0M1541 578.5h0M1561 568.5h0M1567.5 567.5h0M1609 541h0M1546 599.5h0M1538 635.5h0M1558.5 606h0M1554.5 639.5h0M1533 600.5h0M1511 583.5h0M1599 572.5h0M1589 560h0M1587.5 599.5h0M1544 582.5h0M1589.5 575.5h0M1600.5 563.5h0M1525 624h0M1572 568h0M1543.5 590.5h0M1515 558.5h0M1541.5 571h0M1570 613h0M1532.5 572h0M1546.5 571h0M1603.5 596h0M1541.5 653.5h0M1551 600h0M1515 579.5h0M1585.5 581h0M1548 571h0M1521.5 609h0M1517 586h0M1556.5 605h0M1580 636.5h0M1611 576h0M1525.5 602h0M1602 583.5h0M1572.5 533h0M1573 570h0M1604.5 619h0M1576 600h0M1558 543h0M1593.5 644h0M1512 569.5h0M1567 604h0M1568 571h0M1599 566.5h0M1591 601.5h0M1551.5 570.5h0M1536 628h0M1595.5 560h0M1532 578h0M1585.5 535.5h0M1542 644.5h0M1584.5 564h0M1598.5 577h0M1591 611.5h0M1551 574h0M1543 635.5h0M1549 573h0M1612 639.5h0M1585 551h0M1551 589h0M1607.5 584h0M1535 600h0M1513 576h0M1543.5 554h0M1553 600.5h0M1518 583h0M1599 585h0M1524.5 570h0M1577.5 600.5h0M1551.5 606.5h0M1607 571.5h0M1522.5 563h0M1571.5 559h0M1580 564h0M1563 600h0M1522.5 553h0M1589.5 577.5h0M1518.5 602.5h0M1605 608h0M1600 665h0M1574 589h0M1531.5 621.5h0M1604 599h0M1533 632.5h0M1574.5 637h0M1589.5 565.5h0M1519 568.5h0M1518 578h0M1521.5 567.5h0M1535.5 513.5h0M1519 562.5h0M1566 584.5h0M1561 579h0M1535 621h0M1557 582.5h0M1544 572h0M1584 601.5h0M1607 632.5h0M1557 610h0M1551 591.5h0M1517.5 610.5h0M1521.5 593.5h0M1518.5 598h0M1528.5 575h0M1600.5 616h0M1592.5 571h0M1637 605h0M1639 595h0M1616 603.5h0M1624 610h0M1632 574.5h0M1618 580h0M1629.5 581.5h0M1633.5 601.5h0M1626.5 604h0M1635 587h0M1621.5 566h0M1627.5 627h0M1615 575.5h0M1626 592.5h0M1626.5 578h0M1617 604h0M1620.5 533.5h0M1617.5 633.5h0M1621.5 584h0M1613.5 590.5h0M1623 562h0M1615 592h0M1629.5 555h0M1632 613h0M1635 576.5h0M1639 555.5h0M1629 589.5h0M1638.5 535.5h0M1632.5 614h0M1685.5 598.5h0M1713 602.5h0M1657.5 654h0M1672.5 587.5h0M1693 598.5h0M1642.5 600h0M1662.5 577h0M1645.5 581.5h0M1700.5 608.5h0M1665 602.5h0M1701 632h0M1690.5 588h0M1659.5 594.5h0M1694 580.5h0M1690.5 563.5h0M1666.5 591.5h0M1660.5 585h0M1687.5 570h0M1695 587h0M1685 580.5h0M1667.5 572h0M1658.5 617h0M1647 588.5h0M1665 557.5h0M1693.5 653h0M1697.5 579.5h0M1713.5 609.5h0M1646 576.5h0M1675.5 598.5h0M1660 608.5h0M1664 597.5h0M1684.5 586h0M1660 591h0M1669 596.5h0M1677.5 600.5h0M1680 629.5h0M1671.5 561h0M1711 598h0M1690 574.5h0M1703 570.5h0M1700 564h0M1666 543h0M1679.5 573h0M1653.5 626h0M1672.5 616h0M1671 595.5h0M1705 643h0M1656 623h0M1684 583h0M1702 625.5h0M1676 572.5h0M1669.5 607h0M1707.5 621.5h0M1708 578.5h0M1668.5 543h0M1658 586h0M1666 558h0M1669 579h0M1711 555h0M1664 592h0M1650.5 588h0M1664.5 571h0M1660 567h0M1712 555.5h0M1698 613.5h0M1654.5 599h0M1664.5 642h0M1684 566.5h0M1709 572.5h0M1696.5 609.5h0M1702 592h0M1674 609.5h0M1696.5 580h0M1712 536.5h0M1660.5 601.5h0M1652.5 604h0M1758 527h0M1758.5 574.5h0M1768.5 551.5h0M1747 578h0M1747 556h0M1794.5 549h0M1740 540h0M1800.5 575.5h0M1761 615.5h0M1749.5 630.5h0M1776 568h0M1789.5 629.5h0M1772.5 565.5h0M1791.5 584h0M1756 605.5h0M1797 558h0M1740.5 577h0M1748 512h0M1774 562.5h0M1765 592h0M1742 585.5h0M1730.5 581.5h0M1778.5 547.5h0M1753 597.5h0M1782.5 560h0M1770.5 572h0M1732 616h0M1802.5 575.5h0M1731 562h0M1774.5 599h0M1758 524h0M1765 554h0M1778.5 563.5h0M1764 540.5h0M1739 598.5h0M1762 532.5h0M1731 591.5h0M1754 615.5h0M1764 544.5h0M1738.5 564h0M1742.5 567h0M1787.5 609h0M1785.5 579.5h0M1786.5 617.5h0M1761 633h0M1776.5 623h0M1740 544.5h0M1768.5 576.5h0M1754 545.5h0M1772.5 582h0M1771 608h0M1759 565.5h0M1801.5 602.5h0M1764.5 619.5h0M1777 597.5h0M1795 545h0M1785 586h0M1802 567h0M1762 583h0M1740.5 587h0M1796 522.5h0M1738 632.5h0M1768.5 596.5h0M1786.5 548.5h0M1779 602h0M1765.5 552.5h0M1795.5 559h0M1788 577.5h0M1767 584h0M1796.5 594h0M1759.5 578h0M1774.5 566.5h0M1734 592h0M1764.5 608.5h0M1802.5 590.5h0M1735 595.5h0M1800 593h0M1773.5 593h0M1743 586.5h0M1775 567.5h0M1795.5 627.5h0M1739.5 578.5h0M1769 599h0M1781.5 578.5h0M1744.5 576.5h0M1742 601h0M1776 565.5h0M1767 555.5h0M1732.5 608.5h0M1742 567h0M1761.5 568h0M1733 591.5h0M1789 568.5h0M1786.5 578.5h0M1741 567h0M1770 593.5h0M1763.5 562h0M1824.5 609h0M1878.5 588.5h0M1861 603.5h0M1867 574h0M1831 596h0M1820.5 543h0M1873 547h0M1858 573h0M1862.5 606.5h0M1870.5 587h0M1857 571h0M1824.5 623h0M1826 579.5h0M1879 615h0M1836.5 590.5h0M1830 581h0M1831.5 579h0M1838 621.5h0M1861.5 632h0M1858 583h0M1851.5 659.5h0M1842 601.5h0M1825 594h0M1882.5 597h0M1831 612.5h0M1825 576.5h0M1843 543h0M1877.5 617h0M1832.5 551.5h0M1856 608.5h0M1860 593h0M1826 575h0M1849.5 546.5h0M1875.5 606.5h0M1853 574h0M1852.5 563h0M1843.5 578h0M1862 624h0M1881 588.5h0M1881 610.5h0M1820.5 602h0M1875 618h0M1847 624h0M1835.5 558h0M1840.5 562h0M1823 555h0M1834.5 573h0M1852 653.5h0M1875 575h0M1867 583h0M1819 572.5h0M1868.5 633.5h0M1829.5 607.5h0M1852.5 586.5h0M1881 547h0M1833 591.5h0M1880.5 628.5h0M1827 550.5h0M1823 616h0M1832 609.5h0M1872.5 581h0M1856 573.5h0M1844 623h0M1863 593.5h0M1873 541h0M1836 551h0M1870 604.5h0M1819 557h0M1825 563.5h0M1844.5 617h0M1837 602.5h0M1837 584h0M1821 589h0M1920 618.5h0M1933.5 573h0M1946 601h0M1922 568.5h0M1955 616h0M1946.5 594.5h0M1939.5 633.5h0M1934.5 614.5h0M1951 581h0M1962 587h0M1903.5 596h0M1922.5 619.5h0M1915 539h0M1905 571.5h0M1913 615h0M1912 608h0M1940 561h0M1905.5 599h0M1947.5 566.5h0M1953 543.5h0M1912.5 590.5h0M1930.5 549.5h0M1933 582.5h0M1958 625h0M1942 612.5h0M1918.5 617.5h0M1955 582.5h0M1931.5 531h0M1904.5 581.5h0M1904.5 628.5h0M1957 593h0M1959 583h0M1957.5 559.5h0M1920.5 541h0M1936.5 595h0M1903.5 594h0M1947.5 571h0M1955.5 599.5h0M1936 568.5h0M1904.5 531.5h0M1929.5 610h0M1949.5 575h0M1954 567.5h0M1935 612h0M1938 539.5h0M1946 579.5h0M1923 581.5h0M1902 564h0M1943 591.5h0M1950.5 520.5h0M1957.5 596h0M1932.5 593h0M1904.5 551.5h0M1961.5 611h0M1928 597.5h0M1906 572h0M1932.5 591.5h0M1914.5 611.5h0M1950.5 598.5h0M1956 568.5h0M1924 637.5h0M1921 550h0M1915 593h0M1929 617h0M1932.5 604.5h0M1926.5 628.5h0M1936.5 553.5h0M1936 566.5h0M1983 612h0M1968.5 639.5h0M1980 586.5h0M1966 589h0M1964.5 599.5h0M1974 621.5h0M1978 620h0M1969.5 577.5h0M1976 547h0M1985.5 579.5h0M1985 603h0M1971.5 596.5h0M1974 548h0M1978.5 624.5h0M1985.5 582h0M1965.5 550h0M1965 617.5h0M1966.5 572.5h0M1982.5 572h0M1969.5 572.5h0M1966.5 552h0M1968.5 603h0M1969.5 617h0M1985.5 610.5h0M1983 575.5h0M1965.5 572.5h0M1973 629h0M1984 641h0M1965 553h0M1976 545h0M1963 591.5h0M1972 559h0M1987 619.5h0M1984.5 607h0M1975.5 621.5h0M1988 626.5h0M1984.5 589.5h0M1982 583.5h0M2030 593h0M1998 568h0M2023 578h0M2025 664h0M2015.5 612.5h0M2025.5 551.5h0M2001.5 552h0M2018 575h0M2028.5 562.5h0M1999.5 569.5h0M2006.5 602h0M2022 589.5h0M2024.5 633.5h0M2016.5 591.5h0M2021.5 590h0M2022 526h0M2024.5 609h0M2020 623.5h0M2022 632.5h0M2019.5 639.5h0M2004 567.5h0M2025 547.5h0M2013.5 622h0M1999.5 582.5h0M2025.5 591.5h0M2022 594.5h0M2028 661h0M2018 589h0M2021 583.5h0M2024 606.5h0M2021 619h0M2027.5 601.5h0M2011 586h0M1999 607h0M2003.5 583h0M2035.5 662.5h0M2042 598.5h0M2042 620h0M2036.5 603.5h0M2046 575.5h0M2038 630.5h0M2046 611h0M2045.5 644h0M2041.5 647h0M2046.5 644h0M2033 627.5h0M2068 567h0M2088.5 575.5h0M2072.5 523.5h0M2056 564.5h0M2081.5 623.5h0M2072.5 540.5h0M2083.5 565.5h0M2086.5 591h0M2081.5 552.5h0M2078.5 657h0M2077 578.5h0M2052 631h0M2074.5 589h0M2083.5 620h0M2069.5 642.5h0M2063 587.5h0M2069.5 521h0M2059.5 595h0M2054 611h0M2092 546h0M2052 561.5h0M2064 650h0M2092 575.5h0M2094 591h0M2093 618h0M2086 556.5h0M2067.5 577h0M2081.5 604h0M2080.5 595h0M2057 642.5h0M2072.5 592.5h0M2071.5 600.5h0M2070 598.5h0M2057 586.5h0M2052 555h0M2052.5 634.5h0M2066 668.5h0M2072 582.5h0M2071.5 607.5h0M2070 583h0M2066 605h0M2067 565h0M2068.5 573.5h0M2064 568.5h0M2068 600.5h0M2093.5 550h0M2076.5 612h0M2058 558h0M2053 541.5h0M2065 612.5h0M2065.5 629.5h0M2099 638.5h0M2094.5 529h0M2095 670h0M2095 544.5h0M2097.5 592.5h0M2095 588h0M2095 578.5h0M2098 601.5h0M2098 579.5h0M2101.5 606.5h0M2099.5 586h0M2100 545h0M2141.5 579h0M2138.5 570.5h0M2136 575h0M2127 641.5h0M2115.5 620.5h0M2150.5 583.5h0M2133 593h0M2128.5 591.5h0M2121.5 625h0M2125.5 596h0M2149.5 518h0M2109 593h0M2122.5 597.5h0M2138.5 602.5h0M2144 552.5h0M2152.5 566.5h0M2113.5 552.5h0M2111 571.5h0M2126.5 561h0M2139.5 576.5h0M2120 647.5h0M2109.5 557.5h0M2124.5 609.5h0M2146 633h0M2118.5 585.5h0M2146.5 584.5h0M2142.5 591.5h0M2125 597.5h0M2135 592.5h0M2111.5 558h0M2115.5 598h0M2139 609h0M2121.5 598.5h0M2120 601.5h0M2124 600.5h0M2141 597h0M2144.5 542h0M2140 607.5h0M2132.5 540.5h0M2152.5 597.5h0M2149 534h0M2139 593.5h0M2124.5 601.5h0M2109.5 558.5h0M2129.5 572h0M2125.5 591h0M2118.5 502.5h0M2166 539.5h0M2162.5 548.5h0M2161.5 629.5h0M2155 552h0M2168 627h0M2164 594.5h0M2158 642h0M2157.5 590h0M2155 621.5h0M2164.5 627.5h0M2164.5 632.5h0M2156 602h0M2160.5 646.5h0M2161 641h0M2165 591.5h0M2165.5 629.5h0M2161.5 650.5h0M2168.5 600.5h0M2195 630h0M2184 634.5h0M2195.5 654h0M2195 661h0M2180 586h0M2186.5 628.5h0M2192.5 603.5h0M2177 562h0M2177 650.5h0M2187.5 687.5h0M2188.5 597.5h0M2195.5 601h0M2191.5 598.5h0M2190 635.5h0M2178 640h0M2189 661h0M2189.5 646h0M2182 572h0M2182.5 548h0M2181 666h0M2186.5 609.5h0M2196 631.5h0M2183.5 583h0M2178 569.5h0M2195.5 655h0M2192 658h0M2184 622h0M2190 640.5h0M2176.5 631.5h0M2198.5 565h0M2217.5 606h0M2214 557h0M2212.5 629.5h0M2213 604h0M2214 557.5h0M2211 590.5h0M2207 565h0M2211 547.5h0M2212.5 575h0M2219 593.5h0M2213.5 608h0M2206.5 568h0M2212.5 573.5h0M2214 586h0M2203.5 567.5h0M2211.5 572h0M2206.5 616.5h0M2215.5 621h0M2201 591.5h0M2203.5 544.5h0M2206.5 555.5h0M2208 571h0M2204 544h0M2212.5 608h0M2218 584.5h0M2236.5 583h0M2243.5 605h0M2243.5 614.5h0M2223.5 582.5h0M2228.5 547h0M2234.5 558h0M2231 549.5h0M2228.5 563h0M2244 582.5h0M2233.5 644.5h0M2234.5 558h0M2244 540h0M2232 597h0M2227 577.5h0M2228.5 577h0M2241.5 643h0M2235.5 564.5h0M2223.5 608h0M2278.5 542.5h0M2257.5 597.5h0M2272 542.5h0M2278 544h0M2276.5 553.5h0M2262 598.5h0M2258 559h0M2276.5 564.5h0M2284.5 567h0M2256.5 613h0M2272.5 555.5h0M2277 562h0M2284.5 573h0M2282 538h0M2273 584.5h0M2278.5 566.5h0M2271 584.5h0M2274 577h0M2268 550.5h0M2262 558h0M2266.5 572h0M2273.5 596h0M2263 533h0M2270 585.5h0M2270 566h0M2257.5 552.5h0M2281 578.5h0M2281.5 586.5h0M2276 560.5h0M2274.5 559h0M2271 559.5h0M2270.5 586.5h0M2265 584.5h0M2259 595h0M2274.5 595.5h0M2311.5 711.5h0M2306 670h0M2303.5 670h0M2306.5 639.5h0M2298.5 628.5h0M2309.5 623h0M2308 636.5h0M2302 657h0M2299 610.5h0M2308 625h0M2314 650h0M2313 658.5h0M2301 709h0M2309.5 626h0M2314.5 658.5h0M2311.5 653h0M2304 638.5h0M2297.5 662.5h0M2305 607h0M2316 652h0M2312 623h0M2302.5 654.5h0M2311.5 664h0M2312.5 657h0M2300 665.5h0M2300.5 695h0M2303.5 641h0M2305.5 622h0M2314 660.5h0M2311 650.5h0M2312.5 690h0M2299 643h0M2300.5 660h0M2297 659.5h0M2304.5 696.5h0M2300 615.5h0M2297.5 610.5h0M2310 658h0M2303 686.5h0M2304 637h0M2302 655.5h0M2303.5 621h0M2304 658h0M2325 607h0M2317 637.5h0M2318 637h0M2324 625.5h0M2322.5 670h0M2324.5 614.5h0M2325 612h0M2322 661h0M2317.5 587.5h0M2324.5 647.5h0M2325 615.5h0M2323.5 644h0M2413 589.5h0M2360 516.5h0M2380.5 532.5h0M2370.5 540.5h0M2350.5 533.5h0M2438 585.5h0M2339.5 543h0M2382 530h0M2389 515h0M2402 568.5h0M2379 573h0M2368 552.5h0M2401 540.5h0M2438 519.5h0M2388.5 554.5h0M2325.5 559.5h0M2390 543h0M2335 518h0M2352.5 568.5h0M2392.5 545.5h0M2339.5 500.5h0M2327 517h0M2351.5 535.5h0M2374 597.5h0M2408.5 563.5h0M2411.5 546.5h0M2354 534h0M2440 542h0M2359 548h0M2348 537h0M2417.5 519h0M2345 530.5h0M2402 501.5h0M2388 589h0M2367.5 521h0M2385 530h0M2344.5 546h0M2415 533h0M2424.5 594.5h0M2350 548.5h0M2363 555h0M2326 545h0M2390 571.5h0M2328.5 553.5h0M2390.5 512.5h0M2329 517h0M2353.5 584h0M2398.5 516.5h0M2353 565h0M2432 527.5h0M2359.5 531.5h0M2348.5 581h0M2400.5 537h0M2380 541h0M2421 515h0M2360 568.5h0M2379.5 557.5h0M2347.5 562h0M2357 555.5h0M2340.5 545h0M2428 503.5h0M2378 516h0M2366.5 522h0M2358.5 545h0M2354.5 514.5h0M2342 566.5h0M2417.5 539.5h0M2326 540.5h0M2364 546.5h0M2402.5 511h0M2413 520.5h0M2324 552.5h0M2340.5 568h0M2307 726h0M2319 775.5h0M1554 513.5h0M553 512.5h0M1135 513.5h0M499 510h0M1829.5 665.5h0" stroke="url(#g)" stroke-width="5.4" stroke-linecap="round" fill="none"/>
<path d="M187.5 574.5h0M183.5 565.5h0M144.5 594.5h0M183.5 599.5h0M198.5 644h0M208.5 625h0M129.5 586.5h0M163.5 620.5h0M127.5 563.5h0M176.5 616h0M141.5 598.5h0M181 572h0M124.5 569.5h0M129 618h0M189.5 560.5h0M149 587.5h0M188 588h0M190 540.5h0M213 600.5h0M142.5 612h0M209.5 616h0M159 593h0M150.5 611h0M209 588.5h0M144.5 598.5h0M165 553h0M126.5 610h0M180.5 619.5h0M164 589h0M208 625h0M186.5 562.5h0M138.5 593h0M199.5 568h0M166.5 565.5h0M127.5 586.5h0M162 570.5h0M186.5 537.5h0M206.5 609h0M190 601.5h0M158.5 618.5h0M135.5 589.5h0M130.5 596.5h0M203.5 533h0M207 606.5h0M125 642.5h0M129.5 593h0M211.5 593.5h0M171.5 622h0M177.5 617.5h0M182.5 613.5h0M156.5 594h0M131 616.5h0M212 613.5h0M138.5 620h0M141.5 579h0M202.5 610h0M175 564h0M157 607.5h0M208 598h0M143 612.5h0M154 610.5h0M157 581.5h0M166.5 570h0M128.5 637h0M205 592.5h0M200.5 564.5h0M215 565h0M150 608h0M143.5 594.5h0M136 557h0M146 607.5h0M155 581.5h0M139 553h0M192.5 594.5h0M197 571h0M202.5 572h0M135.5 620.5h0M149.5 592.5h0M202.5 587.5h0M182 586h0M204 607.5h0M214 610h0M194 607h0M214 577h0M189.5 589.5h0M143 580.5h0M158 580h0M129.5 602.5h0M185 595.5h0M212 623h0M195.5 594h0M187 618h0M188.5 576.5h0M150.5 594h0M208 614h0M192.5 604h0M166.5 587h0M192.5 603.5h0M143 563.5h0M174.5 574.5h0M161.5 607.5h0M208 610.5h0M170 562.5h0M142.5 627h0M133 619.5h0M131 624.5h0M151.5 557.5h0M165 614h0M194 585h0M176 529h0M170.5 569.5h0M193 562.5h0M142.5 598h0M170 612.5h0M201 583h0M173.5 599.5h0M142 608.5h0M139.5 625.5h0M206 579.5h0M185.5 572h0M214 612.5h0M163.5 637.5h0M141.5 564.5h0M151 589h0M149.5 630h0M202.5 609.5h0M126 622h0M157.5 550h0M169.5 591.5h0M147.5 603h0M189 586.5h0M162 613h0M148.5 609h0M213 574h0M196 606h0M166.5 548h0M165.5 590h0M214.5 582.5h0M142 535.5h0M149.5 599.5h0M155.5 591.5h0M162 573h0M185.5 582.5h0M181.5 560.5h0M128 577h0M181.5 590.5h0M190.5 554.5h0M188.5 599h0M130 600h0M124.5 627.5h0M127 616h0M129 586h0M207 574.5h0M134.5 568h0M207.5 627h0M174.5 562h0M125.5 553h0M152 604.5h0M183 610h0M156 594h0M186.5 545.5h0M169 658h0M176 547h0M175 559.5h0M137.5 596.5h0M204 548.5h0M137 585.5h0M164 532.5h0M194 622h0M203.5 614h0M181.5 584.5h0M127 560h0M244.5 591h0M274.5 534.5h0M297.5 565.5h0M249 580.5h0M271.5 605.5h0M249.5 579.5h0M248.5 594h0M308 611h0M297.5 579h0M298 551h0M283 591.5h0M244.5 605.5h0M312 563.5h0M285 616h0M283 590.5h0M236 592.5h0M265.5 544h0M274.5 584h0M263.5 564.5h0M291 539h0M254 552.5h0M243 589h0M290 594h0M247 621h0M260 555.5h0M250 561.5h0M286 647h0M263 565.5h0M251 587h0M292.5 597.5h0M249 548h0M291.5 582.5h0M284.5 569.5h0M309.5 679h0M256.5 596.5h0M267.5 571h0M250.5 593.5h0M280.5 631h0M238.5 586.5h0M271 595.5h0M254.5 565.5h0M310 543.5h0M260 577h0M235.5 556h0M297 589.5h0M262 576h0M278 548h0M282 658.5h0M310.5 641.5h0M301 590.5h0M237 581.5h0M234 564.5h0M270 591h0M308.5 549h0M308.5 600.5h0M277.5 580h0M272 604h0M261.5 567h0M244.5 599.5h0M236 641.5h0M312 540.5h0M243 563h0M288 588h0M264.5 617h0M264.5 590.5h0M307 556h0M290 600h0M261.5 627h0M260.5 593h0M244.5 600.5h0M235.5 611h0M283 573h0M273.5 559.5h0M248 585h0M237 570h0M240 580.5h0M253.5 572h0M248.5 610h0M278 584h0M253.5 536.5h0M296 568.5h0M300.5 607.5h0M276 597.5h0M245.5 591h0M275.5 597h0M279.5 609.5h0M311 612.5h0M257.5 618.5h0M256.5 599.5h0M292.5 562.5h0M255 530.5h0M275 593.5h0M287.5 556h0M290.5 547h0M251 568.5h0M297 574.5h0M302 592h0M306.5 646.5h0M257 563.5h0M282.5 615.5h0M267 598h0M250 601.5h0M291 597.5h0M301.5 581.5h0M266.5 572h0M247 593.5h0M285.5 608.5h0M246 624h0M264.5 562h0M234.5 558h0M308 572h0M257 634.5h0M264.5 600.5h0M258 570.5h0M311.5 581.5h0M235.5 566h0M311 646h0M277.5 630.5h0M239.5 618.5h0M258 584h0M269.5 609.5h0M302.5 559.5h0M281.5 570.5h0M307.5 551h0M294.5 621h0M242 587.5h0M250.5 590.5h0M248.5 606.5h0M274.5 566.5h0M260 594.5h0M284 579h0M237.5 583h0M238.5 590.5h0M305.5 616.5h0M278 554h0M289 600h0M276 620.5h0M248 616h0M375.5 617.5h0M370 603h0M351.5 578h0M314.5 642.5h0M334 574h0M342.5 528h0M327 552.5h0M356 569h0M357 605h0M316 568h0M362.5 553.5h0M332 604h0M374.5 558.5h0M376.5 599.5h0M331.5 562.5h0M327.5 577h0M379.5 578.5h0M377.5 587h0M330.5 587.5h0M372 553.5h0M375 585h0M345.5 514h0M362 545h0M347.5 646h0M346 579.5h0M368.5 607h0M375 583.5h0M320 583.5h0M360 595.5h0M319.5 589h0M371.5 545.5h0M315 627.5h0M350.5 608h0M357.5 579h0M355 597.5h0M377 561h0M344.5 666h0M323 565h0M349 556h0M339 611h0M315.5 546h0M376.5 638.5h0M363.5 573h0M330 561.5h0M356.5 601h0M325.5 556.5h0M321.5 588h0M317 553.5h0M369.5 585.5h0M380 584.5h0M365 573h0M365 604h0M317 611.5h0M331 577h0M379.5 620h0M348 530.5h0M377 594h0M331.5 599h0M319.5 635.5h0M356 590h0M379.5 565h0M372 585.5h0M336.5 605.5h0M316.5 574.5h0M343 591.5h0M346.5 611.5h0M377 607.5h0M361.5 589.5h0M337.5 573.5h0M361.5 626.5h0M357 580h0M365.5 558.5h0M335 609.5h0M377 613h0M376.5 578h0M351 607h0M321.5 613h0M364.5 597h0M330 620.5h0M321 618.5h0M369.5 603h0M357 590h0M339.5 576h0M363.5 562.5h0M373.5 587.5h0M332.5 565h0M337.5 597.5h0M334.5 581h0M370.5 572h0M344 622.5h0M379 623.5h0M377 604h0M348.5 646.5h0M336 573.5h0M349.5 582.5h0M344 544h0M337.5 625.5h0M334.5 594.5h0M361 570h0M361.5 608.5h0M368.5 565.5h0M354.5 561.5h0M328.5 573.5h0M344.5 619h0M333 582.5h0M401 636.5h0M389.5 608h0M425.5 559h0M390 563.5h0M412.5 567.5h0M400.5 610h0M455 621h0M444.5 573h0M400 572.5h0M421 574.5h0M450.5 595h0M438 576.5h0M467 558.5h0M427 551h0M459.5 571.5h0M398.5 552.5h0M424 617h0M429.5 557h0M401.5 556.5h0M408.5 607.5h0M423.5 558h0M463 598h0M395 561.5h0M389 591h0M439 559h0M452 577h0M444.5 595h0M419 538h0M437 573.5h0M409 613.5h0M444.5 581.5h0M414 610.5h0M430 596.5h0M414 589.5h0M390.5 583h0M461.5 585.5h0M447.5 558.5h0M455 568h0M451 609h0M456.5 557.5h0M399.5 568.5h0M394.5 566.5h0M401 580.5h0M442 531.5h0M426.5 611.5h0M393.5 594.5h0M388 584.5h0M411.5 620h0M411 565.5h0M457 599.5h0M426.5 581h0M397 592h0M387.5 575.5h0M440.5 613.5h0M435.5 559h0M444.5 592h0M439 574.5h0M403 610h0M406.5 577h0M427 582.5h0M425 564h0M460 559h0M439 607h0M392 582h0M437.5 569.5h0M399.5 564h0M403.5 603.5h0M422 583h0M463.5 618.5h0M422 587h0M405.5 574h0M395 599h0M409.5 556h0M448.5 570h0M439.5 606h0M428 593h0M416 557.5h0M444 596.5h0M404.5 598.5h0M453 573.5h0M407.5 576.5h0M429.5 571.5h0M461 566.5h0M457 552h0M424 553.5h0M421.5 581h0M398 538.5h0M430.5 598.5h0M408 620h0M417.5 599.5h0M387 614h0M415 544h0M430.5 589.5h0M437.5 572h0M401 600.5h0M411.5 535h0M387 637.5h0M460 596.5h0M441.5 601.5h0M425.5 547.5h0M453 589h0M439.5 570.5h0M406.5 594h0M438.5 566h0M416.5 660.5h0M412 568.5h0M414 544h0M468.5 588.5h0M447 633.5h0M417 612.5h0M404 606h0M465 582.5h0M400 588h0M438.5 576h0M390 583h0M393 589h0M411 568h0M467 562.5h0M458 579h0M388.5 584.5h0M388 561h0M431 609.5h0M464.5 559h0M391.5 565h0M411.5 575.5h0M405 612.5h0M427 537.5h0M399.5 618h0M427 568h0M412 621h0M390 587h0M443 589h0M401 597h0M406.5 601.5h0M396 599h0M450 591.5h0M393.5 597.5h0M452.5 584.5h0M467.5 616.5h0M433.5 547h0M443 536h0M481.5 568h0M483 594.5h0M497 596.5h0M485 574.5h0M470 558.5h0M481 572h0M478.5 563h0M473.5 561h0M477.5 581h0M486 578h0M483.5 576h0M493.5 605h0M480.5 588.5h0M471 578h0M497 635h0M486.5 590h0M489.5 552.5h0M492.5 541.5h0M478.5 561h0M473 560h0M472 581h0M476 592h0M495.5 596.5h0M482.5 576.5h0M496 619.5h0M492 565.5h0M469.5 585.5h0M482 578h0M481.5 583h0M472.5 568.5h0M469.5 563h0M486 577h0M498 545.5h0M492.5 583.5h0M507 561.5h0M534.5 598h0M553.5 569h0M536.5 584.5h0M559.5 537h0M516.5 637.5h0M542.5 533.5h0M554 606h0M513 517.5h0M535 571.5h0M565.5 541.5h0M538 557.5h0M507.5 541.5h0M555 559h0M527.5 564h0M541.5 602h0M504 578.5h0M547.5 585.5h0M516.5 572h0M499.5 565.5h0M527 598.5h0M552 596h0M552 606h0M524.5 580.5h0M542 564.5h0M504.5 588h0M565 601.5h0M520 600h0M514 637.5h0M499.5 541h0M524.5 580h0M541.5 585.5h0M500.5 590.5h0M517.5 566.5h0M517.5 572h0M544 596h0M525 597.5h0M549.5 578h0M529 569.5h0M525.5 602h0M524.5 582.5h0M539 594h0M525 599.5h0M531 592h0M555.5 521h0M553.5 594h0M509.5 577.5h0M511 570.5h0M540.5 574.5h0M542.5 653h0M554 575h0M526.5 607.5h0M509 567h0M540.5 560.5h0M516 578h0M551 568h0M548.5 539.5h0M507 568.5h0M534.5 557.5h0M513 571h0M539.5 570.5h0M538.5 576h0M541 581.5h0M550 627.5h0M516.5 544.5h0M515 563h0M537 600.5h0M565 577h0M532.5 596.5h0M511 592.5h0M527 597.5h0M553.5 566h0M508.5 544h0M556.5 579.5h0M544.5 580.5h0M514 554.5h0M558.5 600.5h0M505 593h0M519 651h0M546.5 560.5h0M545.5 521h0M514 627h0M525 648h0M542 597h0M563 622h0M521 594h0M549 556h0M513.5 588h0M548.5 602.5h0M563 586.5h0M513.5 600.5h0M552.5 582h0M513.5 622.5h0M510.5 587h0M505.5 595h0M542 592h0M513.5 649.5h0M508.5 575.5h0M535 580h0M546 589h0M510.5 534h0M548 590.5h0M520 563h0M537 567.5h0M516.5 572h0M503 573.5h0M545 581h0M563 597.5h0M562 591.5h0M541 594h0M550.5 602.5h0M550 586h0M505 606.5h0M500 592.5h0M540 593h0M557.5 610.5h0M510 582.5h0M521.5 594h0M555 648.5h0M505.5 571.5h0M524.5 584h0M555 570.5h0M553.5 578h0M559 579h0M505.5 566h0M508 564h0M507.5 565.5h0M503.5 611h0M520.5 632h0M520 572.5h0M607.5 581h0M575 551.5h0M637.5 593.5h0M601.5 565.5h0M600 594h0M575 586h0M575.5 618.5h0M583.5 590h0M596.5 564h0M586.5 581h0M573.5 622h0M579 597h0M573 635h0M587.5 593h0M578.5 587.5h0M610 568h0M590 560.5h0M628 571h0M576 586.5h0M638 572.5h0M585 581h0M626 601.5h0M645 603.5h0M645.5 634.5h0M590.5 582.5h0M577 588.5h0M576 559h0M645.5 538.5h0M619.5 542.5h0M610 612.5h0M615.5 601.5h0M618 563.5h0M589.5 584.5h0M617 609h0M582 588.5h0M608 574h0M614 609h0M600 554h0M616.5 548h0M649.5 558.5h0M605.5 564.5h0M590.5 573h0M589 625h0M608 570h0M577.5 571.5h0M595.5 586.5h0M600.5 609.5h0M632.5 531h0M576.5 600.5h0M638 573h0M629.5 612h0M576.5 604h0M648.5 549h0M586 594h0M605.5 564h0M603 577.5h0M628 583h0M640 547h0M601 604h0M626 557.5h0M624 599.5h0M579.5 602h0M638 576.5h0M578 569h0M604.5 577.5h0M583 577h0M621.5 634h0M637 614h0M612 582.5h0M572.5 614h0M636 537.5h0M629.5 575h0M577.5 583h0M592 595h0M602 626h0M644 614.5h0M579.5 584.5h0M643.5 585.5h0M638.5 514h0M611.5 565h0M624.5 546h0M649.5 617h0M581 576h0M595.5 608h0M575 592.5h0M600 559.5h0M583.5 572.5h0M603 601.5h0M607 555h0M616 566.5h0M630 579h0M649 566h0M581 571.5h0M615.5 619h0M609 602.5h0M622.5 592.5h0M606 572h0M573 570.5h0M603 557h0M602.5 580h0M641.5 550h0M629 559.5h0M601.5 652.5h0M627.5 621h0M606.5 590h0M644.5 642h0M645 575.5h0M597 547h0M576.5 568h0M635.5 581h0M649 603.5h0M640 534.5h0M610 581.5h0M647.5 560.5h0M631 590h0M606 591h0M598.5 588.5h0M596 583h0M615.5 627h0M630 583.5h0M632.5 571h0M621.5 566h0M614 619.5h0M598.5 604.5h0M580.5 578h0M584.5 539h0M645.5 587.5h0M642 650h0M619.5 622.5h0M629.5 560h0M580.5 586.5h0M646 647h0M633.5 588.5h0M663 562h0M670 601.5h0M656 605h0M655.5 598.5h0M651.5 599.5h0M660.5 576h0M669.5 590h0M653 596.5h0M664.5 567h0M657.5 587.5h0M671.5 572h0M660 579h0M652 512.5h0M671.5 587h0M678.5 579.5h0M671 600.5h0M659 597h0M670 596h0M670.5 562h0M676 618.5h0M659 588h0M671.5 567h0M675 616h0M670.5 596h0M662.5 573.5h0M673.5 599h0M668 594h0M678 640.5h0M660.5 577.5h0M658.5 565.5h0M661 593h0M656 600.5h0M680 593h0M666.5 536.5h0M673.5 566.5h0M666.5 588h0M679 578.5h0M659 591h0M670.5 584.5h0M666 614h0M795 609h0M762 615h0M682.5 546.5h0M767.5 575h0M718 589.5h0M745.5 617h0M746.5 596h0M753.5 662.5h0M700.5 571.5h0M783 522.5h0M742.5 574h0M732.5 583h0M690 578.5h0M725.5 532h0M714 629h0M737.5 588h0M761 575.5h0M730.5 617.5h0M717.5 601.5h0M740 595.5h0M686 636.5h0M697 604.5h0M788 588.5h0M740 586h0M688.5 588.5h0M684 618h0M718.5 617h0M757 591h0M757 591.5h0M710.5 553h0M780.5 619h0M728 530h0M767 576.5h0M788 601.5h0M789 579.5h0M690.5 584h0M752.5 617h0M710.5 559.5h0M700 562h0M794.5 608h0M779 597.5h0M791 614h0M702 577.5h0M782.5 549h0M741.5 569h0M721.5 629.5h0M745 576h0M689 545h0M788 580h0M746.5 569.5h0M740 579.5h0M795 557.5h0M700.5 575h0M717 582.5h0M717.5 571h0M711.5 624.5h0M717 561.5h0M718.5 588h0M682.5 596h0M765.5 600h0M696 586.5h0M789.5 606.5h0M738.5 586h0M768.5 604h0M724 583h0M744.5 580h0M693 573h0M716.5 607h0M684 601h0M773 592h0M737.5 611.5h0M710 625.5h0M736 616h0M761.5 583.5h0M728.5 560.5h0M718.5 652.5h0M728.5 615.5h0M776.5 573h0M724 576h0M794.5 587.5h0M712.5 552.5h0M740.5 595.5h0M716 582h0M767.5 573.5h0M691 591.5h0M734.5 594.5h0M771 613h0M758.5 600.5h0M786.5 584.5h0M686.5 593h0M722 545.5h0M773.5 586.5h0M687.5 543h0M760 561h0M690.5 574h0M768 598h0M698.5 576.5h0M751 587h0M697.5 600.5h0M735 601h0M761 613h0M726 568.5h0M712 634.5h0M757 597.5h0M695.5 587.5h0M710.5 571h0M698.5 553.5h0M732 538h0M722 596.5h0M722 597h0M719.5 569h0M757.5 596h0M686 586h0M735.5 557.5h0M761.5 584.5h0M770 574.5h0M760 581.5h0M735 583h0M692.5 557h0M704 531.5h0M709.5 593h0M722 618.5h0M772.5 615.5h0M780.5 554.5h0M691.5 600h0M740 568.5h0M712 579h0M779 614.5h0M750.5 569.5h0M744.5 585.5h0M724.5 542.5h0M715.5 563.5h0M701 577h0M740.5 585h0M688 585h0M739 591.5h0M686.5 591.5h0M794 588.5h0M754 583.5h0M749.5 597h0M703 609h0M697 587h0M764 608h0M705 568.5h0M697.5 575.5h0M719 589h0M689 573.5h0M720.5 579.5h0M698 602h0M692 584.5h0M748.5 607h0M776.5 569.5h0M783.5 622.5h0M784.5 625.5h0M725 562.5h0M754.5 577h0M698 573h0M695 608h0M754 595.5h0M731.5 562.5h0M771.5 583.5h0M688.5 591h0M733.5 601.5h0M724.5 595h0M683.5 596h0M765 561.5h0M736.5 597h0M768 615.5h0M736 588h0M768 585h0M780.5 630.5h0M793 607.5h0M732.5 596.5h0M733 642.5h0M725 606h0M753 562h0M727.5 524h0M708.5 578h0M764.5 610h0M750.5 641.5h0M723.5 567h0M724.5 535.5h0M751 579.5h0M686.5 590.5h0M721.5 564h0M719.5 567.5h0M748.5 573h0M739.5 582.5h0M710.5 590h0M803.5 599h0M889.5 554h0M830 559.5h0M812.5 599h0M827.5 575h0M929 603.5h0M833.5 597.5h0M896 609.5h0M924.5 567.5h0M821 571.5h0M876 584h0M855 575.5h0M862.5 568h0M806.5 600.5h0M840 631h0M860.5 583.5h0M933.5 569h0M933.5 581h0M889 557.5h0M922.5 611.5h0M897 631h0M840 582.5h0M867.5 552.5h0M866.5 569.5h0M804.5 556h0M901.5 585.5h0M802.5 562h0M867.5 538h0M925 632h0M809 630h0M921 578.5h0M860 563.5h0M913 638.5h0M811 558h0M863.5 542.5h0M870.5 573.5h0M887.5 569.5h0M821.5 587h0M884.5 567h0M895 558.5h0M805.5 585.5h0M879.5 619h0M811 550.5h0M823 595h0M926.5 620h0M892.5 579.5h0M916.5 540h0M901 612.5h0M862 540.5h0M830.5 593h0M808.5 563h0M891.5 593.5h0M883 558.5h0M856.5 564h0M905 557.5h0M929 609.5h0M863 555.5h0M811 579h0M802.5 586h0M826 633.5h0M850 582.5h0M829 592.5h0M818.5 627.5h0M909 582h0M818 583h0M915.5 564.5h0M897 608.5h0M902 574.5h0M871 584.5h0M930.5 552h0M874.5 579h0M897 615.5h0M931.5 559h0M900 590.5h0M898 608h0M890 648.5h0M809 557.5h0M807.5 598h0M872.5 558h0M833.5 609.5h0M847.5 577h0M917 551h0M933 590h0M870.5 583h0M828 567h0M904.5 613h0M831.5 569h0M798 579.5h0M863 580.5h0M812.5 564h0M869 574.5h0M904.5 574h0M855.5 512.5h0M911 593h0M812.5 576.5h0M799 567h0M799 634.5h0M929.5 602h0M862 570.5h0M869 638h0M899 609h0M808 544.5h0M914 582.5h0M804 573.5h0M916 560.5h0M804.5 571.5h0M839.5 565.5h0M836.5 569h0M898.5 602h0M877 581.5h0M814.5 583.5h0M899 601h0M797 638h0M822.5 619.5h0M837 605h0M808 612.5h0M863.5 559.5h0M837.5 577.5h0M848 563h0M831 584.5h0M799 570.5h0M814 540.5h0M895 612.5h0M905.5 573.5h0M846 585h0M934 572.5h0M842.5 605.5h0M828.5 611.5h0M853 575.5h0M901 591h0M831 580h0M901.5 596.5h0M837.5 586.5h0M880 572h0M882 621h0M888.5 566h0M915 611.5h0M892.5 567.5h0M830.5 593.5h0M914.5 594h0M919 542h0M820.5 607h0M884.5 571.5h0M931.5 598.5h0M868.5 566.5h0M894 552.5h0M845 536.5h0M863.5 541.5h0M919.5 564h0M895 577h0M905.5 607.5h0M854 565.5h0M931 619h0M801.5 580.5h0M832 612.5h0M822.5 576h0M868.5 554.5h0M870 565.5h0M926 597h0M863.5 598.5h0M870.5 555.5h0M822 520h0M920 638h0M885 626h0M815.5 565h0M927.5 609.5h0M802.5 593.5h0M929 552h0M839.5 572.5h0M844 575.5h0M845.5 560h0M912.5 568h0M910 549h0M878.5 616.5h0M913 578.5h0M928 593h0M849.5 615.5h0M889 599h0M858 592h0M907.5 579.5h0M832 566.5h0M886 604.5h0M915 574h0M924.5 557h0M804 574.5h0M930.5 588.5h0M923 598.5h0M933.5 602.5h0M879 572h0M809 595.5h0M932.5 553.5h0M902 552h0M865 615.5h0M888 571h0M901.5 584h0M914.5 544h0M828.5 560.5h0M852 574.5h0M847.5 592.5h0M915 578.5h0M809 590.5h0M803.5 569.5h0M829 571.5h0M892 574.5h0M841.5 555.5h0M886.5 623.5h0M883.5 572h0M807 580h0M889.5 592h0M806 563h0M874 574.5h0M890 608.5h0M888 632h0M834.5 593.5h0M799 577.5h0M906.5 584.5h0M922 513h0M837.5 541h0M797.5 595h0M918 588.5h0M835.5 545.5h0M927.5 594.5h0M888.5 582.5h0M881 542h0M896.5 584h0M815.5 582h0M817.5 574h0M887 564.5h0M887.5 620h0M886 624h0M800.5 613h0M854 623.5h0M799.5 591h0M885 586.5h0M809 588.5h0M926.5 609.5h0M916.5 556h0M905 575.5h0M863.5 626h0M828 616.5h0M870 583.5h0M837 580h0M848 552.5h0M880.5 617h0M848 590h0M940 559.5h0M977 585.5h0M951.5 570h0M963.5 574h0M935 581.5h0M934.5 583.5h0M972 551.5h0M948.5 548h0M946 587.5h0M963 600.5h0M936 636h0M942.5 602.5h0M955.5 585.5h0M971.5 579.5h0M954 561.5h0M951.5 591.5h0M952 549.5h0M952.5 625.5h0M973.5 576h0M938 560h0M970.5 635.5h0M969 621.5h0M970.5 605h0M978.5 579h0M941 581.5h0M963 573h0M947.5 603h0M971 581h0M972.5 579h0M950.5 589.5h0M965 560.5h0M946 564.5h0M939.5 609.5h0M949 580h0M934.5 566h0M969.5 616h0M949 604.5h0M947 596.5h0M946 593h0M949 603h0M943 567h0M957.5 614.5h0M978 581.5h0M974.5 552h0M948 591h0M969 614h0M962 606h0M941 534.5h0M977 568h0M941.5 569.5h0M963.5 567h0M966 566h0M975.5 525.5h0M965 568.5h0M966 577.5h0M973.5 626.5h0M955 570h0M937.5 599h0M964 584h0M977.5 549.5h0M959.5 557.5h0M948.5 584h0M946.5 644.5h0M965.5 594.5h0M956 582.5h0M952 567.5h0M946 582.5h0M954.5 570.5h0M978 583.5h0M936.5 593h0M956 620.5h0M938.5 590h0M960 609h0M949 597.5h0M985 604.5h0M1039.5 600h0M1032 550h0M1025.5 568h0M998.5 597.5h0M995 560.5h0M1062 540.5h0M997.5 561.5h0M993.5 596h0M1063 596h0M1015 520h0M1063.5 589h0M1046 581.5h0M1052 633h0M997.5 577h0M1009 574.5h0M1025.5 574.5h0M1023 548h0M1059 587h0M1025.5 613.5h0M1017.5 619h0M1008 578.5h0M1004 584h0M1004 592h0M1050.5 592h0M1037.5 587h0M1021 580.5h0M1029.5 579h0M1003.5 596.5h0M1012.5 544h0M1058.5 571h0M991 565.5h0M1049.5 588h0M1064 540.5h0M1049 594h0M999 589.5h0M991.5 560.5h0M1022 563.5h0M1025.5 599.5h0M999.5 593.5h0M1060.5 592.5h0M993 574h0M1018.5 611h0M992.5 598h0M1058 556h0M1003 558h0M1000.5 590.5h0M1048.5 604.5h0M1019.5 587h0M991.5 558.5h0M996 605.5h0M994.5 619h0M1036.5 574h0M1005 581.5h0M991 583h0M992 585.5h0M1021.5 559.5h0M1061.5 589.5h0M985 572h0M1042 584.5h0M1056 594h0M988.5 555.5h0M1043.5 560.5h0M1042.5 527.5h0M989 556.5h0M1044 596h0M987 549h0M1063.5 531.5h0M1005.5 535.5h0M1064 576.5h0M1056 584.5h0M1032.5 599.5h0M988.5 633h0M1061.5 580h0M1002.5 614h0M1054 596h0M992 594.5h0M1032 550h0M1016 570h0M1033.5 554h0M1051 597h0M1064 603h0M1004.5 617h0M1046 577.5h0M1000.5 614h0M1030.5 603.5h0M1020 568.5h0M1027 579.5h0M1062 623.5h0M1009 584.5h0M1001.5 561.5h0M999.5 621.5h0M1011 584h0M998 623h0M1015.5 564.5h0M1031.5 589.5h0M1025.5 604h0M1032 621h0M1006 640h0M1000.5 579h0M1055.5 583h0M1034.5 597h0M1005.5 611.5h0M1017.5 582h0M1004.5 588.5h0M1062.5 531h0M986 571.5h0M1019 557.5h0M1016 585h0M985.5 595.5h0M1058 626h0M998.5 626.5h0M985.5 569h0M1004 605.5h0M1006.5 566.5h0M1051 600h0M1085.5 567h0M1072.5 601h0M1093 582.5h0M1089.5 600.5h0M1089.5 577.5h0M1093.5 586h0M1087 568.5h0M1097 606h0M1077 596.5h0M1067 597h0M1080 583h0M1103 580.5h0M1097.5 575h0M1081.5 563.5h0M1108 553h0M1083 578h0M1083.5 643h0M1083 591.5h0M1088 574h0M1075.5 556.5h0M1104.5 620h0M1074 616.5h0M1086 566.5h0M1086 566h0M1079.5 635h0M1106 564h0M1094 521.5h0M1100.5 598.5h0M1095 576.5h0M1065.5 567h0M1085.5 553.5h0M1071 608.5h0M1107.5 573h0M1083 589.5h0M1075 608.5h0M1085 581.5h0M1072.5 623h0M1099 625h0M1100 596.5h0M1075.5 581h0M1104 582h0M1084 601.5h0M1086.5 557h0M1103 615h0M1093 580h0M1088.5 627h0M1081.5 575.5h0M1071.5 594h0M1087.5 557.5h0M1091 552.5h0M1074 599.5h0M1073.5 624h0M1075 588h0M1085 534.5h0M1105.5 611.5h0M1067.5 587.5h0M1073.5 554h0M1091 578.5h0M1071 583h0M1076.5 591.5h0M1104 573h0M1157.5 631.5h0M1182.5 573h0M1178 589h0M1155 586.5h0M1152 528.5h0M1137 599.5h0M1122.5 598h0M1179 619h0M1168.5 581h0M1160.5 551.5h0M1124.5 643h0M1151 585h0M1178.5 591.5h0M1162.5 545.5h0M1168 572.5h0M1152.5 558.5h0M1127 579h0M1123 585h0M1129 564.5h0M1133.5 608h0M1134 596h0M1164.5 560.5h0M1161 579h0M1119 639.5h0M1143.5 583h0M1149 568.5h0M1126.5 577.5h0M1171 565.5h0M1126.5 578h0M1139.5 572.5h0M1169.5 608.5h0M1126 617.5h0M1134.5 556.5h0M1123.5 640.5h0M1154 608h0M1179.5 618h0M1160.5 588.5h0M1172 552.5h0M1154 625.5h0M1137.5 556.5h0M1122.5 578h0M1153 609.5h0M1155.5 572.5h0M1152 564h0M1157.5 553.5h0M1174 548h0M1171 575h0M1169 566h0M1115 630h0M1123 597h0M1141.5 619h0M1123 613h0M1175.5 554h0M1131.5 591h0M1136 593h0M1151 564.5h0M1175.5 573h0M1175 553h0M1185.5 585h0M1114 648h0M1137.5 606.5h0M1119.5 636h0M1183.5 590h0M1129.5 602h0M1157 540.5h0M1113.5 590h0M1164 573h0M1152.5 613.5h0M1165.5 638.5h0M1134 603.5h0M1181 573h0M1162.5 636.5h0M1154.5 583h0M1186 658h0M1166 562.5h0M1133 574.5h0M1147 615.5h0M1186 566h0M1180.5 603h0M1136 600.5h0M1145.5 593h0M1158.5 629h0M1133.5 613h0M1179.5 572h0M1161 561.5h0M1124 613.5h0M1171 556.5h0M1173 585h0M1140.5 580h0M1153.5 545.5h0M1114.5 643h0M1157.5 593h0M1139.5 569.5h0M1124 592.5h0M1182.5 587h0M1142 568.5h0M1150 590h0M1138.5 570.5h0M1183.5 583.5h0M1171 588.5h0M1175.5 579.5h0M1185.5 570h0M1153.5 609h0M1147.5 570h0M1161 668h0M1175.5 616h0M1170.5 569.5h0M1133.5 578.5h0M1171 533h0M1117.5 574h0M1147.5 604h0M1181.5 528.5h0M1156.5 653.5h0M1157.5 580.5h0M1149.5 559h0M1118.5 571h0M1213 567h0M1203 560h0M1278 562h0M1243.5 584h0M1284.5 561.5h0M1243.5 598h0M1266 559h0M1200.5 537.5h0M1227 585.5h0M1206 612h0M1221 629h0M1294 566h0M1229 602.5h0M1280 599.5h0M1214.5 584h0M1245.5 574.5h0M1253.5 560.5h0M1225 570h0M1229.5 585h0M1273.5 545.5h0M1265 531.5h0M1230.5 579h0M1275.5 548.5h0M1212 580.5h0M1285.5 630h0M1197 624h0M1229 566h0M1231 573h0M1266.5 563.5h0M1186.5 604.5h0M1203.5 625.5h0M1234.5 598h0M1241.5 586.5h0M1197 547h0M1268.5 566h0M1244.5 570h0M1248 595.5h0M1288 598.5h0M1240.5 608h0M1261.5 573.5h0M1267 596.5h0M1198 561h0M1213 605.5h0M1204.5 633.5h0M1267.5 550.5h0M1258.5 534.5h0M1226 638h0M1212.5 602h0M1293 564.5h0M1266.5 582.5h0M1295.5 619.5h0M1279.5 556.5h0M1259.5 580.5h0M1217 621h0M1243.5 575h0M1297.5 570h0M1264.5 612h0M1248.5 601h0M1201 605h0M1193 581h0M1226 582h0M1187.5 576.5h0M1227.5 621h0M1230.5 606h0M1196.5 559.5h0M1287.5 617h0M1289 586h0M1293 559h0M1257 607h0M1217 570.5h0M1214 593h0M1228.5 574.5h0M1249.5 580.5h0M1296 616.5h0M1229 615.5h0M1209 589h0M1207.5 580.5h0M1219 564.5h0M1275.5 586h0M1287.5 628.5h0M1205.5 583h0M1295.5 633h0M1283.5 607h0M1206.5 570.5h0M1252.5 592.5h0M1205.5 579.5h0M1234.5 569.5h0M1270 574.5h0M1272.5 598h0M1289.5 557h0M1283.5 554.5h0M1262 575h0M1277 573.5h0M1195 553h0M1251 611h0M1209 585.5h0M1282.5 625.5h0M1234 580.5h0M1190.5 566h0M1293.5 608.5h0M1256.5 561h0M1250 590.5h0M1214.5 563h0M1269 583h0M1258 539h0M1257.5 603.5h0M1214 641.5h0M1294.5 633.5h0M1194 592h0M1213.5 563.5h0M1293 559.5h0M1260 554.5h0M1211 566.5h0M1236.5 577h0M1203.5 594h0M1281 594.5h0M1276 580.5h0M1241 617h0M1263.5 587h0M1283.5 589.5h0M1217.5 606.5h0M1200 561h0M1258 550.5h0M1282.5 560.5h0M1225.5 572h0M1249.5 557h0M1253 608h0M1284.5 607.5h0M1221.5 556.5h0M1277.5 576h0M1190.5 634.5h0M1245 584h0M1291 576.5h0M1210 546h0M1205.5 617.5h0M1293.5 555.5h0M1278.5 569.5h0M1240 630.5h0M1196.5 586h0M1224 602h0M1243 596.5h0M1227 533h0M1296.5 552h0M1259 611h0M1293.5 600.5h0M1197.5 584.5h0M1280.5 618h0M1296 606.5h0M1232 582.5h0M1286 604.5h0M1237.5 570.5h0M1240 613h0M1225 576.5h0M1262.5 555h0M1259.5 605.5h0M1245.5 573.5h0M1289 605h0M1215 619h0M1240 578h0M1289.5 592.5h0M1244.5 606.5h0M1213.5 583h0M1204 603.5h0M1233 608h0M1204 576.5h0M1239.5 614.5h0M1278 581.5h0M1281.5 613h0M1236 600h0M1250 568h0M1280.5 624.5h0M1239.5 617.5h0M1187.5 627.5h0M1296 577h0M1269 599h0M1280.5 571.5h0M1220.5 581h0M1200 565.5h0M1237 579h0M1239 592h0M1221 595.5h0M1242.5 596.5h0M1255 575.5h0M1192.5 612h0M1186.5 583h0M1248.5 629.5h0M1194.5 578.5h0M1305.5 569.5h0M1315 531.5h0M1313 580h0M1326 609h0M1307.5 577.5h0M1323.5 571.5h0M1306.5 610.5h0M1312.5 555.5h0M1315 579.5h0M1307.5 560h0M1307.5 620.5h0M1315 563.5h0M1316.5 596h0M1305.5 599h0M1319 606.5h0M1306.5 577.5h0M1309.5 654.5h0M1320 575h0M1309 557.5h0M1327 566.5h0M1326.5 571h0M1299.5 611.5h0M1316 581h0M1312.5 580.5h0M1314.5 591.5h0M1313 600h0M1318.5 590.5h0M1317.5 584.5h0M1314 617h0M1310 553.5h0M1320.5 587.5h0M1310 579h0M1320 593.5h0M1315 614.5h0M1323.5 574.5h0M1299.5 609.5h0M1304.5 589h0M1313 597.5h0M1319.5 577.5h0M1298.5 591h0M1313.5 590.5h0M1327 575.5h0M1304 595h0M1300 613h0M1308 578h0M1403 597.5h0M1351.5 634h0M1399.5 607h0M1403.5 579.5h0M1360.5 641h0M1360.5 555.5h0M1352 602.5h0M1377 576.5h0M1370 548.5h0M1363.5 589.5h0M1390.5 567h0M1357 550h0M1359.5 566h0M1355.5 604.5h0M1400 554h0M1357 587.5h0M1398.5 571h0M1352 598h0M1393.5 582h0M1387.5 625.5h0M1386.5 562h0M1374.5 621h0M1374.5 591h0M1365 560h0M1405 577h0M1379 571h0M1396.5 587h0M1364 640.5h0M1400.5 571h0M1403.5 573h0M1406 607.5h0M1383 533h0M1393.5 569.5h0M1380 584.5h0M1370 622h0M1369.5 611h0M1390 536.5h0M1387 593.5h0M1361 587h0M1381 584h0M1395 568.5h0M1378 530.5h0M1388 532h0M1397.5 593.5h0M1357 540h0M1358.5 568.5h0M1361.5 556h0M1355 605h0M1393.5 613.5h0M1397 581h0M1372 564.5h0M1374.5 614h0M1397 573h0M1358 593.5h0M1391 601h0M1386 553h0M1388 591h0M1387.5 593.5h0M1374.5 583h0M1386 625.5h0M1372.5 568.5h0M1357 586h0M1353 609h0M1377 536.5h0M1405.5 563.5h0M1377.5 577h0M1386.5 600.5h0M1393 620h0M1356 627h0M1368.5 611.5h0M1359.5 645h0M1366 590.5h0M1403.5 573h0M1381 608h0M1404.5 631.5h0M1379 558h0M1356.5 630.5h0M1395.5 568.5h0M1355.5 625.5h0M1380.5 581.5h0M1379.5 585.5h0M1405 574h0M1364.5 560h0M1376 610.5h0M1403 561.5h0M1392 575h0M1393.5 623.5h0M1403 572.5h0M1402.5 594.5h0M1393.5 565.5h0M1393 603.5h0M1360 565.5h0M1355.5 566.5h0M1373.5 573h0M1398.5 569h0M1382 575.5h0M1372.5 563h0M1378 608.5h0M1405 612.5h0M1393 611.5h0M1392.5 554h0M1394.5 529.5h0M1416.5 574h0M1422 618h0M1415 622.5h0M1424.5 595.5h0M1432.5 624h0M1426 576h0M1411 582h0M1428 629.5h0M1434.5 583h0M1419 607h0M1426 591.5h0M1419 556h0M1425 595.5h0M1423.5 569.5h0M1421 629h0M1435 582.5h0M1423 653h0M1413.5 564h0M1429 600.5h0M1422.5 530h0M1415.5 574.5h0M1410.5 574.5h0M1414.5 546.5h0M1429.5 628h0M1416.5 568h0M1411.5 595h0M1418 561.5h0M1415 561.5h0M1423 650.5h0M1417 535h0M1421 598h0M1434.5 589h0M1430 538h0M1409.5 609.5h0M1435 576h0M1426 573.5h0M1414 600.5h0M1429.5 570h0M1430.5 542h0M1423 615.5h0M1414 577.5h0M1488.5 585.5h0M1475.5 571h0M1447 605h0M1448 584h0M1493.5 566h0M1509 577.5h0M1459 567h0M1481 588h0M1459 608h0M1490.5 548.5h0M1499.5 588.5h0M1471.5 621.5h0M1507 573.5h0M1470.5 632.5h0M1459.5 624.5h0M1440.5 582h0M1492 608.5h0M1497.5 616.5h0M1497.5 591h0M1448.5 615h0M1466.5 575h0M1459 618.5h0M1493.5 611h0M1480 573h0M1476.5 564h0M1447 575.5h0M1472 570h0M1460 607.5h0M1446.5 610.5h0M1493 580h0M1442 569.5h0M1499 588.5h0M1446.5 592h0M1470 585.5h0M1493.5 607h0M1465 548h0M1506.5 607h0M1487.5 600.5h0M1453.5 591.5h0M1452 574.5h0M1445.5 587.5h0M1443.5 627h0M1497.5 560.5h0M1501 586.5h0M1483.5 627.5h0M1481 543h0M1495 614h0M1444.5 593.5h0M1484.5 605.5h0M1496 576.5h0M1463.5 562h0M1462.5 609.5h0M1491 618h0M1449.5 551h0M1494 568.5h0M1488.5 637.5h0M1490.5 602.5h0M1469.5 583h0M1444 575h0M1478.5 591h0M1474 594h0M1458 616.5h0M1492 541h0M1483.5 584.5h0M1444.5 610.5h0M1444 645h0M1452.5 570h0M1443.5 607.5h0M1441.5 587h0M1485 583h0M1452.5 570h0M1505.5 578.5h0M1502.5 572.5h0M1497 616h0M1498.5 599.5h0M1465 587.5h0M1472.5 578.5h0M1480.5 555.5h0M1469 623.5h0M1489 621.5h0M1496.5 610h0M1469.5 573h0M1465.5 564.5h0M1440 566.5h0M1493.5 587h0M1475.5 650.5h0M1466 583.5h0M1495.5 570h0M1500.5 598.5h0M1444.5 553h0M1488.5 578.5h0M1505 599.5h0M1444 565h0M1509 592h0M1447.5 570h0M1500.5 623h0M1477 573h0M1472 530.5h0M1481.5 603h0M1489 548h0M1497.5 592h0M1492.5 586.5h0M1448 579.5h0M1484 553.5h0M1455 589h0M1446 543.5h0M1504 565h0M1482 626h0M1484 587.5h0M1451.5 609h0M1523.5 603.5h0M1567 552.5h0M1582.5 605h0M1554.5 634.5h0M1533 575.5h0M1594.5 554.5h0M1608.5 567h0M1590 608.5h0M1524 564h0M1596.5 626.5h0M1549 640.5h0M1559 553.5h0M1586.5 607.5h0M1586.5 591.5h0M1598 611h0M1540.5 545h0M1543 593.5h0M1593 617.5h0M1515.5 620.5h0M1549.5 561.5h0M1577 557.5h0M1562.5 543h0M1520.5 584.5h0M1588 589.5h0M1511.5 564.5h0M1568 623h0M1567.5 560.5h0M1551 585.5h0M1525 584.5h0M1606 616.5h0M1516 605.5h0M1601 601.5h0M1568.5 543.5h0M1576 594h0M1559.5 598h0M1596 561h0M1596.5 558.5h0M1552.5 621.5h0M1527 594.5h0M1529 599h0M1578.5 547h0M1609.5 599h0M1524.5 562.5h0M1591 585h0M1549 600h0M1536 573.5h0M1517.5 578.5h0M1580.5 585h0M1554 632h0M1528.5 624.5h0M1548 579h0M1558.5 649h0M1543 549h0M1544.5 545h0M1575 520.5h0M1551 565h0M1564.5 594h0M1525 587.5h0M1551 588h0M1525 597.5h0M1540.5 582.5h0M1581.5 575.5h0M1517 572.5h0M1607.5 558.5h0M1523.5 586.5h0M1580 566.5h0M1521.5 644.5h0M1528.5 574h0M1571.5 532.5h0M1612 582.5h0M1583.5 584.5h0M1565.5 598h0M1600.5 639.5h0M1545.5 560h0M1527 587.5h0M1552 587h0M1547 542h0M1546 597h0M1596.5 608h0M1596.5 617h0M1529.5 552h0M1611.5 594h0M1607 611.5h0M1563 576h0M1581 583.5h0M1595.5 624.5h0M1544 576.5h0M1528.5 583.5h0M1569.5 575h0M1510 591.5h0M1579.5 578h0M1572.5 541h0M1591 599h0M1579 554h0M1510 622.5h0M1606.5 595.5h0M1562 581.5h0M1551.5 562h0M1548 571.5h0M1582 579.5h0M1521.5 534.5h0M1518.5 590h0M1568 628h0M1547.5 596.5h0M1555.5 618h0M1609.5 646.5h0M1593 564.5h0M1522.5 591h0M1535.5 563h0M1597.5 609.5h0M1534 587h0M1602.5 587h0M1604.5 614.5h0M1566.5 538h0M1583 651h0M1547.5 581.5h0M1511 580h0M1573.5 537h0M1536.5 591h0M1538 592.5h0M1547 570.5h0M1608 593h0M1565 582.5h0M1533.5 577h0M1530.5 606.5h0M1548 613h0M1515 600.5h0M1531.5 592.5h0M1587 564.5h0M1595.5 550h0M1600 549h0M1529 595h0M1523.5 565.5h0M1570.5 553.5h0M1564 553h0M1566 625h0M1533 572.5h0M1538.5 610.5h0M1549.5 581h0M1566.5 569h0M1536.5 603.5h0M1566.5 552h0M1543.5 568h0M1611.5 576.5h0M1582.5 578h0M1596 627.5h0M1541 583.5h0M1568 611h0M1593 570h0M1551 594.5h0M1612 599h0M1607.5 555h0M1567 570h0M1567 589h0M1595.5 552h0M1545 646.5h0M1584 571h0M1529.5 598.5h0M1531 625.5h0M1538 558.5h0M1575 567h0M1608.5 579h0M1571 556h0M1604 590h0M1581 578h0M1520 590h0M1606 568h0M1543.5 617h0M1604.5 622.5h0M1551 625h0M1561 562.5h0M1597 575.5h0M1516.5 606.5h0M1512.5 613h0M1564.5 571h0M1621 583h0M1634 583h0M1622.5 612h0M1629 567h0M1633.5 598.5h0M1629 579h0M1613.5 569h0M1614 613.5h0M1638.5 625.5h0M1622 589.5h0M1625 600.5h0M1636 594.5h0M1622 593h0M1632 578h0M1627.5 594.5h0M1622.5 551.5h0M1632 569.5h0M1637.5 632h0M1618 545.5h0M1629 541.5h0M1635 620h0M1629 622.5h0M1615.5 598h0M1632 560.5h0M1637.5 530.5h0M1621.5 559h0M1614 577.5h0M1625 587h0M1638.5 607h0M1617.5 629.5h0M1632.5 561h0M1618.5 593h0M1629 577h0M1612.5 569.5h0M1615.5 602h0M1628 558.5h0M1634 614.5h0M1634.5 589h0M1622 562.5h0M1633 562h0M1615.5 603h0M1626 573h0M1638 571h0M1622 580.5h0M1625 568.5h0M1624 552.5h0M1629 567.5h0M1619.5 580.5h0M1616 586.5h0M1689.5 614h0M1698.5 622.5h0M1649 525.5h0M1711 550h0M1650 624.5h0M1656.5 554h0M1666 576h0M1659.5 619.5h0M1695 648h0M1679 616h0M1662 595h0M1690 617h0M1651 621h0M1694.5 614.5h0M1681.5 551h0M1669.5 562.5h0M1699.5 562h0M1685.5 618h0M1644 588h0M1683.5 589.5h0M1687 571.5h0M1680.5 630h0M1654.5 575h0M1675.5 594.5h0M1705 611.5h0M1655 547h0M1712.5 622.5h0M1704 569.5h0M1681 620.5h0M1696.5 574h0M1689 645h0M1685 549h0M1644 557.5h0M1708 616h0M1651.5 606.5h0M1670 573.5h0M1657.5 573.5h0M1643.5 600.5h0M1683.5 591h0M1646.5 574h0M1701.5 564.5h0M1671.5 576.5h0M1711.5 590.5h0M1705 617h0M1666 636.5h0M1653 565h0M1675 567h0M1659.5 588h0M1661 536h0M1681.5 628.5h0M1666 586h0M1665 617h0M1646.5 564h0M1686 639h0M1663 595h0M1701 583.5h0M1661 621.5h0M1671.5 596h0M1704.5 574.5h0M1647.5 610.5h0M1674 566.5h0M1664 591h0M1679 570.5h0M1644 567.5h0M1708 654h0M1653.5 594h0M1702.5 556h0M1682 573h0M1678 607h0M1696.5 621h0M1655.5 603.5h0M1710 595h0M1652.5 637.5h0M1658 599h0M1687.5 604.5h0M1703.5 581.5h0M1700.5 575.5h0M1670.5 569h0M1671 578.5h0M1683 613h0M1662 537.5h0M1708 584.5h0M1651.5 556.5h0M1665 594h0M1709.5 605h0M1688.5 590h0M1654.5 602h0M1688 579.5h0M1657 567h0M1707 566.5h0M1682 580h0M1687 625h0M1669.5 589.5h0M1712.5 575.5h0M1686 587h0M1688 569.5h0M1644.5 596.5h0M1689.5 588.5h0M1682 551h0M1650.5 582.5h0M1664 592h0M1649.5 594.5h0M1668 547.5h0M1734.5 601.5h0M1732.5 603.5h0M1740.5 598.5h0M1799.5 619.5h0M1799 558.5h0M1792.5 592.5h0M1786.5 584.5h0M1738.5 548h0M1732 597.5h0M1735 648.5h0M1796 584h0M1792 620.5h0M1748 533.5h0M1767 593h0M1736 607.5h0M1755.5 555h0M1793 566.5h0M1764 607.5h0M1755 619.5h0M1774 609h0M1774.5 589.5h0M1785 645h0M1767.5 546.5h0M1794.5 565.5h0M1751.5 607.5h0M1780.5 609h0M1773 562h0M1777 643h0M1732 551h0M1800.5 576.5h0M1795 581h0M1742.5 554.5h0M1754.5 565.5h0M1800 565h0M1798.5 600h0M1772.5 575h0M1771 585.5h0M1745.5 581h0M1739 580.5h0M1739.5 565h0M1778.5 611.5h0M1781 645.5h0M1796 594h0M1760.5 544.5h0M1756.5 610h0M1759.5 520h0M1734 592.5h0M1786.5 573.5h0M1763.5 585h0M1792 583.5h0M1791 590h0M1760.5 570h0M1757.5 526.5h0M1778 534h0M1756.5 556h0M1735.5 572.5h0M1769.5 568h0M1754.5 578.5h0M1791.5 595.5h0M1795.5 537.5h0M1798 530h0M1772.5 536.5h0M1754.5 596.5h0M1796.5 573.5h0M1754 579.5h0M1790 570h0M1777.5 572h0M1741 577h0M1739.5 544h0M1783 584.5h0M1763.5 588h0M1755.5 552h0M1776.5 578h0M1773 591h0M1741.5 551h0M1783 639h0M1774.5 574h0M1759.5 587.5h0M1795 598h0M1744.5 587h0M1797 583h0M1797.5 530h0M1791 595h0M1747.5 538h0M1800.5 589.5h0M1800.5 589h0M1762 604h0M1757.5 615.5h0M1786.5 594h0M1769 558h0M1742 612h0M1782.5 554h0M1755 604h0M1781.5 544h0M1744 554h0M1767 551h0M1759.5 598h0M1739 605h0M1776.5 580h0M1781.5 608.5h0M1782 601.5h0M1767.5 593.5h0M1741.5 562.5h0M1743 555.5h0M1739 565h0M1771.5 574h0M1735 550.5h0M1733 593.5h0M1732.5 566.5h0M1797.5 615.5h0M1797 568.5h0M1769.5 578h0M1778.5 604h0M1763.5 575.5h0M1863 626.5h0M1835 621h0M1845.5 609.5h0M1866 543h0M1826.5 570.5h0M1844 571.5h0M1870.5 523h0M1836.5 561.5h0M1836 569h0M1873 564.5h0M1855.5 619.5h0M1857.5 666.5h0M1854.5 567.5h0M1873 550h0M1853 588h0M1826.5 612h0M1852.5 621.5h0M1840.5 589h0M1851.5 550.5h0M1855.5 553.5h0M1868 594h0M1847.5 543.5h0M1870 565.5h0M1844.5 610.5h0M1841 615h0M1820 572.5h0M1820 585h0M1871 578h0M1881 583h0M1866.5 584.5h0M1837.5 581.5h0M1848 587h0M1836 600.5h0M1840.5 597h0M1865 549.5h0M1849 619h0M1821.5 558h0M1869.5 519h0M1830.5 592h0M1838.5 587.5h0M1823 556h0M1825 566.5h0M1862 546h0M1831 570h0M1857 585.5h0M1826 577h0M1858.5 533h0M1838.5 634.5h0M1882 567.5h0M1849 554.5h0M1856 507h0M1838 601h0M1869.5 518h0M1880.5 605h0M1858 563.5h0M1868.5 609.5h0M1871.5 563h0M1843.5 560h0M1846 630.5h0M1821 622h0M1859.5 553.5h0M1821.5 624h0M1843 575.5h0M1823.5 544.5h0M1866.5 560h0M1875 565.5h0M1862 595h0M1830.5 560h0M1863 582h0M1855 561h0M1843.5 577.5h0M1870.5 579h0M1854.5 571.5h0M1861.5 608.5h0M1833 598h0M1858.5 600h0M1868.5 584h0M1872.5 578.5h0M1844 614h0M1840.5 554.5h0M1873 595.5h0M1822 587.5h0M1877 613h0M1822 597h0M1853 547h0M1861.5 551.5h0M1834 578.5h0M1855 556h0M1819 561h0M1832 556.5h0M1822.5 581.5h0M1880.5 597h0M1877.5 538.5h0M1862.5 568h0M1859.5 569.5h0M1850.5 591.5h0M1847 585h0M1862 537.5h0M1843.5 599.5h0M1830 574.5h0M1857.5 551.5h0M1841 604.5h0M1874 630.5h0M1857.5 558.5h0M1822 560.5h0M1874 599h0M1860.5 589h0M1859 534.5h0M1948.5 570.5h0M1961.5 588.5h0M1929 590h0M1935 565.5h0M1927.5 594.5h0M1922.5 561h0M1924 611.5h0M1908.5 594h0M1914 539.5h0M1924.5 593h0M1941.5 561.5h0M1947 559h0M1934 621.5h0M1928.5 560h0M1960 558h0M1956.5 620.5h0M1959 633h0M1918 567.5h0M1919 554.5h0M1903.5 630h0M1908 578h0M1932.5 597.5h0M1952 567h0M1948.5 599h0M1944 591h0M1905 594h0M1932.5 616h0M1907 578h0M1933.5 627.5h0M1920 595.5h0M1917 600h0M1927.5 580.5h0M1921 572h0M1908 608.5h0M1907 595.5h0M1945.5 556h0M1922 577.5h0M1904.5 593.5h0M1933.5 519h0M1907.5 585.5h0M1936 602h0M1932 589.5h0M1948 582.5h0M1951.5 616.5h0M1910 639.5h0M1957 555h0M1947.5 584h0M1946 566h0M1955 597h0M1921.5 584h0M1947.5 589.5h0M1950.5 625h0M1913.5 542.5h0M1907.5 560.5h0M1920 586.5h0M1943.5 576.5h0M1931.5 604.5h0M1904 534.5h0M1934.5 569h0M1905.5 611h0M1949 604.5h0M1958 539.5h0M1928 595.5h0M1913 592h0M1916.5 556.5h0M1951.5 589.5h0M1957.5 604.5h0M1921.5 607h0M1915 576h0M1962.5 588h0M1956.5 621.5h0M1906 610.5h0M1927 580.5h0M1948 618.5h0M1962 563.5h0M1921 561.5h0M1940.5 609.5h0M1905 511.5h0M1962 567h0M1923.5 560.5h0M1928 538.5h0M1902.5 576.5h0M1950.5 620.5h0M1933.5 566.5h0M1959.5 592h0M1932.5 576.5h0M1939 571.5h0M1904 576.5h0M1925 591h0M1903 525.5h0M1909.5 559.5h0M1950 599.5h0M1949.5 590h0M1957 586.5h0M1947 578h0M1953 597h0M1951.5 594h0M1953.5 525.5h0M1912.5 583.5h0M1928 621.5h0M1920 617h0M1961.5 602h0M1959 595h0M1929.5 557.5h0M1933 613.5h0M1915.5 639h0M1913.5 544h0M1913 643h0M1907.5 561h0M1952.5 599.5h0M1907.5 545.5h0M1980.5 607h0M1986.5 565.5h0M1964 564.5h0M1978.5 603h0M1967.5 549.5h0M1975 630.5h0M1983 562h0M1973.5 561.5h0M1966 579.5h0M1967.5 585.5h0M1972 613h0M1967 615.5h0M1981.5 603h0M1975.5 567h0M1979 573.5h0M1964 565h0M1971.5 644.5h0M1974 635.5h0M1986.5 595h0M1963 587.5h0M1975.5 595h0M1985 576h0M1980.5 637.5h0M1969 558.5h0M1977 591.5h0M1988 550h0M1977 588h0M1969 572h0M1964 591.5h0M1964 605h0M1971.5 587h0M1969 632h0M1975 604.5h0M1989 621h0M1977.5 640h0M1976.5 576.5h0M1972 585h0M1986 562.5h0M1979.5 554.5h0M1970 614h0M1983.5 580.5h0M1986 582h0M1974 576.5h0M2018 598.5h0M2019 580h0M2013.5 654h0M2017 628h0M2005 591h0M2021 523h0M2032 592h0M2025 579h0M2010 615h0M2018.5 563h0M1999.5 583.5h0M2004.5 629.5h0M2014 582h0M2006 568.5h0M2018 579h0M2030.5 567h0M2031 621.5h0M2004 605.5h0M2019.5 638h0M2005 591h0M2016.5 596h0M2000 642.5h0M2008 560h0M2018.5 589.5h0M2016.5 584h0M2021 615h0M2015 580.5h0M2018.5 601.5h0M2032 554.5h0M2027 576.5h0M2000 602.5h0M2011 612h0M2024.5 580.5h0M2015 612.5h0M2020 595h0M2031.5 545.5h0M2026 634h0M2011.5 600.5h0M2017.5 593h0M2023 575.5h0M2025 613h0M2017.5 583.5h0M2020.5 623.5h0M2024.5 571h0M2014.5 586h0M2012 591h0M2022 574h0M2004 629.5h0M2031 633.5h0M2030.5 622h0M2035 640.5h0M2039.5 603h0M2049.5 613.5h0M2044 569h0M2037.5 630.5h0M2044 611.5h0M2040.5 610.5h0M2041.5 595.5h0M2048 604h0M2047 621h0M2049.5 604h0M2039.5 616.5h0M2045 528.5h0M2034.5 591.5h0M2042 577.5h0M2050 598h0M2042.5 575h0M2041.5 566.5h0M2034.5 551.5h0M2044.5 589h0M2033.5 600h0M2046.5 610.5h0M2050 567h0M2044 621h0M2045.5 573h0M2045.5 650.5h0M2038 617.5h0M2036 640h0M2048 622h0M2047.5 594h0M2044.5 598.5h0M2034 613.5h0M2069.5 615h0M2070.5 558.5h0M2070.5 628h0M2065 591h0M2078 555h0M2061 558.5h0M2088 628.5h0M2071 602.5h0M2069 581.5h0M2054.5 600h0M2084.5 612h0M2092.5 565h0M2087.5 585h0M2053 583h0M2051.5 557.5h0M2069.5 595.5h0M2062.5 600h0M2051.5 667h0M2092.5 592.5h0M2084 566h0M2094 645.5h0M2054.5 592h0M2083 615.5h0M2064 556.5h0M2075 612h0M2054.5 574.5h0M2064.5 601.5h0M2054 584h0M2080.5 558.5h0M2087 600h0M2050.5 626.5h0M2087 565.5h0M2092.5 651.5h0M2071 558h0M2067 612h0M2072.5 565.5h0M2091 595h0M2083 575h0M2087 581.5h0M2059 585.5h0M2080 637.5h0M2050.5 610h0M2084.5 638.5h0M2087 613h0M2061.5 536h0M2070.5 575.5h0M2079 585h0M2073.5 599.5h0M2090 614.5h0M2055 667h0M2061 571.5h0M2081.5 603h0M2071.5 572h0M2078 591.5h0M2085 605h0M2090.5 576.5h0M2086.5 611h0M2093.5 606h0M2065.5 568.5h0M2053 635h0M2060.5 581h0M2076 605.5h0M2093 632.5h0M2052 621.5h0M2077 608h0M2067.5 627h0M2070.5 571.5h0M2063.5 586.5h0M2083.5 614h0M2089.5 571h0M2069 546.5h0M2070 591.5h0M2085.5 600.5h0M2077 568h0M2072 545h0M2078 596h0M2091.5 600h0M2076 585h0M2053 600.5h0M2067 552.5h0M2054 611.5h0M2070.5 587h0M2053 635.5h0M2097 585.5h0M2097.5 608.5h0M2100 556.5h0M2100 552.5h0M2098 574.5h0M2101.5 589h0M2101 575h0M2097.5 635h0M2095 597.5h0M2099 606.5h0M2099 596h0M2104 533h0M2103 565.5h0M2097.5 589h0M2105 621.5h0M2096.5 559.5h0M2097.5 630.5h0M2100 557h0M2098.5 638h0M2101 640.5h0M2104 552h0M2145.5 571h0M2134.5 561.5h0M2115 554h0M2135 597.5h0M2151 511.5h0M2113.5 577h0M2119 583.5h0M2134.5 592.5h0M2151 562h0M2115.5 594.5h0M2128 568h0M2141 562h0M2138 556h0M2112 596h0M2151 609h0M2112 586h0M2151.5 546h0M2111 642.5h0M2126 585.5h0M2121 593h0M2121.5 603.5h0M2129.5 546h0M2124.5 604.5h0M2123 618.5h0M2125.5 593.5h0M2114 618.5h0M2129.5 561.5h0M2134 610.5h0M2130 592h0M2114.5 597h0M2115.5 571h0M2125 613h0M2128.5 611.5h0M2119.5 562.5h0M2126 540.5h0M2120 579h0M2143 592h0M2110 610.5h0M2140 612h0M2116.5 573.5h0M2114.5 571.5h0M2129.5 625h0M2131 570h0M2138 640.5h0M2139.5 597h0M2116 558h0M2136.5 618h0M2120 604.5h0M2142 593.5h0M2110 628h0M2123.5 594.5h0M2144 584h0M2120 570h0M2119 573h0M2130 593h0M2110 570.5h0M2152.5 577h0M2146.5 593h0M2119 592h0M2152.5 587.5h0M2127.5 592.5h0M2109 577h0M2119.5 570.5h0M2120.5 565h0M2150.5 541h0M2114.5 542h0M2118 574h0M2148 557.5h0M2127 578h0M2115.5 582.5h0M2111 584.5h0M2155.5 596h0M2166.5 570.5h0M2155 594.5h0M2157.5 615h0M2167 586h0M2154.5 565.5h0M2168.5 625.5h0M2160 623h0M2163 613h0M2160 633.5h0M2170 630h0M2159 586.5h0M2159.5 594h0M2158.5 591h0M2156 600.5h0M2158 597.5h0M2161.5 641h0M2163 620.5h0M2163.5 669.5h0M2167 574h0M2156.5 584.5h0M2158.5 627h0M2161 610h0M2164.5 602h0M2154.5 569h0M2159.5 658h0M2161.5 623.5h0M2168.5 640h0M2161 631.5h0M2170.5 621h0M2180 599h0M2188 606h0M2197 570h0M2181.5 591h0M2197 591h0M2183 629.5h0M2185 620h0M2195.5 640h0M2179 585.5h0M2182 577h0M2190.5 641h0M2194.5 585.5h0M2187.5 607.5h0M2195 593.5h0M2183.5 579.5h0M2186.5 636.5h0M2192.5 627.5h0M2197 591h0M2197.5 651h0M2178.5 586.5h0M2192 611h0M2191.5 577.5h0M2187.5 646.5h0M2182 564h0M2179 531h0M2190.5 615.5h0M2187 614h0M2191 639.5h0M2197.5 616h0M2177.5 623h0M2197.5 613h0M2184 618h0M2176.5 566.5h0M2180 644.5h0M2176.5 625h0M2186.5 632h0M2186.5 683h0M2177.5 626h0M2190.5 634.5h0M2198 608.5h0M2189 625.5h0M2198 630.5h0M2193 621.5h0M2186 597h0M2193.5 603.5h0M2178.5 564h0M2198.5 596.5h0M2215.5 599h0M2206 569.5h0M2208 603h0M2205 568h0M2213 607.5h0M2207 601h0M2212 606.5h0M2208 589.5h0M2215.5 613.5h0M2212 592h0M2219 587h0M2201.5 606.5h0M2217.5 601h0M2217.5 647.5h0M2205 577h0M2205.5 583h0M2201.5 588.5h0M2218.5 588h0M2202 589.5h0M2216.5 574.5h0M2211 629.5h0M2199 567h0M2206 580h0M2208 599.5h0M2204 567.5h0M2203 606.5h0M2213.5 581h0M2209.5 589h0M2218.5 605h0M2206 557.5h0M2224 617h0M2231 584.5h0M2226 571.5h0M2238 565h0M2226 572.5h0M2243 636h0M2222.5 591h0M2236 655h0M2228.5 567.5h0M2225.5 605.5h0M2232 603.5h0M2242.5 607.5h0M2230.5 569.5h0M2233.5 581h0M2227 555.5h0M2239 521.5h0M2241 587h0M2237.5 549h0M2241.5 647.5h0M2235.5 602.5h0M2237.5 575h0M2242 583h0M2233.5 574.5h0M2239.5 616h0M2238 624.5h0M2225.5 571.5h0M2228.5 577h0M2234 634.5h0M2222 599.5h0M2222.5 558.5h0M2241.5 573h0M2235.5 582h0M2226.5 578.5h0M2228.5 529h0M2241.5 664.5h0M2231.5 625h0M2232.5 612.5h0M2243 595h0M2237 605h0M2237 563h0M2236 593.5h0M2225 577.5h0M2230 589h0M2240 547.5h0M2234 622h0M2261 627.5h0M2263 568.5h0M2265 550.5h0M2277 590h0M2275.5 549.5h0M2264 617h0M2261 610.5h0M2263.5 561h0M2278.5 548.5h0M2269.5 554h0M2276 520h0M2267.5 552.5h0M2258 574h0M2277.5 607h0M2278 584.5h0M2276.5 586h0M2283 574.5h0M2283.5 600.5h0M2263.5 550h0M2270 607h0M2272 572.5h0M2274.5 592.5h0M2277 568h0M2276.5 542h0M2257.5 562h0M2269 590.5h0M2262.5 564h0M2269.5 590h0M2282 571.5h0M2278 590.5h0M2262 607.5h0M2282.5 564h0M2281.5 555h0M2273.5 564.5h0M2274.5 576h0M2259.5 595h0M2267.5 588h0M2271 571.5h0M2264 552h0M2273 545.5h0M2272.5 579.5h0M2271 578.5h0M2265 591.5h0M2266 623h0M2261 601.5h0M2265.5 614h0M2279.5 572.5h0M2300.5 657.5h0M2311 659.5h0M2311.5 652.5h0M2305.5 679h0M2301.5 657.5h0M2311 679h0M2312 659h0M2306.5 661.5h0M2309.5 696h0M2302.5 683.5h0M2307.5 682.5h0M2298 662.5h0M2300 669h0M2314.5 632h0M2311.5 678h0M2315 676.5h0M2297.5 666h0M2314.5 638.5h0M2306.5 620h0M2297.5 649h0M2303 649.5h0M2307 656.5h0M2302.5 648h0M2307 663.5h0M2298.5 653.5h0M2297.5 671.5h0M2305 617h0M2314 658.5h0M2307.5 666.5h0M2313 696.5h0M2300.5 666h0M2299.5 654h0M2314.5 640.5h0M2301 613.5h0M2308.5 676.5h0M2301 655h0M2301.5 676.5h0M2310.5 671h0M2305.5 672.5h0M2298.5 671h0M2307.5 621h0M2313 656h0M2316 632.5h0M2304.5 675.5h0M2306.5 643.5h0M2317 619h0M2318.5 641h0M2318.5 660.5h0M2321.5 651.5h0M2323.5 635.5h0M2320 713h0M2321.5 648.5h0M2317.5 673h0M2319.5 647h0M2317.5 639.5h0M2320 643h0M2318.5 675.5h0M2323.5 673h0M2317 641.5h0M2325 651h0M2316.5 681h0M2320 659.5h0M2324 595h0M2322.5 642.5h0M2320.5 651.5h0M2417.5 565.5h0M2340 550.5h0M2435 552.5h0M2347.5 543h0M2401.5 513h0M2365 547.5h0M2387 557.5h0M2351.5 546h0M2350 544.5h0M2402.5 520.5h0M2400 548.5h0M2441.5 560h0M2402 520.5h0M2342 555.5h0M2327 521.5h0M2334 534h0M2347.5 500.5h0M2328.5 555.5h0M2365 528h0M2355.5 547h0M2390.5 576.5h0M2417 525.5h0M2401.5 550.5h0M2441.5 545h0M2359.5 577h0M2353 561h0M2395.5 520.5h0M2433 538h0M2356.5 530.5h0M2432.5 562.5h0M2427.5 548h0M2348.5 532h0M2349 546.5h0M2406.5 547.5h0M2428 495h0M2390 513.5h0M2361.5 596.5h0M2331.5 532.5h0M2346 573.5h0M2345.5 551.5h0M2375 495.5h0M2399.5 541h0M2380 567.5h0M2380 529.5h0M2345 537h0M2354 523.5h0M2349 556h0M2389 536.5h0M2353 538h0M2370 518.5h0M2439.5 549h0M2434.5 585.5h0M2438 583h0M2368.5 525h0M2405 524.5h0M2353 536.5h0M2383 554h0M2401 567h0M2423.5 512h0M2325 518.5h0M2333 522h0M2324 552h0M2368 552h0M2386.5 556h0M2410 577h0M2400.5 537.5h0M2417 522h0M2431 565.5h0M2330.5 529.5h0M2380 555h0M2404 599.5h0M2420 533.5h0M2350.5 509h0M2328.5 553h0M2369.5 534h0M2335.5 516.5h0M2328 537.5h0M2403.5 550h0M2324 526.5h0M2411 528h0M2380 591h0M2344.5 542h0M2421 517h0M2440.5 548.5h0M2385.5 561.5h0M2325.5 518h0M2390 549.5h0M2371.5 544h0M2340.5 539h0M2405.5 543h0M2405 526h0M2422.5 523h0M2372.5 591.5h0M2414.5 562.5h0M2408.5 555.5h0M2405.5 556.5h0M2348 530.5h0M2436 555h0M2344 540h0M2332 517.5h0M2431 538h0M2393.5 528h0M2424.5 564h0M2403 569.5h0M2388 580h0M2428.5 553.5h0M2362 510.5h0M2379.5 564h0M2324 571.5h0M2428.5 574h0M2385 541.5h0M2389 569.5h0M2368 508h0M2368 512.5h0M2377 557h0M2323.5 559.5h0M2410 538h0M2408.5 510h0M2419 533.5h0M2340 499.5h0M2356.5 524h0M648 482h0M344 513h0M680 683.5h0M2436.5 454h0M2296 719h0M1466 506.5h0M2024.5 510.5h0" stroke="url(#g)" stroke-width="7" stroke-linecap="round" fill="none"/>
<path d="M145.5 563.5h0M137.5 606.5h0M201 538.5h0M208 584h0M210.5 593.5h0M200.5 599.5h0M199 612h0M211.5 601h0M162 582.5h0M194 603.5h0M136 559.5h0M151 614.5h0M136 607.5h0M181.5 582h0M188 596h0M126.5 597h0M175 608h0M185.5 595.5h0M125 600h0M175.5 573.5h0M176 573h0M153 550.5h0M142.5 620h0M131.5 630.5h0M171.5 592h0M211 604.5h0M159.5 569h0M189 614h0M146.5 571.5h0M135.5 619.5h0M159 594h0M166 606h0M141 576h0M173.5 588h0M206.5 569.5h0M194.5 579.5h0M211.5 642h0M215.5 602.5h0M215 599.5h0M129 647.5h0M202.5 619h0M135.5 573h0M130.5 575h0M157.5 593.5h0M138.5 597h0M183.5 555.5h0M200 591h0M154.5 601h0M133 607.5h0M182 608.5h0M143 591.5h0M126.5 615h0M208 590.5h0M170 580.5h0M194 591h0M144 590h0M155.5 579h0M201 601h0M133 606h0M135 596.5h0M212.5 575h0M147.5 574h0M187.5 591h0M194.5 611h0M190.5 579.5h0M201 569h0M192.5 586h0M208 597.5h0M176.5 581.5h0M131.5 586.5h0M154 626h0M199.5 539.5h0M131.5 567.5h0M168.5 601h0M141 634h0M203 588h0M179 601.5h0M213.5 578h0M181.5 594h0M176 633.5h0M159 583.5h0M167.5 566h0M171.5 587h0M172 582h0M210 577h0M177.5 616h0M185.5 570.5h0M181.5 590.5h0M131.5 583.5h0M199 594h0M165.5 552h0M199.5 583.5h0M192 583h0M140 607.5h0M179 559h0M193.5 595.5h0M210 584h0M175 609.5h0M185 569h0M165.5 593h0M124.5 583h0M175.5 577.5h0M177 581.5h0M184.5 598.5h0M196 625h0M157 594h0M146 603h0M169.5 611h0M158 558h0M125.5 579h0M166 626h0M200 553.5h0M183.5 560.5h0M164.5 630.5h0M161.5 590.5h0M200 606.5h0M125 554.5h0M128.5 595h0M175.5 570.5h0M172 580h0M190 545.5h0M180 611h0M177.5 564.5h0M200 594h0M139.5 595.5h0M136 557h0M175 552.5h0M132 572.5h0M211.5 581.5h0M190.5 598h0M183.5 592.5h0M153.5 638.5h0M177 608.5h0M178 603.5h0M144 567.5h0M175 600.5h0M137.5 608.5h0M194.5 626h0M155 609.5h0M175.5 555.5h0M141.5 583.5h0M141.5 577h0M135.5 588.5h0M215 603.5h0M193.5 617h0M192 591.5h0M198.5 629.5h0M205 590h0M150.5 605.5h0M161 571h0M182.5 587h0M199 595h0M158.5 543h0M215 595h0M214 622.5h0M159 582h0M171 575h0M162.5 573h0M182 598.5h0M147 591h0M183.5 565h0M189 602.5h0M173.5 607.5h0M133.5 586.5h0M142.5 594h0M187 550.5h0M132.5 605h0M214.5 613h0M208 556.5h0M142.5 631.5h0M213 578h0M153 584.5h0M141 603h0M208 601h0M169 587h0M310 575.5h0M246 639.5h0M292 564h0M255.5 535h0M286 549.5h0M307 609h0M271 564.5h0M277.5 623.5h0M308 527h0M255.5 548h0M280 598.5h0M253 618h0M285.5 609h0M248.5 602.5h0M310.5 574h0M293.5 601.5h0M265.5 591.5h0M282 636h0M289 603h0M282 594.5h0M309.5 595.5h0M269 579.5h0M244.5 563h0M310 596.5h0M270.5 585h0M268 562h0M269.5 575h0M259.5 590.5h0M278.5 584h0M246 562h0M252 602.5h0M236 585h0M260.5 572.5h0M236 568.5h0M287.5 582h0M245.5 549.5h0M255 604.5h0M297.5 593h0M288 579h0M292 604.5h0M310 567.5h0M260 635h0M269 570h0M307.5 580.5h0M240.5 630h0M294.5 582h0M295 603h0M247 609.5h0M235 621.5h0M276.5 537h0M244 628.5h0M301.5 585h0M307.5 563.5h0M296 570.5h0M310.5 609h0M277.5 575.5h0M289.5 593h0M243 572h0M235.5 574.5h0M254.5 570h0M255 579h0M252.5 611.5h0M267.5 588h0M244 584.5h0M258 594.5h0M288 585h0M250.5 572h0M244 596h0M235.5 581h0M298.5 653.5h0M279 613h0M262.5 565h0M263.5 614h0M261 614h0M271.5 574.5h0M261.5 592.5h0M251.5 601.5h0M259.5 590.5h0M273 588.5h0M301.5 570.5h0M275.5 574.5h0M284 626h0M262.5 610.5h0M277.5 618h0M289 592h0M287 600h0M267 598h0M264 616.5h0M256.5 596h0M254.5 579h0M266 603.5h0M239.5 613h0M305 534.5h0M284 600.5h0M235 624.5h0M244.5 622.5h0M255.5 582h0M308.5 607.5h0M273.5 578h0M292 624.5h0M308 628h0M248 633.5h0M292.5 580h0M255.5 582h0M264.5 566.5h0M304.5 592h0M235 614h0M311 572h0M294 637h0M293 640h0M265.5 589h0M293.5 573.5h0M285 593h0M289 592h0M249.5 574.5h0M295.5 572.5h0M251 619h0M251.5 560h0M262 567.5h0M242 580.5h0M311 579h0M253 589.5h0M274 571.5h0M281 647h0M236 608h0M267 566h0M283.5 653.5h0M234.5 608.5h0M242.5 553.5h0M250.5 611h0M288 631.5h0M248.5 649.5h0M287 596h0M267.5 571h0M258.5 617h0M253.5 606.5h0M270 570h0M292.5 589.5h0M287.5 588.5h0M289.5 612h0M297 550h0M280.5 609.5h0M254 619.5h0M238.5 630.5h0M236 594h0M257 592h0M297 593.5h0M311 565h0M312.5 574.5h0M273.5 607.5h0M277 614h0M273 587h0M309 589.5h0M360.5 575h0M353 587.5h0M331.5 622.5h0M359.5 571.5h0M342 547h0M347.5 545.5h0M331 612h0M380 650h0M381.5 574.5h0M349 595.5h0M376 616h0M364 563h0M338 625h0M381 567.5h0M330.5 563h0M335 601.5h0M346 612h0M322 586.5h0M379 585h0M322.5 604.5h0M328.5 591.5h0M359 625.5h0M351.5 593.5h0M350 545.5h0M360.5 598h0M339 586.5h0M377.5 596.5h0M337.5 581h0M365 586h0M338 529.5h0M340 582h0M370.5 558h0M326 596.5h0M350.5 595.5h0M382 622h0M360 587.5h0M369.5 555.5h0M358 590.5h0M317.5 605.5h0M361.5 587.5h0M339 579.5h0M363 589.5h0M361 584.5h0M368 549h0M331.5 640h0M327.5 551h0M315 572.5h0M369 566.5h0M350 590h0M325.5 595h0M380.5 592h0M374 618h0M372.5 587h0M374 532h0M349.5 592.5h0M347.5 578h0M364.5 583h0M358 595.5h0M373.5 596h0M315 588h0M373 561h0M362.5 599h0M374 596h0M355 576.5h0M337 656.5h0M326.5 654.5h0M370.5 562.5h0M359 644.5h0M347.5 552.5h0M364 608.5h0M360 591.5h0M362.5 595h0M365.5 611.5h0M348 561.5h0M327.5 590.5h0M317.5 586h0M374.5 615.5h0M347.5 572h0M380.5 586.5h0M326.5 599.5h0M376.5 565.5h0M337.5 538h0M341 564.5h0M335 543.5h0M378.5 614h0M355.5 571h0M369 596.5h0M336 598h0M372 583.5h0M378 608h0M363.5 577.5h0M330.5 566h0M364.5 581.5h0M372 552h0M362 549h0M366.5 590.5h0M352 565.5h0M330 600h0M342.5 596h0M379.5 547h0M313 579h0M348.5 584.5h0M355 550.5h0M344.5 620h0M342.5 608.5h0M324 585.5h0M331 527.5h0M380 558.5h0M315 591.5h0M342 611.5h0M345 570h0M377 596.5h0M376.5 542.5h0M332 559.5h0M346 564.5h0M352 605.5h0M353.5 605h0M368 583.5h0M337 593h0M343.5 564.5h0M315.5 593h0M363 570h0M317.5 634h0M318.5 579.5h0M331.5 592h0M375.5 583.5h0M326 636.5h0M357.5 603h0M374 587h0M370.5 582.5h0M327.5 558h0M348 563.5h0M366.5 570h0M322.5 586.5h0M322 605h0M370.5 572h0M370 602h0M325 588h0M335.5 556.5h0M365 593h0M371.5 572h0M418.5 582h0M439.5 551.5h0M392 597.5h0M425.5 578.5h0M407.5 567.5h0M397 577.5h0M393.5 593h0M466 581.5h0M387.5 591.5h0M441.5 597h0M402.5 577h0M395 625.5h0M410.5 595.5h0M460.5 581h0M406.5 572.5h0M459.5 587.5h0M466.5 582.5h0M410 562h0M452.5 631h0M463 576.5h0M405 595.5h0M450.5 585h0M421.5 573h0M419 625h0M451 626h0M421 596h0M404 585.5h0M418.5 605h0M465 573h0M433 578h0M432.5 527.5h0M452.5 608.5h0M434 636h0M448.5 590h0M407.5 561.5h0M455 588.5h0M411 582.5h0M402.5 561h0M402.5 569.5h0M399.5 576.5h0M425.5 588h0M417 586h0M388.5 618.5h0M409.5 571.5h0M440 580h0M437.5 566h0M459 589.5h0M452 599h0M454 576.5h0M396 574h0M464.5 589.5h0M391 580h0M453 565.5h0M422.5 565h0M438 537.5h0M425.5 600.5h0M399 598h0M433 551.5h0M443.5 607.5h0M434 570.5h0M445 576h0M438 593.5h0M460.5 581.5h0M434 579h0M461.5 576.5h0M432 537.5h0M433.5 590.5h0M450.5 537.5h0M390.5 587.5h0M437.5 562.5h0M432.5 579h0M420.5 557.5h0M392.5 595.5h0M430 562.5h0M415 564h0M435 600h0M387 578h0M393.5 603.5h0M421 598.5h0M415 594h0M413 581.5h0M464 610h0M438 570.5h0M436.5 552h0M396 596.5h0M393 588h0M410.5 567h0M390.5 599h0M454.5 573h0M447.5 591.5h0M390 585h0M421 609.5h0M444.5 574h0M434 593h0M454 560h0M447 561.5h0M420.5 593.5h0M405.5 581h0M442 564.5h0M462 590.5h0M438 567h0M395 595.5h0M453.5 574h0M393.5 617.5h0M439 576h0M395 576h0M428 575h0M388.5 572.5h0M421 602h0M404 606.5h0M464 600.5h0M396.5 540.5h0M445.5 583.5h0M416.5 601.5h0M423 602h0M431 598.5h0M410.5 580.5h0M403 573.5h0M393.5 573h0M400.5 637.5h0M411.5 586h0M467.5 579h0M413 651h0M465.5 564.5h0M391 580h0M439.5 567h0M434.5 593h0M451 580.5h0M394.5 630h0M445.5 559h0M467 591.5h0M448 605h0M387 575h0M390 586h0M460 566.5h0M448.5 572h0M419 600.5h0M422 602h0M405 569h0M454.5 581.5h0M451.5 560h0M411.5 616h0M440 563h0M434 559h0M453 580h0M434.5 589h0M466 618h0M460.5 598h0M463.5 543.5h0M411.5 596.5h0M462 601.5h0M440.5 637h0M465 555h0M427 572.5h0M436 594.5h0M422 578h0M401 617.5h0M389 601h0M465.5 557.5h0M408 616h0M441.5 576.5h0M437 571h0M443 552h0M397 582.5h0M454 606h0M428 563h0M434 604h0M398 559.5h0M469.5 593h0M472.5 588h0M496.5 574.5h0M478.5 587h0M485 618h0M475.5 578h0M494 577h0M481 554h0M493.5 578.5h0M480 552.5h0M494.5 605.5h0M495 574h0M481 557h0M483 599.5h0M496 571h0M488.5 582h0M491 597.5h0M490.5 562h0M481 577h0M485 603h0M482.5 587.5h0M478 563.5h0M481.5 581h0M493.5 611.5h0M498.5 531h0M491.5 622.5h0M470.5 611h0M476 592.5h0M470.5 603.5h0M476.5 571.5h0M482.5 602.5h0M485 585.5h0M470 588.5h0M494.5 610.5h0M494 585.5h0M485.5 573h0M470 560.5h0M480 589.5h0M472.5 578h0M495 572h0M487 582.5h0M477.5 553h0M482.5 535.5h0M470 583.5h0M481 527h0M488.5 611.5h0M490 593.5h0M492 610.5h0M475 548.5h0M478.5 601.5h0M476 588.5h0M489 565.5h0M490 588h0M488.5 559.5h0M494.5 606h0M476 580h0M490 578.5h0M476 552h0M480 557h0M476 596.5h0M493 562h0M477 566h0M469.5 561.5h0M496 594h0M477 598h0M498 597.5h0M486.5 575.5h0M487 549h0M536.5 574h0M513 578.5h0M547.5 571h0M555 607.5h0M545.5 590.5h0M503.5 585.5h0M522 575h0M524.5 569h0M513.5 617h0M503.5 566.5h0M566.5 586h0M531 595.5h0M514 572.5h0M560 588h0M537 549.5h0M502 567.5h0M549.5 582h0M521.5 602.5h0M565.5 602.5h0M520.5 611.5h0M504.5 578h0M552.5 565h0M508.5 548.5h0M519.5 604.5h0M507 583.5h0M560.5 586.5h0M518 570.5h0M544 568h0M502 539.5h0M532 582.5h0M543.5 553.5h0M548.5 580.5h0M563.5 590.5h0M521.5 585.5h0M564.5 582.5h0M518.5 606.5h0M536.5 607h0M564.5 599h0M508 578h0M537 598.5h0M553 562.5h0M554 581h0M564.5 570h0M510 591h0M522.5 595.5h0M521 588.5h0M539.5 567h0M558 585h0M530.5 581.5h0M502.5 571h0M507.5 577h0M535 550h0M530 597.5h0M553.5 562h0M520 580.5h0M506 598.5h0M507.5 634h0M505.5 526h0M521 598.5h0M525.5 582h0M544.5 550h0M555.5 595h0M506.5 574h0M517 592.5h0M546.5 603.5h0M533.5 587.5h0M518 565.5h0M501.5 580h0M526.5 578.5h0M499.5 595h0M502 601h0M554.5 570.5h0M566 529h0M546.5 548.5h0M502 615h0M561.5 558h0M502 581.5h0M533.5 581.5h0M552 585.5h0M557 572h0M521 583.5h0M553 608.5h0M499 554.5h0M551 577.5h0M536 577.5h0M500.5 642h0M557 564.5h0M520.5 603.5h0M500 550h0M529 613h0M560 635h0M502.5 561h0M562 576.5h0M507 592.5h0M523 572.5h0M559.5 585h0M510 604h0M546 637.5h0M534.5 573h0M499 571.5h0M521.5 560.5h0M529 580h0M537 536h0M564 544h0M529.5 606.5h0M514 623.5h0M526.5 601h0M507.5 589.5h0M537 560.5h0M540 624h0M540.5 525h0M550.5 534h0M524.5 591h0M540 587h0M504.5 618h0M518.5 598h0M513.5 573h0M546.5 560.5h0M550.5 611h0M525.5 595.5h0M521 578h0M526 591h0M504.5 572.5h0M499.5 571.5h0M504 556.5h0M529 543h0M530.5 595h0M516.5 578h0M518.5 551h0M513.5 576.5h0M542 562h0M619.5 609.5h0M635 588.5h0M588 584h0M619 597.5h0M581.5 599.5h0M592 572.5h0M647 586h0M599 599h0M610.5 577.5h0M613 578h0M574.5 607h0M635 551h0M613 626.5h0M622 617.5h0M577 580h0M641 583h0M645 615.5h0M593.5 587.5h0M641 598h0M573.5 607h0M631 572h0M592.5 604h0M615.5 557.5h0M639.5 578.5h0M630 592.5h0M643 618.5h0M606 586.5h0M635.5 598h0M637 537h0M639.5 558.5h0M584 638.5h0M633.5 583h0M591 564.5h0M595.5 620h0M607 628.5h0M644 548.5h0M581 590h0M589.5 584h0M602.5 588.5h0M620.5 535h0M614.5 544.5h0M580 543.5h0M649.5 558.5h0M607.5 591.5h0M614.5 634h0M629.5 623h0M615.5 529.5h0M630.5 596h0M606 605h0M579.5 580h0M577.5 594.5h0M634 596.5h0M607 540.5h0M588.5 566.5h0M609.5 607.5h0M583.5 602h0M615.5 580.5h0M608.5 601.5h0M596 618.5h0M610.5 611h0M617 570h0M647.5 589h0M636 562h0M601 601.5h0M623.5 632h0M617.5 547h0M634 594h0M581 582h0M613 590.5h0M619 596h0M622.5 641h0M574 608h0M587 545h0M603 558.5h0M603.5 582h0M630.5 547h0M600 584.5h0M636.5 545.5h0M606 592h0M636.5 534h0M614 591h0M583.5 601.5h0M611.5 641h0M641 589h0M635.5 548.5h0M604 599.5h0M615 552.5h0M641 585h0M623.5 591.5h0M611 561h0M627 568.5h0M608.5 576.5h0M597.5 600.5h0M579 579h0M641.5 644h0M627 582h0M608.5 532.5h0M582 567h0M622.5 556.5h0M618 593.5h0M592.5 582h0M628 610h0M642 620h0M606 571.5h0M612 576.5h0M614.5 649h0M626.5 636h0M572.5 613h0M637 572.5h0M632 622h0M615 587h0M605.5 582.5h0M632.5 589.5h0M623.5 570h0M575 633.5h0M585.5 590.5h0M608 608.5h0M595.5 604.5h0M626 611.5h0M587 630h0M582 575.5h0M634 581.5h0M622.5 555h0M606.5 596h0M630 576h0M591.5 594h0M604 597h0M648.5 635h0M601 594h0M609 550h0M590 587.5h0M607 616.5h0M581.5 554.5h0M632.5 600.5h0M636.5 605.5h0M603.5 577h0M582 604.5h0M590.5 622h0M597.5 570h0M601 607h0M584.5 576.5h0M576 603.5h0M590 589h0M585.5 562.5h0M622.5 631.5h0M584 601h0M604.5 530h0M580.5 611.5h0M573.5 582.5h0M643.5 567h0M605.5 551.5h0M642 557.5h0M608 641.5h0M584.5 614.5h0M638 573.5h0M659 588.5h0M658.5 576.5h0M665.5 580h0M667 621h0M675.5 547h0M679.5 570h0M653.5 621h0M674.5 562h0M653.5 594.5h0M669.5 597.5h0M676 576.5h0M657.5 593.5h0M662 547.5h0M664 619.5h0M656.5 544h0M678 591.5h0M660 582h0M664 575h0M678 617.5h0M677 577.5h0M680 609.5h0M680.5 583.5h0M663 605h0M665 542.5h0M671 557.5h0M666 534h0M668.5 599.5h0M671 569h0M669 592.5h0M653 583h0M655 580h0M666 595h0M656 627.5h0M654 572.5h0M652.5 579h0M666 590h0M662.5 605.5h0M666 575.5h0M653 611h0M676 592h0M676 582h0M657 551h0M670 555.5h0M672.5 587h0M663.5 586h0M655.5 554h0M660 595.5h0M679.5 615h0M659 599.5h0M680 566h0M675.5 600h0M668.5 579h0M672.5 630.5h0M658 548h0M663 626h0M669 546.5h0M670 596h0M650.5 572h0M659 530h0M662 595h0M671 559h0M672.5 625h0M674 561h0M668 549h0M667 582h0M650.5 575.5h0M673.5 624h0M671.5 606h0M652 530.5h0M668 591.5h0M680 597h0M664 608.5h0M651.5 600h0M675 591.5h0M661.5 554.5h0M680.5 571h0M659.5 568h0M668.5 634h0M656 620h0M679 604h0M656 598.5h0M668.5 616h0M677.5 580h0M672 588h0M679 559.5h0M671.5 587h0M656 618.5h0M765 552.5h0M714 559h0M686 608h0M747 604h0M759 589h0M716.5 588.5h0M772 583.5h0M779 581.5h0M795.5 613h0M695 587h0M702.5 541.5h0M748.5 563.5h0M772.5 581.5h0M752 582h0M685.5 556h0M787 549h0M682.5 593.5h0M795 621h0M699.5 590h0M720.5 594.5h0M725 570h0M699.5 561h0M776.5 603h0M710 644h0M702 558.5h0M696 581h0M763.5 601.5h0M731.5 567h0M793.5 600.5h0M709.5 607h0M687.5 602h0M795.5 592.5h0M733.5 571.5h0M701 556.5h0M698.5 606.5h0M751 534.5h0M704.5 568.5h0M706.5 601h0M684 576h0M754 593h0M780 587h0M698 570.5h0M793.5 632.5h0M708 597.5h0M693.5 603.5h0M723.5 577.5h0M765.5 624h0M688.5 593h0M734 562h0M683.5 559h0M713.5 576.5h0M685.5 591.5h0M695 547.5h0M706.5 600h0M755.5 587.5h0M748.5 591h0M694 594h0M762 567.5h0M728 580.5h0M718 555.5h0M753.5 572.5h0M732 598.5h0M701.5 605h0M785.5 609.5h0M685.5 609h0M739.5 591.5h0M707.5 582h0M740 556.5h0M731 548.5h0M723 549h0M769.5 618.5h0M726.5 563h0M783 562.5h0M794 571h0M742 535h0M693 565h0M754 582h0M700 557.5h0M779.5 609.5h0M725 564h0M682 609h0M753 605h0M710.5 586.5h0M720 572h0M707.5 591.5h0M742.5 573.5h0M779.5 573h0M733 591h0M744.5 573h0M749 607h0M757 599h0M775 577h0M693 584h0M790.5 589.5h0M714.5 583h0M793.5 578h0M734.5 573.5h0M691 585.5h0M718.5 580.5h0M718 583.5h0M788.5 599.5h0M780.5 573.5h0M695.5 543.5h0M683 600h0M725 575.5h0M726.5 574h0M792.5 608h0M781 574h0M758 595h0M714.5 561.5h0M681.5 583.5h0M681.5 596.5h0M702 606.5h0M709 596h0M729 573.5h0M765.5 606.5h0M736 576.5h0M775.5 608.5h0M756 594.5h0M718.5 583h0M715 577.5h0M735.5 612h0M738.5 578.5h0M685 590h0M723 587.5h0M787.5 604h0M766 565h0M699.5 587.5h0M718.5 594.5h0M736 571h0M745.5 572.5h0M762 610h0M789 571h0M772 586h0M742 594h0M705 589h0M707.5 585.5h0M792 583.5h0M691 599h0M770 610h0M772.5 613h0M765.5 589.5h0M732 633.5h0M734.5 565h0M759 588.5h0M702 583.5h0M738.5 581h0M725.5 555h0M690.5 583h0M756 581.5h0M753 577.5h0M750.5 579.5h0M760.5 588.5h0M789.5 562h0M701 560.5h0M733 577.5h0M685 570h0M732 588.5h0M767 587.5h0M754.5 593.5h0M728 563h0M704 549h0M699 570.5h0M706.5 568h0M728 599h0M715 584.5h0M753.5 602.5h0M764.5 573h0M724.5 588h0M778 612h0M769.5 589h0M718 612.5h0M755 605.5h0M682 565h0M733 559h0M725.5 561h0M756 571h0M783.5 581h0M783.5 577.5h0M734.5 581h0M707 572h0M693.5 561h0M701 566h0M785 562.5h0M760.5 596.5h0M750 581.5h0M781 606h0M737 603.5h0M766.5 588h0M752 574h0M757 592h0M795.5 595.5h0M745.5 590.5h0M757 544h0M766.5 632.5h0M746 608.5h0M743.5 628h0M684.5 586.5h0M735 595h0M760.5 541h0M681.5 598h0M770 611.5h0M766.5 652h0M755.5 614.5h0M736.5 573.5h0M701.5 640h0M718 596h0M774.5 625h0M751 598h0M690.5 608.5h0M692.5 575h0M715 602.5h0M733.5 593h0M780.5 582h0M746.5 563.5h0M781.5 607.5h0M728.5 568.5h0M755.5 594h0M732.5 574.5h0M757.5 599.5h0M734.5 590h0M753 608.5h0M750 602h0M719 606h0M685 609.5h0M744 600h0M684.5 595h0M739 572.5h0M795.5 559.5h0M697 562h0M742.5 593h0M707 604h0M708.5 579.5h0M727.5 566.5h0M712 590.5h0M785.5 597h0M759.5 584.5h0M773 603.5h0M759 609h0M778.5 562.5h0M744 568h0M720 588h0M687 607.5h0M774.5 622.5h0M757 601h0M746.5 548.5h0M744 613h0M713.5 600.5h0M748.5 564h0M724.5 600h0M831 594h0M825 526h0M904.5 549.5h0M878 617.5h0M885.5 624.5h0M882.5 529h0M927.5 550h0M927.5 533h0M833.5 584h0M834.5 579h0M801.5 596.5h0M906.5 615h0M835 538.5h0M859 630h0M870 555h0M843.5 627h0M903.5 572.5h0M864.5 590h0M854 547h0M866 549h0M802 591.5h0M810.5 605.5h0M836.5 628h0M818 609h0M868.5 592.5h0M898.5 582h0M916 547.5h0M815 577.5h0M900 603h0M834 582h0M806.5 574.5h0M896 601h0M805 571h0M903 611.5h0M853 565.5h0M867 579.5h0M890.5 557h0M809 549h0M843 620h0M809 613h0M840.5 592h0M842 614.5h0M927.5 569.5h0M921 550.5h0M908.5 621.5h0M915 631h0M929.5 607.5h0M896.5 617.5h0M921 591.5h0M861 601h0M914.5 610.5h0M897.5 610.5h0M850.5 577.5h0M844 567.5h0M851 561h0M864.5 599h0M912.5 576h0M903 572.5h0M817 589.5h0M887.5 607h0M899 596h0M879.5 631.5h0M803.5 609h0M915.5 592.5h0M812 597.5h0M920 546.5h0M895 619.5h0M825 571h0M929.5 621.5h0M875.5 554.5h0M861.5 582h0M802 612h0M869.5 592h0M913.5 600h0M845.5 568.5h0M892.5 582h0M883 592h0M864.5 572h0M913 557h0M902 596.5h0M902 596h0M844 576.5h0M852.5 574h0M814 588h0M862.5 604.5h0M804.5 568h0M806 592h0M877 597.5h0M849 579h0M799 610h0M907.5 559.5h0M869.5 545.5h0M859 581h0M877 601.5h0M889.5 587h0M898.5 566h0M886 560h0M817 563h0M831.5 571h0M916 567.5h0M930.5 553.5h0M877.5 615.5h0M886.5 604.5h0M818 582h0M809.5 570.5h0M882 602h0M922.5 578.5h0M911 566.5h0M838 641.5h0M858.5 555.5h0M859 621.5h0M930 629h0M815.5 603.5h0M919 569h0M912 628.5h0M883.5 593h0M923.5 573.5h0M848.5 579.5h0M817 651h0M886 525.5h0M933.5 549.5h0M885 581h0M871 587.5h0M916 576h0M856 586.5h0M811 588.5h0M833.5 603h0M873.5 593h0M838.5 600.5h0M825 557.5h0M924.5 579.5h0M831.5 586.5h0M888.5 579.5h0M804.5 576h0M923.5 583h0M884 580h0M875 642.5h0M920.5 546.5h0M801.5 570.5h0M821 546.5h0M803.5 582.5h0M910 638h0M915.5 583h0M813.5 544.5h0M925.5 561h0M879 570h0M921.5 566h0M808.5 609.5h0M919 597.5h0M888 595.5h0M916 592h0M886 620h0M891.5 589h0M822.5 583.5h0M797.5 553.5h0M923.5 563.5h0M845.5 573.5h0M878 609.5h0M920 636.5h0M877 585.5h0M855.5 568.5h0M915 572.5h0M912.5 611h0M863 555h0M812 587h0M826 601h0M823 594h0M806 565h0M810 590.5h0M888.5 613h0M875 615h0M873.5 590.5h0M858 568.5h0M828.5 602h0M867 558.5h0M805.5 588h0M825.5 587h0M868.5 574.5h0M888.5 575h0M842.5 578.5h0M879 564.5h0M798 604h0M900.5 589h0M925.5 585.5h0M916 554.5h0M823.5 544h0M877 629.5h0M846 610h0M842.5 569h0M807.5 578h0M857.5 617.5h0M797 581h0M812 584h0M857.5 610h0M802.5 596h0M884 590h0M890 587h0M860 579h0M869.5 602h0M802.5 566.5h0M914 618.5h0M888 589h0M918.5 570h0M836 610.5h0M801 600h0M805 613.5h0M899.5 569h0M914 610.5h0M919.5 572.5h0M867 586.5h0M927 576.5h0M821.5 560h0M868 531h0M919 585h0M848 551.5h0M871.5 599.5h0M810.5 585.5h0M921 568h0M873.5 572h0M824 603.5h0M900.5 594.5h0M924.5 579h0M871 586h0M907.5 586.5h0M923 581.5h0M897.5 618.5h0M814.5 570h0M889 597.5h0M921.5 556h0M859.5 552h0M900 598.5h0M819.5 544h0M829 589.5h0M842.5 562h0M906 587.5h0M932.5 600.5h0M896.5 568h0M801.5 602h0M869.5 598h0M844.5 562h0M847.5 580.5h0M921 555h0M837 624h0M859 592h0M845.5 565.5h0M916.5 574h0M902 566h0M842.5 566h0M816.5 627h0M898 552.5h0M914.5 575h0M929 601.5h0M846.5 572.5h0M844.5 594.5h0M801.5 585.5h0M893.5 560h0M807.5 561h0M855.5 605.5h0M891 543.5h0M878.5 549.5h0M835 590h0M829.5 565.5h0M932 588h0M874.5 628h0M896.5 554h0M881 594h0M929.5 562h0M857.5 618.5h0M848.5 631h0M808 599h0M878 561h0M974.5 563h0M956.5 604h0M965 567h0M969.5 623.5h0M951 633h0M962.5 614h0M949 610.5h0M975.5 578.5h0M966.5 599.5h0M945 615h0M964.5 612.5h0M974.5 579.5h0M951.5 591.5h0M962 595.5h0M950 583.5h0M951.5 585h0M973.5 656.5h0M938 566.5h0M934.5 642.5h0M944 590h0M957 606h0M960.5 603.5h0M940 626h0M965 629.5h0M962.5 610h0M955.5 581h0M954 574.5h0M957 572h0M962 531h0M972 574h0M959 566.5h0M941 584.5h0M973.5 576.5h0M976.5 564.5h0M943.5 609.5h0M958 564h0M975 622.5h0M940.5 585h0M938.5 614.5h0M946.5 586.5h0M957.5 569.5h0M955.5 581.5h0M975 618.5h0M950 591.5h0M953 590h0M954.5 584h0M976.5 573.5h0M967.5 563.5h0M960.5 571.5h0M963 573h0M974 547.5h0M954 567h0M956 640h0M935.5 600.5h0M940.5 596.5h0M962.5 609.5h0M952.5 569h0M947 596.5h0M972 585.5h0M959.5 599h0M936 615h0M960.5 579h0M939 601.5h0M955 600.5h0M946.5 611h0M940 595h0M950.5 590.5h0M957.5 588.5h0M959 606h0M946.5 590.5h0M968 568h0M954 594h0M935 591h0M958 566.5h0M956 580.5h0M937.5 566h0M969 581.5h0M945 558.5h0M953 586.5h0M957.5 541.5h0M937 595h0M955 579h0M957 550h0M984 567.5h0M983.5 600h0M983.5 599h0M983 543.5h0M984 551.5h0M983.5 572.5h0M984.5 588h0M984.5 528h0M984 571.5h0M984 608.5h0M1014.5 623h0M1026.5 604h0M1044 610.5h0M1030 580.5h0M1047.5 572.5h0M1038 596h0M1057 565.5h0M1060.5 580.5h0M1006.5 629h0M1018.5 596.5h0M1004.5 574.5h0M1044.5 604h0M1027 584.5h0M1055.5 594.5h0M1022.5 571h0M1041 557h0M1027 583h0M1044 560h0M999 584.5h0M997 599h0M1044.5 572.5h0M1008 580h0M994.5 562h0M994.5 558.5h0M1057 546.5h0M993 563.5h0M1030.5 585h0M986 559h0M1046 575h0M1018.5 582h0M1037 596.5h0M1025.5 545.5h0M1029 586h0M1039.5 581.5h0M1046 611h0M1045 561h0M994.5 601.5h0M990 556h0M1005 608h0M994.5 544h0M1044.5 539.5h0M1034.5 621h0M1034 573.5h0M1011 604.5h0M1063 572.5h0M992.5 601.5h0M1059.5 618.5h0M1041.5 634h0M992.5 649.5h0M1045 605.5h0M1016 567.5h0M1045 583h0M987 595h0M1058 575h0M1036 573.5h0M1031 614h0M994.5 581.5h0M1027 527h0M1053 576.5h0M998 562.5h0M1014.5 534h0M998 613h0M991 577.5h0M1026 597h0M995.5 588.5h0M1062.5 581.5h0M1049.5 576.5h0M1058.5 592.5h0M1023 582.5h0M1063.5 599.5h0M1037 538.5h0M1025 635.5h0M1026.5 573h0M1007 588h0M1030 588.5h0M997.5 571.5h0M1022 604.5h0M1041 596.5h0M986 613h0M1041 558h0M1038.5 583h0M992.5 564h0M1064.5 536h0M1029 558.5h0M1045 587h0M1061.5 612.5h0M1006 643.5h0M1014.5 613h0M1046.5 583h0M1007 591.5h0M1058 585h0M1014.5 568.5h0M1026.5 598h0M1025 589.5h0M1036.5 590h0M1055.5 633.5h0M1050.5 594h0M1021.5 542.5h0M995.5 600.5h0M1028 575h0M1003 564h0M1060 585.5h0M992 576h0M1004 602h0M1056 564.5h0M1058 550.5h0M986 604.5h0M1037.5 563.5h0M1045 566h0M1000 616h0M1008.5 557.5h0M985.5 613h0M1010.5 593.5h0M1026.5 550.5h0M1046 586h0M999 572h0M1045.5 581.5h0M1027.5 605.5h0M994.5 566h0M997 632.5h0M1031.5 579h0M1011 541.5h0M1006 633h0M1000 633h0M1035 613h0M1004.5 627.5h0M1053 562.5h0M988.5 592h0M994.5 562.5h0M1002 627.5h0M1058.5 573h0M1028 587h0M1033.5 597h0M1052.5 606h0M1028 590h0M1018.5 610.5h0M1023.5 642h0M1000 627.5h0M1044.5 597h0M1007 654h0M1048.5 584.5h0M1019.5 588.5h0M1031.5 569.5h0M1009 574h0M1015.5 587.5h0M1007.5 614.5h0M1026.5 587.5h0M1059 598h0M1004.5 568h0M1019 576.5h0M1098 554.5h0M1103.5 607.5h0M1088 558.5h0M1066 567.5h0M1096.5 595h0M1075 596.5h0M1075 596h0M1099.5 545h0M1094 578.5h0M1081 634h0M1074 575h0M1093.5 553.5h0M1091.5 585h0M1067.5 571.5h0M1106.5 574h0M1075.5 590.5h0M1069.5 568h0M1069.5 592.5h0M1076.5 637.5h0M1091 572h0M1092 558h0M1086 611.5h0M1071.5 581.5h0M1078.5 643h0M1103 580h0M1097.5 589h0M1082 548h0M1082 597.5h0M1103 586.5h0M1070.5 535.5h0M1105 599.5h0M1065.5 568.5h0M1099.5 606.5h0M1066.5 612h0M1097.5 582.5h0M1101.5 590h0M1073 587.5h0M1086.5 544h0M1089.5 581.5h0M1102.5 657.5h0M1098.5 588.5h0M1090.5 586h0M1074 600h0M1075 583.5h0M1094 548.5h0M1093.5 561.5h0M1105 549h0M1067.5 574h0M1089.5 533h0M1099 614.5h0M1083 569.5h0M1095.5 596h0M1089 548.5h0M1102 578.5h0M1074.5 570h0M1096 608h0M1073.5 573h0M1068 550.5h0M1101 583.5h0M1087 593h0M1070.5 606.5h0M1068.5 543h0M1098 558h0M1093.5 550h0M1087 583h0M1071.5 587.5h0M1098.5 569h0M1084 561.5h0M1071.5 587h0M1098.5 596h0M1095.5 579h0M1076 612.5h0M1093.5 617.5h0M1069 636.5h0M1083.5 597h0M1106 593.5h0M1107.5 576h0M1084.5 601.5h0M1101.5 588.5h0M1068 616h0M1088.5 576.5h0M1077.5 581.5h0M1070 566h0M1088.5 560h0M1092 554h0M1102.5 596h0M1104.5 606.5h0M1092 584.5h0M1172 593.5h0M1124 590.5h0M1156.5 602h0M1156.5 647h0M1125.5 575.5h0M1149.5 575h0M1133 587.5h0M1121 604h0M1145 577h0M1150 576h0M1163 593.5h0M1158.5 561.5h0M1180.5 570.5h0M1135.5 562.5h0M1146 546.5h0M1132 591h0M1125 584.5h0M1120 602h0M1124.5 585h0M1174 563.5h0M1150 576h0M1154 542.5h0M1159 640h0M1181.5 615.5h0M1181.5 594h0M1148.5 563.5h0M1127.5 574h0M1140.5 549.5h0M1118 555.5h0M1130.5 605.5h0M1176.5 608h0M1169.5 561.5h0M1169.5 617h0M1117.5 566h0M1166.5 544h0M1175.5 588h0M1142.5 577h0M1135.5 621.5h0M1184.5 591.5h0M1115 636.5h0M1171 569h0M1152.5 573h0M1121 666.5h0M1162.5 558.5h0M1148.5 606h0M1178.5 581h0M1162.5 563.5h0M1157 607.5h0M1129 619.5h0M1128.5 606.5h0M1131 606h0M1119.5 551.5h0M1184.5 589h0M1114.5 626h0M1115.5 620.5h0M1167 541h0M1177 569h0M1117 619h0M1147.5 595h0M1173.5 619h0M1164 569.5h0M1120.5 575.5h0M1115 619.5h0M1181.5 584h0M1181 572h0M1118.5 588.5h0M1144 584h0M1160.5 555.5h0M1163.5 604.5h0M1124 589.5h0M1186 636.5h0M1151.5 595.5h0M1133 594.5h0M1117.5 550h0M1153 575.5h0M1168 608h0M1169 585.5h0M1153.5 577h0M1173.5 552h0M1119 581h0M1120 598.5h0M1175.5 572h0M1153 627h0M1182 571h0M1158 625h0M1185 585h0M1153 625h0M1157.5 603h0M1160 600.5h0M1181 585.5h0M1173.5 542.5h0M1149.5 568.5h0M1131.5 572.5h0M1179.5 559.5h0M1184 651.5h0M1182.5 562h0M1172 561.5h0M1147.5 573.5h0M1130 620.5h0M1147.5 574h0M1173.5 546h0M1131.5 592.5h0M1117 647h0M1155.5 586h0M1135 603h0M1178 601h0M1183.5 570h0M1121 576.5h0M1130.5 614.5h0M1182.5 564h0M1166 604.5h0M1124.5 584.5h0M1181 579.5h0M1184.5 602.5h0M1132 591.5h0M1129 595h0M1150.5 571.5h0M1169 558h0M1145 580.5h0M1138.5 564.5h0M1150.5 595h0M1141 570h0M1143.5 557h0M1131 568.5h0M1170 579.5h0M1117.5 561h0M1116 569.5h0M1181.5 580.5h0M1145.5 583h0M1137 615h0M1132 562.5h0M1139 572h0M1139 632h0M1140 559h0M1151.5 555h0M1150 612.5h0M1122.5 622h0M1145.5 592.5h0M1174.5 550h0M1133 602h0M1144 567h0M1115.5 623.5h0M1116 606.5h0M1179.5 592.5h0M1165 563h0M1139.5 547h0M1145.5 592h0M1162.5 573h0M1185.5 613.5h0M1147 548.5h0M1131.5 585.5h0M1145 573.5h0M1176 585h0M1121.5 618.5h0M1149 579.5h0M1171 611h0M1179.5 595h0M1129 591h0M1247 575h0M1255.5 610.5h0M1193.5 628h0M1204.5 610h0M1242 641.5h0M1193.5 649.5h0M1204 614h0M1295 570.5h0M1219 563h0M1237.5 566h0M1229 553.5h0M1253 597h0M1259.5 567.5h0M1248.5 566.5h0M1274 558h0M1261.5 558h0M1188.5 511.5h0M1250 601.5h0M1201.5 553h0M1209.5 560.5h0M1206.5 587h0M1209 627h0M1289 547h0M1234.5 559h0M1228 588.5h0M1229 585.5h0M1263 583h0M1285.5 537.5h0M1252 629.5h0M1293 573.5h0M1242.5 580h0M1210 604h0M1202.5 577h0M1273.5 605.5h0M1193 521h0M1271.5 562.5h0M1193.5 586.5h0M1232 557h0M1242.5 607h0M1207 560h0M1249 589.5h0M1261.5 598h0M1223.5 598h0M1238.5 567h0M1218 593.5h0M1196.5 627.5h0M1246.5 573h0M1204.5 535.5h0M1193.5 575h0M1243.5 581.5h0M1212 565h0M1296.5 541.5h0M1276 571h0M1192.5 565h0M1234 597.5h0M1289 602.5h0M1281.5 582.5h0M1282 592.5h0M1204 580h0M1225 597.5h0M1276 589.5h0M1256 567.5h0M1205 591.5h0M1233.5 537.5h0M1288.5 538h0M1235.5 546h0M1253.5 595.5h0M1284.5 580.5h0M1264 574h0M1250.5 588h0M1232 610h0M1198 564.5h0M1190.5 611.5h0M1275 617h0M1278 593.5h0M1224 598h0M1281.5 592h0M1220 591.5h0M1282.5 573.5h0M1218.5 566.5h0M1232.5 603.5h0M1293 548h0M1268 532h0M1216.5 591h0M1240.5 604h0M1187 549h0M1188.5 590.5h0M1241 577h0M1261 575.5h0M1246.5 620.5h0M1254.5 542.5h0M1238.5 568h0M1232.5 608.5h0M1252 619.5h0M1210.5 559.5h0M1283 595h0M1272.5 581h0M1221 563h0M1258.5 580.5h0M1246 564h0M1280.5 631h0M1274 549.5h0M1276 586.5h0M1244 565.5h0M1221.5 561h0M1234 555.5h0M1291.5 567.5h0M1284.5 583.5h0M1257.5 594.5h0M1267.5 577.5h0M1287.5 554h0M1221.5 562.5h0M1272.5 570h0M1204.5 536.5h0M1242 590.5h0M1263 579.5h0M1229 594h0M1296.5 591.5h0M1218 616h0M1249.5 572h0M1217 599h0M1272 552.5h0M1201 601h0M1192 581h0M1288.5 613h0M1221 576.5h0M1270.5 540h0M1279 574h0M1288.5 638.5h0M1191 557.5h0M1286.5 569.5h0M1217.5 580.5h0M1226.5 576h0M1220 572.5h0M1248 610h0M1275 613.5h0M1296.5 549.5h0M1199.5 644.5h0M1212.5 583h0M1297.5 572.5h0M1242.5 565h0M1293 607.5h0M1244.5 593h0M1229 611.5h0M1187 588h0M1224.5 577.5h0M1254 616.5h0M1275.5 571.5h0M1200 550.5h0M1195 565.5h0M1273 565.5h0M1188.5 638.5h0M1196.5 608h0M1228 570h0M1260.5 528.5h0M1197.5 520h0M1287.5 568h0M1200 563h0M1282.5 607h0M1244.5 550.5h0M1266.5 575.5h0M1290.5 559h0M1187.5 579h0M1196 566.5h0M1251 591h0M1267.5 574.5h0M1197.5 577.5h0M1259 598h0M1279.5 581.5h0M1291 605.5h0M1259.5 591h0M1188.5 570h0M1228 553h0M1195 619.5h0M1219.5 572h0M1282 592h0M1294 578h0M1211 571.5h0M1206 582.5h0M1285 610h0M1194.5 612.5h0M1294 592.5h0M1294.5 595h0M1247.5 563.5h0M1195 605.5h0M1274 609h0M1199 583h0M1273 587h0M1294 562h0M1246 586.5h0M1206 565h0M1259 577.5h0M1269.5 567.5h0M1187.5 627h0M1224 607h0M1288 616.5h0M1202.5 579.5h0M1249.5 607.5h0M1230.5 561h0M1278 586.5h0M1289.5 602.5h0M1263 571h0M1208.5 617.5h0M1245 571h0M1203.5 616.5h0M1247 558.5h0M1241 596h0M1237 588h0M1204.5 565.5h0M1295.5 580h0M1195 599.5h0M1252.5 575h0M1291 600.5h0M1227.5 574h0M1313 562h0M1317 596.5h0M1318 576.5h0M1298.5 541h0M1322 567h0M1316.5 576h0M1324 622.5h0M1316.5 566h0M1302.5 596h0M1328 560h0M1320 574.5h0M1317.5 593h0M1302.5 585h0M1308.5 633.5h0M1299.5 589h0M1311 599h0M1314.5 590h0M1325.5 611h0M1300.5 576h0M1304.5 641.5h0M1321 601h0M1308 622.5h0M1320 600h0M1302 602.5h0M1326 600h0M1325.5 585h0M1321 548.5h0M1307.5 603h0M1327.5 567.5h0M1316 567h0M1309 579h0M1309 586.5h0M1299.5 594h0M1319.5 630h0M1306 559h0M1304 578.5h0M1314.5 556h0M1299.5 596h0M1311.5 599h0M1308.5 599h0M1304 569.5h0M1319 594.5h0M1300 562h0M1320.5 603h0M1302.5 578.5h0M1307.5 595.5h0M1328 579h0M1304 604h0M1319.5 584h0M1305.5 561.5h0M1309 612.5h0M1303 618h0M1298.5 528h0M1328 554h0M1320 590.5h0M1309.5 580h0M1303.5 595h0M1327.5 608h0M1307 578h0M1305 569.5h0M1311.5 605h0M1309 575h0M1318.5 602.5h0M1301.5 605h0M1300 606h0M1317.5 589.5h0M1299 612h0M1305 610.5h0M1316.5 587.5h0M1306.5 584h0M1391 578.5h0M1402 547h0M1385.5 618.5h0M1390 574.5h0M1399 590h0M1373.5 583.5h0M1393.5 567.5h0M1378.5 637.5h0M1366.5 596h0M1368 624.5h0M1374.5 611.5h0M1364.5 576h0M1373.5 572h0M1361.5 645h0M1365.5 615.5h0M1374 555.5h0M1393.5 595.5h0M1376.5 588h0M1362 569.5h0M1368 597h0M1383 542.5h0M1402 563.5h0M1353.5 542.5h0M1370 579.5h0M1352.5 558.5h0M1394.5 593h0M1393 563.5h0M1372.5 557.5h0M1395 572h0M1354 607h0M1365 563h0M1392 570h0M1368.5 596.5h0M1385 561h0M1368 583h0M1369 579h0M1394 584h0M1389 632h0M1377.5 557h0M1383 581h0M1371 599.5h0M1396.5 582h0M1365.5 637h0M1388 560h0M1369 584.5h0M1388.5 531.5h0M1387.5 601h0M1383.5 602.5h0M1362 596.5h0M1368.5 553.5h0M1361 587h0M1400.5 577h0M1369 571.5h0M1381 555h0M1378.5 583.5h0M1381.5 580.5h0M1405 531.5h0M1393.5 568h0M1391.5 611.5h0M1353 589.5h0M1396 562.5h0M1394.5 573.5h0M1360.5 578.5h0M1354.5 615.5h0M1402 588.5h0M1396 612.5h0M1395.5 578.5h0M1389.5 617h0M1357.5 563h0M1393.5 570h0M1372.5 621.5h0M1368 562h0M1383.5 571.5h0M1386 583.5h0M1364.5 615h0M1394 584.5h0M1395 544.5h0M1365.5 581.5h0M1361.5 617.5h0M1361.5 575h0M1381.5 573.5h0M1388 623h0M1375 649.5h0M1383.5 560h0M1376.5 583h0M1359.5 572h0M1360.5 573h0M1374.5 640.5h0M1399.5 611h0M1390 552h0M1396 577.5h0M1368 585.5h0M1377.5 632.5h0M1392 575h0M1402 569h0M1354.5 588h0M1389 546.5h0M1402 581.5h0M1372 599h0M1372.5 571h0M1373 622h0M1356 579h0M1404 610h0M1352 575h0M1387.5 577h0M1366 579.5h0M1383.5 598.5h0M1363.5 608h0M1397 637h0M1382 595.5h0M1404 602.5h0M1362.5 621h0M1383.5 623.5h0M1352 607h0M1359 577.5h0M1367 603h0M1384.5 532.5h0M1400 612.5h0M1380.5 580.5h0M1398.5 598.5h0M1355.5 579.5h0M1392.5 607h0M1371 614.5h0M1397.5 620h0M1396 597.5h0M1352 566h0M1375.5 560h0M1360 551.5h0M1371 584h0M1381.5 565h0M1359.5 607h0M1422 591.5h0M1409 558h0M1414 580.5h0M1411 571.5h0M1425 562h0M1425.5 590.5h0M1428.5 578.5h0M1426 569h0M1415.5 560.5h0M1421 601.5h0M1422 578.5h0M1416.5 575h0M1427.5 598.5h0M1424.5 599h0M1426 633h0M1416.5 571h0M1424.5 575h0M1419.5 582.5h0M1417.5 582h0M1435.5 565.5h0M1415.5 566.5h0M1435.5 577h0M1416 625.5h0M1425.5 568.5h0M1409 595h0M1422.5 590.5h0M1417.5 559h0M1428 603.5h0M1413.5 544h0M1420 569.5h0M1427 583.5h0M1430 584.5h0M1407 571.5h0M1409.5 630h0M1432 580h0M1415.5 531.5h0M1416.5 552h0M1406.5 546.5h0M1410.5 551.5h0M1428.5 548.5h0M1420.5 553.5h0M1430 584h0M1411.5 610h0M1429 592.5h0M1414.5 588.5h0M1418 573.5h0M1407 573h0M1429 568h0M1431.5 585.5h0M1415 601.5h0M1407.5 590.5h0M1422 561h0M1416 564.5h0M1434.5 556h0M1439.5 556.5h0M1497 582.5h0M1503 573h0M1458.5 595.5h0M1448.5 563.5h0M1487.5 573.5h0M1487.5 575h0M1484 583.5h0M1505 562.5h0M1472 569h0M1476.5 655.5h0M1488 601h0M1485 600.5h0M1502.5 583.5h0M1480.5 590h0M1505.5 584.5h0M1483.5 564h0M1444 571.5h0M1472.5 647h0M1448 580.5h0M1466.5 611h0M1439.5 618.5h0M1441 581.5h0M1454.5 595h0M1451 593.5h0M1470.5 568.5h0M1473.5 556h0M1456.5 591h0M1461 596.5h0M1492.5 568h0M1468.5 619.5h0M1507.5 605h0M1503.5 628.5h0M1484.5 585h0M1461 596h0M1472 589.5h0M1452 578h0M1487 577h0M1503.5 580h0M1447.5 601.5h0M1459 613.5h0M1451 582.5h0M1495 593h0M1500.5 590h0M1466.5 597.5h0M1472 578.5h0M1492.5 581h0M1491.5 580.5h0M1449.5 572h0M1478 564h0M1486.5 590h0M1485.5 585h0M1449.5 624.5h0M1505.5 590.5h0M1480.5 575h0M1443.5 554.5h0M1491 591h0M1461 609.5h0M1443.5 594.5h0M1469 548h0M1468 602.5h0M1458.5 556.5h0M1441.5 562h0M1495.5 592.5h0M1448 603.5h0M1467.5 572h0M1472 603.5h0M1488 586h0M1464 553.5h0M1476 561.5h0M1439.5 579.5h0M1444.5 574.5h0M1499.5 612h0M1453 577h0M1497.5 611.5h0M1492 556h0M1461.5 561h0M1462 592h0M1443 640h0M1448.5 606.5h0M1444.5 590.5h0M1457 609.5h0M1450 580.5h0M1450 574.5h0M1457.5 642.5h0M1502 611.5h0M1460 615h0M1499 579h0M1496 587h0M1461 521.5h0M1495.5 570.5h0M1456.5 641h0M1494.5 604.5h0M1465 545h0M1445.5 621.5h0M1494.5 574.5h0M1506.5 551.5h0M1477 593.5h0M1492 609h0M1475.5 581.5h0M1480.5 616.5h0M1441 566.5h0M1500.5 618.5h0M1454.5 577h0M1506 611.5h0M1454.5 604.5h0M1487.5 574h0M1497.5 586.5h0M1481.5 576h0M1457.5 563.5h0M1488.5 530.5h0M1489.5 599.5h0M1504 586h0M1509 605h0M1484.5 571h0M1465.5 570h0M1487.5 596.5h0M1454.5 562.5h0M1441 585h0M1502.5 565.5h0M1508 604h0M1461.5 539.5h0M1474.5 583h0M1447.5 554h0M1495 614h0M1442 616h0M1502 605h0M1442 575h0M1483 565h0M1490.5 577.5h0M1484.5 583h0M1463.5 528.5h0M1481 595.5h0M1508 575.5h0M1457 585.5h0M1451.5 574h0M1484.5 544h0M1499 594.5h0M1601.5 585h0M1561.5 591.5h0M1559 594.5h0M1553.5 582.5h0M1533.5 591.5h0M1568 573h0M1523 586h0M1512 588.5h0M1609.5 587h0M1521 559.5h0M1546 615h0M1557 550h0M1579.5 556h0M1583.5 581.5h0M1551.5 570h0M1532.5 598.5h0M1573 567.5h0M1574 609h0M1586.5 560h0M1561 581.5h0M1533.5 610.5h0M1581 583.5h0M1524 576.5h0M1608 599h0M1536.5 606h0M1522.5 564.5h0M1605.5 594.5h0M1587 581h0M1596 649h0M1601 579.5h0M1604 556.5h0M1526 596h0M1559.5 570.5h0M1530.5 584h0M1554 591.5h0M1606.5 621h0M1611 613h0M1590.5 582h0M1580 526.5h0M1582 590h0M1585 602.5h0M1582 586h0M1611.5 576h0M1544 631h0M1516.5 597.5h0M1556.5 591.5h0M1590 604.5h0M1552.5 587.5h0M1552.5 590h0M1539 595.5h0M1578 580h0M1604 565.5h0M1557.5 594.5h0M1601 611.5h0M1566 571h0M1610 542.5h0M1559 588.5h0M1588 555h0M1548.5 527h0M1561.5 620.5h0M1544.5 567h0M1575 613.5h0M1580 613h0M1568 578h0M1523.5 581.5h0M1592.5 603.5h0M1538.5 598.5h0M1512 581h0M1517 568h0M1587.5 544.5h0M1608.5 614.5h0M1575.5 578h0M1523 592h0M1536 558h0M1574 589h0M1516 610.5h0M1533 577.5h0M1540.5 562.5h0M1598 588.5h0M1591.5 607h0M1561.5 557h0M1536 603.5h0M1608 567h0M1599 583h0M1579.5 632h0M1603 560h0M1588.5 548.5h0M1532.5 598.5h0M1569 640.5h0M1586.5 572.5h0M1569.5 648h0M1526.5 583.5h0M1522 586.5h0M1520 597h0M1585 569.5h0M1611 573h0M1537 593h0M1553 640h0M1513 581.5h0M1581.5 577h0M1583.5 551.5h0M1596 605.5h0M1514.5 583.5h0M1556 586.5h0M1538.5 604h0M1552 574h0M1528.5 574.5h0M1519.5 574.5h0M1515 569h0M1596.5 592.5h0M1528.5 601h0M1517 546h0M1510.5 589.5h0M1593 628h0M1515.5 579h0M1600.5 611.5h0M1545 608h0M1519.5 557.5h0M1560 571.5h0M1571.5 639.5h0M1556.5 581h0M1520 599.5h0M1571 596h0M1532 590.5h0M1517 608h0M1512 610h0M1581.5 556h0M1563.5 582.5h0M1510.5 579h0M1510 579h0M1532.5 582.5h0M1548 596h0M1510 586.5h0M1563.5 606h0M1529.5 608.5h0M1568.5 578.5h0M1602.5 602.5h0M1521.5 569.5h0M1517.5 594h0M1609 580.5h0M1537.5 633h0M1520 589h0M1588.5 592h0M1522.5 609.5h0M1527 579h0M1586.5 576h0M1576 601.5h0M1567 596.5h0M1586 550.5h0M1527 637h0M1513 574.5h0M1530 580h0M1589.5 567h0M1539.5 650h0M1573 551.5h0M1545 563.5h0M1512.5 602.5h0M1584 595.5h0M1548 556.5h0M1547.5 565h0M1560 585h0M1604 601.5h0M1540.5 606h0M1540.5 562.5h0M1520.5 589h0M1543 558.5h0M1562 548.5h0M1530 571h0M1576 582.5h0M1557.5 573h0M1551.5 586.5h0M1573 573.5h0M1511 568.5h0M1563.5 544.5h0M1571 578h0M1516.5 555h0M1566.5 633.5h0M1608.5 587.5h0M1526.5 570.5h0M1515 589.5h0M1546.5 573.5h0M1559 587.5h0M1549.5 615.5h0M1547.5 580h0M1592 566h0M1537.5 572h0M1607 612h0M1518.5 590h0M1606 623.5h0M1527.5 555h0M1594 591.5h0M1546.5 598h0M1565 619.5h0M1511 578h0M1544 602h0M1596 582.5h0M1596.5 569h0M1540.5 616h0M1543 594h0M1552 592.5h0M1580.5 628h0M1598.5 563h0M1553 555h0M1568 610h0M1597 610h0M1510 620.5h0M1616 604h0M1631.5 563.5h0M1630 598h0M1634.5 585.5h0M1629 565.5h0M1619 560h0M1635.5 611h0M1621 588.5h0M1638.5 559.5h0M1619 562.5h0M1635.5 604h0M1622 595.5h0M1632.5 552.5h0M1624.5 568h0M1626 601h0M1616 625h0M1625.5 544h0M1636 618.5h0M1631.5 586h0M1613 597.5h0M1635 562h0M1633 622h0M1626 640.5h0M1625 609h0M1618.5 559.5h0M1621.5 620h0M1631.5 632.5h0M1633.5 587.5h0M1623.5 566h0M1635 551h0M1623.5 580h0M1615.5 655h0M1638.5 573.5h0M1638 608h0M1638 581.5h0M1634.5 576h0M1617 557h0M1613.5 531h0M1627 543h0M1617.5 587.5h0M1637 589.5h0M1630 585.5h0M1631 608h0M1629 587.5h0M1632.5 596h0M1655 562h0M1682 630h0M1642.5 625h0M1663 616h0M1688 544h0M1681.5 564h0M1643 577.5h0M1666 584h0M1687 587h0M1675.5 600h0M1700 585h0M1687.5 561h0M1706 609.5h0M1648 626.5h0M1650.5 577.5h0M1711 556.5h0M1668.5 607.5h0M1645 584h0M1664 580h0M1695.5 598h0M1703.5 626h0M1643.5 593.5h0M1683.5 586h0M1663 584h0M1664 573.5h0M1647.5 579.5h0M1664.5 572h0M1646.5 584h0M1708.5 589h0M1707 531.5h0M1685 598.5h0M1698 567h0M1661.5 574.5h0M1696 600.5h0M1670 589.5h0M1661.5 594h0M1677.5 600.5h0M1681.5 630h0M1690 586h0M1692 594.5h0M1696.5 619.5h0M1699 592h0M1698 580h0M1673 605.5h0M1697.5 615.5h0M1669 573.5h0M1657 533.5h0M1676.5 587h0M1674 584.5h0M1667.5 574.5h0M1681 609h0M1695.5 575h0M1680 577.5h0M1676.5 546h0M1645.5 610.5h0M1661.5 601h0M1647 593h0M1651.5 542.5h0M1687 582.5h0M1675 601.5h0M1699 578h0M1676 562h0M1644.5 564h0M1664.5 584.5h0M1655.5 638h0M1644.5 567h0M1665.5 597h0M1705 589h0M1664.5 598h0M1685 591h0M1651.5 617.5h0M1710.5 569.5h0M1655 597.5h0M1649.5 612h0M1684.5 578.5h0M1700.5 591h0M1694.5 556h0M1689 553h0M1688.5 578.5h0M1698.5 610h0M1694 604.5h0M1679.5 611.5h0M1686 595.5h0M1687 609h0M1682.5 610h0M1704 545h0M1679.5 584h0M1701 549h0M1675 596.5h0M1678 599h0M1689.5 579.5h0M1696.5 591h0M1683.5 567.5h0M1702 627.5h0M1669.5 543.5h0M1668.5 606.5h0M1693.5 597.5h0M1696.5 575h0M1711.5 595.5h0M1673 578h0M1698 582h0M1704.5 535h0M1696 574.5h0M1674 604h0M1642.5 562.5h0M1689.5 582h0M1671 599h0M1674.5 595.5h0M1647.5 580.5h0M1650.5 612h0M1692.5 553.5h0M1668.5 578.5h0M1705 636h0M1657.5 645.5h0M1663 625h0M1656 563.5h0M1705.5 644.5h0M1682 631.5h0M1676.5 570.5h0M1658.5 617.5h0M1712 534h0M1665 576.5h0M1646 583h0M1648 575h0M1648 609.5h0M1698 564h0M1704.5 600h0M1650.5 619h0M1655 623.5h0M1675.5 629h0M1682 601h0M1656.5 582.5h0M1657.5 611.5h0M1645 571h0M1647 606h0M1645 585h0M1667.5 562h0M1681.5 593.5h0M1670.5 589h0M1661 567h0M1744 539h0M1766 575h0M1798.5 537.5h0M1783 611h0M1761.5 546h0M1752.5 562.5h0M1790.5 625h0M1800.5 591h0M1758 518.5h0M1792.5 582.5h0M1760.5 580h0M1750 597.5h0M1750.5 575.5h0M1796.5 577.5h0M1732 572h0M1801 566h0M1775 560.5h0M1768.5 588h0M1756.5 587h0M1741.5 542.5h0M1777 593.5h0M1797.5 561.5h0M1782.5 603h0M1734 568h0M1764.5 539h0M1774.5 528.5h0M1765 559.5h0M1772.5 600.5h0M1732 577.5h0M1752 546h0M1783.5 600h0M1774 576.5h0M1745 560.5h0M1748 544h0M1790 555.5h0M1736 601h0M1797.5 567h0M1743.5 614h0M1765 602.5h0M1732 584.5h0M1749.5 616.5h0M1737 625.5h0M1759.5 549h0M1750.5 616.5h0M1797 581.5h0M1775.5 611h0M1772.5 577.5h0M1791 579.5h0M1732.5 519h0M1737 616h0M1769.5 607h0M1743.5 556.5h0M1753 567.5h0M1754.5 592.5h0M1791.5 553.5h0M1738 611.5h0M1742 593.5h0M1774.5 596h0M1775 595.5h0M1778.5 607h0M1778 614.5h0M1760.5 552.5h0M1734 620.5h0M1758.5 563h0M1797 562.5h0M1767 563.5h0M1746.5 575h0M1740.5 587.5h0M1758.5 586.5h0M1798.5 592h0M1770 555.5h0M1789.5 600h0M1754.5 600.5h0M1784 638h0M1753.5 574.5h0M1799 607.5h0M1780 587.5h0M1739.5 577.5h0M1798 575.5h0M1767.5 592h0M1784 645.5h0M1796 581h0M1785.5 590.5h0M1766 586h0M1761 543.5h0M1751 563h0M1736.5 599h0M1789.5 587.5h0M1757.5 609h0M1751.5 591.5h0M1782 571.5h0M1762 549h0M1775.5 581.5h0M1799.5 592.5h0M1773.5 599.5h0M1749 542.5h0M1770.5 571.5h0M1782.5 565h0M1739.5 560.5h0M1748.5 604h0M1766.5 549.5h0M1750 589h0M1745 582h0M1799 572h0M1788.5 571.5h0M1755 589h0M1793 596.5h0M1771 571.5h0M1793.5 584.5h0M1801 596h0M1777 599h0M1782 596h0M1735.5 565.5h0M1755.5 519h0M1785 575.5h0M1776 596h0M1744 569h0M1750 548.5h0M1782.5 585.5h0M1796.5 613.5h0M1800 584.5h0M1792 583h0M1748.5 577h0M1767.5 581h0M1754.5 566.5h0M1779.5 597.5h0M1737.5 603h0M1775 556h0M1781.5 552h0M1767 557h0M1778.5 540.5h0M1756.5 550.5h0M1785.5 575h0M1740 598.5h0M1758 552h0M1735 594h0M1801 587.5h0M1754.5 562h0M1737 580h0M1752 605h0M1735.5 601.5h0M1740.5 628.5h0M1785 570.5h0M1792 620h0M1794 567.5h0M1773 591h0M1750 564h0M1774.5 571h0M1734 589.5h0M1784.5 579.5h0M1749 584.5h0M1773.5 541.5h0M1755 554h0M1800.5 595h0M1790.5 548.5h0M1788.5 597.5h0M1773 572h0M1741.5 562.5h0M1801 595.5h0M1740 600.5h0M1783.5 568.5h0M1754.5 589h0M1796.5 578h0M1742 548h0M1755 554h0M1750.5 564h0M1758 546.5h0M1756 622.5h0M1741.5 576h0M1795 569.5h0M1783.5 596.5h0M1756.5 553h0M1783 562.5h0M1766.5 576.5h0M1836 603h0M1859.5 618h0M1831 606.5h0M1869.5 553h0M1851.5 584.5h0M1840 575.5h0M1839.5 591h0M1825.5 611.5h0M1844 602.5h0M1855 556h0M1862.5 589h0M1850 534.5h0M1867 568h0M1865.5 597h0M1845.5 580h0M1827.5 595h0M1855.5 624h0M1820.5 636.5h0M1875 552h0M1836.5 595h0M1850 550h0M1875.5 607.5h0M1852.5 663h0M1864.5 548.5h0M1834 561h0M1861 591.5h0M1823.5 574.5h0M1826.5 611.5h0M1849 644h0M1832 615h0M1840.5 605h0M1879 564.5h0M1832.5 581.5h0M1822.5 603.5h0M1837 599.5h0M1878 572.5h0M1871.5 573h0M1862.5 586h0M1877 604.5h0M1852 600.5h0M1844.5 604.5h0M1823 615h0M1865 551h0M1836 628.5h0M1837 589h0M1833 573h0M1834 586.5h0M1838 586.5h0M1824 578h0M1835 599.5h0M1850 577.5h0M1873.5 563h0M1878 560.5h0M1833.5 593h0M1855.5 560.5h0M1838 607.5h0M1828.5 592h0M1843.5 587h0M1867 576h0M1845.5 605h0M1820 545.5h0M1863.5 587h0M1837 545.5h0M1857 601h0M1847.5 545h0M1864.5 568.5h0M1828 600.5h0M1864 592h0M1850 633.5h0M1879 579.5h0M1862.5 579h0M1860.5 583.5h0M1833.5 594h0M1839 548h0M1867 576h0M1857.5 606h0M1857 587.5h0M1875.5 621h0M1860 618h0M1848.5 627h0M1825 596h0M1843.5 573.5h0M1879 545.5h0M1871.5 599.5h0M1871 574h0M1861 607h0M1864.5 568h0M1847 600h0M1821.5 620.5h0M1877.5 583h0M1824.5 555h0M1822 605h0M1843 570.5h0M1879 636.5h0M1851.5 623h0M1862 554h0M1865.5 595.5h0M1847.5 540.5h0M1840.5 590h0M1864.5 581.5h0M1880 536h0M1868.5 627.5h0M1823 578.5h0M1880.5 583h0M1867.5 591h0M1832.5 556.5h0M1864.5 587h0M1830 579h0M1878 579.5h0M1843 586.5h0M1874 586h0M1854 560h0M1841.5 597h0M1820.5 608h0M1858.5 619h0M1865 598.5h0M1827 533.5h0M1865.5 589.5h0M1864 534.5h0M1850 612.5h0M1832 592.5h0M1870 629.5h0M1826.5 594h0M1841.5 595h0M1867 584h0M1864.5 561.5h0M1822.5 566h0M1858.5 621.5h0M1879 642.5h0M1834.5 580.5h0M1836 598.5h0M1829 562.5h0M1840 564.5h0M1840.5 593.5h0M1833 587h0M1929 573h0M1941 595.5h0M1941 590h0M1938.5 586.5h0M1937 580h0M1909 580.5h0M1927.5 579h0M1941 521h0M1918 590.5h0M1949.5 578h0M1919.5 618h0M1959.5 575.5h0M1933.5 543h0M1960.5 583h0M1941.5 553h0M1960 582h0M1916.5 652.5h0M1950.5 616.5h0M1939 527.5h0M1936.5 605h0M1932 583h0M1919.5 571h0M1947 533h0M1908.5 623h0M1946.5 552.5h0M1937.5 624h0M1936.5 523h0M1923 574.5h0M1907 567.5h0M1963 641h0M1917.5 588h0M1935.5 601h0M1957.5 593h0M1957 612.5h0M1952 600.5h0M1904 555.5h0M1926.5 541.5h0M1937 585h0M1933 597.5h0M1937.5 544h0M1912.5 621h0M1941 631.5h0M1915.5 584h0M1952.5 593h0M1918.5 611.5h0M1915 605.5h0M1939.5 607h0M1942 590.5h0M1953.5 581.5h0M1945 562h0M1913 590h0M1916 598.5h0M1958.5 577.5h0M1954 605h0M1931.5 558h0M1904.5 572h0M1911 559h0M1939.5 587h0M1943.5 577h0M1944 584.5h0M1912 565.5h0M1942.5 606.5h0M1923 560.5h0M1904.5 584h0M1947 584h0M1922 624h0M1922 594h0M1922 601.5h0M1936.5 570.5h0M1926.5 607.5h0M1905.5 593h0M1939 579h0M1943.5 573.5h0M1913.5 580h0M1906 591h0M1941.5 573h0M1918.5 603.5h0M1904.5 556.5h0M1920.5 528.5h0M1913.5 554.5h0M1904.5 610.5h0M1915.5 541.5h0M1917.5 608h0M1918.5 599h0M1945.5 531h0M1954 558.5h0M1945 517.5h0M1940 568.5h0M1956 588.5h0M1961.5 581h0M1933 608h0M1950.5 582.5h0M1920 559.5h0M1932 579h0M1914 607.5h0M1909 605h0M1918.5 549h0M1945.5 593.5h0M1909.5 639h0M1945 618.5h0M1947 549.5h0M1916 550h0M1929 563h0M1955.5 576h0M1923 590h0M1955 601h0M1907 558.5h0M1941.5 574.5h0M1947 581h0M1934.5 602.5h0M1944.5 573.5h0M1935 596h0M1930 605.5h0M1929.5 581h0M1957.5 614h0M1926 593.5h0M1922.5 551.5h0M1910.5 617.5h0M1905 599.5h0M1913.5 567.5h0M1960.5 596h0M1949.5 584.5h0M1903.5 570.5h0M1919.5 528h0M1955 586h0M1921 569h0M1958 592h0M1909 611h0M1905 563.5h0M1932 588.5h0M1934.5 571h0M1959.5 608.5h0M1953 628.5h0M1957.5 582.5h0M1948 583h0M1950.5 601h0M1958.5 565h0M1904 576.5h0M1962.5 572h0M1923 585h0M1904.5 570.5h0M1929.5 531.5h0M1921 566.5h0M1944 572h0M1983.5 645.5h0M1970 641h0M1979.5 609h0M1977.5 561.5h0M1965 575h0M1974 566.5h0M1980.5 575.5h0M1972.5 572.5h0M1973.5 613.5h0M1970.5 618h0M1972.5 580.5h0M1980.5 669.5h0M1988 612.5h0M1987 613.5h0M1979 598h0M1974 585.5h0M1969 594h0M1979 605h0M1985.5 602h0M1970 648.5h0M1973.5 596h0M1977.5 594h0M1988 603h0M1964.5 626h0M1965.5 578.5h0M1966.5 614.5h0M1970 579.5h0M1979 615.5h0M1985 563.5h0M1983.5 559.5h0M1985 601.5h0M1979 596h0M1986 608h0M1983.5 668.5h0M1980.5 631.5h0M1980 604h0M1977.5 542.5h0M1985.5 551h0M1968.5 602.5h0M1972 572.5h0M1975 627h0M1975 647h0M1985 601h0M1969.5 624h0M1969 608.5h0M1976.5 580h0M1965.5 590.5h0M1983.5 607h0M1988 649.5h0M1973.5 588h0M1977.5 565.5h0M1966 583.5h0M1973 586h0M1986.5 555.5h0M1986 581.5h0M1980 573h0M1969 605h0M1981 596h0M1969 614.5h0M1987 611.5h0M1974.5 542.5h0M1969.5 599.5h0M1986 632h0M1964.5 562h0M1986 550h0M2002.5 609h0M2005 582h0M2028.5 584.5h0M2028.5 582h0M2003 634.5h0M2027.5 585.5h0M2002 615h0M2028.5 606h0M2020 599.5h0M2018.5 615.5h0M2006.5 576h0M2014 604.5h0M2002.5 623h0M2018 616h0M2029 585.5h0M1999.5 571.5h0M2022.5 609.5h0M2019.5 620h0M2027 601h0M2022 607.5h0M2015 589.5h0M2004 568h0M2032 581.5h0M2032 592h0M2004 588.5h0M2001.5 649h0M2016 584h0M2029.5 591.5h0M2020.5 596h0M2010 608h0M2013 625.5h0M2010.5 597.5h0M2028 574.5h0M2026.5 647h0M2027.5 578h0M2022.5 587.5h0M2027.5 585.5h0M2010 570h0M2026 572.5h0M2013.5 588h0M2001.5 565h0M2030 597h0M2006 575h0M2017.5 631h0M2026 604h0M2029 573h0M2026 626.5h0M2025.5 538.5h0M2031.5 672.5h0M2018 624.5h0M2017 629.5h0M2011 599h0M2007.5 593h0M2010 661h0M1999.5 618h0M2013 590h0M2021.5 576h0M2028.5 640h0M2000 599h0M1999.5 591h0M2000.5 564h0M2028.5 562h0M2015.5 573h0M2030.5 615.5h0M2007 624.5h0M2036 566h0M2049.5 628.5h0M2041 591.5h0M2047 538.5h0M2035.5 639h0M2047 590h0M2048 606.5h0M2035 628h0M2048.5 539h0M2034.5 619.5h0M2048 622.5h0M2034 599h0M2034.5 594h0M2036.5 622.5h0M2033 560h0M2036 648h0M2041.5 579.5h0M2033 678h0M2042.5 607h0M2038 641.5h0M2033 575h0M2040.5 594.5h0M2038.5 584.5h0M2034 595.5h0M2043 591h0M2036 600h0M2044.5 664h0M2044.5 611.5h0M2048 608h0M2048.5 636h0M2032.5 584.5h0M2035 554h0M2079.5 584h0M2093 581h0M2054 614.5h0M2070 596h0M2067 563h0M2078 524h0M2080 598.5h0M2066.5 616.5h0M2080 621.5h0M2061 639h0M2063 594h0M2077.5 650.5h0M2087 636.5h0M2053 611h0M2071 552.5h0M2091.5 605h0M2094 630.5h0M2079 628h0M2082 598.5h0M2083.5 599.5h0M2089.5 545.5h0M2072.5 645h0M2058.5 612.5h0M2065.5 607.5h0M2061 534.5h0M2088 568h0M2064.5 591h0M2057.5 613h0M2053.5 600h0M2073 617h0M2073 622h0M2064.5 616h0M2086.5 574h0M2091.5 586h0M2068 641h0M2089 596h0M2093 606h0M2060.5 581.5h0M2051.5 622h0M2054.5 631h0M2071 554h0M2055.5 544h0M2093.5 635h0M2087.5 586.5h0M2072 555.5h0M2086 589.5h0M2068 608.5h0M2087.5 584.5h0M2079 562h0M2060 581h0M2083.5 584.5h0M2065.5 579.5h0M2059 593h0M2083 665.5h0M2050.5 596h0M2081 601.5h0M2074.5 561.5h0M2067 646h0M2069.5 581.5h0M2076.5 593.5h0M2077.5 563h0M2061.5 618h0M2090.5 636.5h0M2075.5 621h0M2089.5 628.5h0M2051 600h0M2064 569h0M2088 564.5h0M2052 573h0M2068.5 612.5h0M2080 568.5h0M2052 593h0M2064 566h0M2072.5 603h0M2096 583h0M2101 592h0M2101.5 568h0M2104 578h0M2104 561h0M2100.5 595.5h0M2104 553h0M2102.5 579.5h0M2097.5 598.5h0M2102 573h0M2094.5 551.5h0M2096 557.5h0M2103 651.5h0M2098 567h0M2095 594.5h0M2103.5 550.5h0M2095.5 588h0M2099 624h0M2102.5 578.5h0M2099.5 577.5h0M2100 590h0M2101 574h0M2102.5 578h0M2097.5 584h0M2101.5 634.5h0M2094.5 630.5h0M2100 615.5h0M2096 586h0M2103.5 556h0M2094.5 582.5h0M2102.5 569.5h0M2133.5 591h0M2153.5 588h0M2115 602.5h0M2124.5 549.5h0M2121.5 589h0M2113 544.5h0M2129.5 564h0M2109.5 618h0M2120 600.5h0M2127 561h0M2147 598.5h0M2117.5 578h0M2122.5 593h0M2128.5 571.5h0M2142 541h0M2115 616.5h0M2114 579h0M2122.5 562h0M2110.5 623h0M2122 566.5h0M2120.5 567.5h0M2113 554.5h0M2153 592.5h0M2111.5 565.5h0M2124 594h0M2138 637h0M2122 594h0M2110 605.5h0M2128.5 570.5h0M2109.5 563.5h0M2109.5 618.5h0M2117.5 593.5h0M2120 572h0M2148.5 583.5h0M2136.5 609h0M2140.5 565.5h0M2152 613.5h0M2111.5 611.5h0M2153 615.5h0M2152 606h0M2112 561h0M2124 586.5h0M2109.5 550h0M2142 581h0M2148.5 605h0M2110.5 590h0M2152 578.5h0M2118.5 600.5h0M2123 628h0M2119.5 574h0M2121.5 564.5h0M2122.5 585h0M2121 561h0M2148 591h0M2134 605.5h0M2136 587h0M2151.5 617h0M2128.5 565.5h0M2111 584.5h0M2124.5 620h0M2141 558.5h0M2152.5 604h0M2132.5 613h0M2133 611.5h0M2142 556h0M2110.5 590h0M2151.5 554.5h0M2115 645.5h0M2111.5 573h0M2130.5 580.5h0M2128.5 606.5h0M2137 602h0M2131.5 575h0M2145 614h0M2124 613.5h0M2112 575.5h0M2139 563h0M2113.5 570h0M2150.5 563.5h0M2146.5 581h0M2134 563h0M2125.5 582.5h0M2128.5 616.5h0M2114.5 545h0M2117.5 572.5h0M2146.5 569h0M2118 555.5h0M2115 625.5h0M2160 625h0M2154 629h0M2157.5 629h0M2170.5 585h0M2168 613.5h0M2165.5 615h0M2166.5 648.5h0M2159 611h0M2168.5 587.5h0M2163 602h0M2165 588h0M2166 596h0M2171.5 637.5h0M2155.5 591.5h0M2156.5 595.5h0M2157.5 613h0M2158.5 597h0M2157 597h0M2166.5 636.5h0M2157 600h0M2170 617h0M2165.5 616h0M2162 613h0M2156 616.5h0M2158.5 604.5h0M2161 608h0M2154 642.5h0M2163 615h0M2166 607h0M2154.5 613h0M2170.5 622.5h0M2167 612.5h0M2159 602h0M2161.5 622h0M2163.5 616h0M2165.5 591h0M2157.5 614.5h0M2192 606.5h0M2194 601h0M2180.5 648h0M2182 614h0M2177.5 600h0M2191 669.5h0M2195 614.5h0M2192.5 638.5h0M2187.5 611h0M2184.5 590.5h0M2185 587h0M2191.5 621.5h0M2187.5 628.5h0M2183.5 617.5h0M2183.5 642.5h0M2180 582h0M2187.5 642h0M2182 605h0M2183 647h0M2191 620.5h0M2179.5 605h0M2189 604.5h0M2177 633.5h0M2189.5 580h0M2176.5 653h0M2191.5 600.5h0M2183 566h0M2187 599.5h0M2190 599h0M2198.5 604h0M2179 553h0M2190.5 655h0M2195.5 595h0M2178 644h0M2188 626.5h0M2194 579.5h0M2189 608h0M2191 591h0M2185 599h0M2190 618h0M2215 583h0M2201.5 637h0M2199.5 575h0M2203.5 572h0M2216 603.5h0M2203.5 571h0M2212 548h0M2204 598.5h0M2213.5 575h0M2207.5 566.5h0M2213.5 576h0M2213 554h0M2208 562h0M2213.5 584h0M2209 575h0M2200.5 582.5h0M2201 561.5h0M2214 563h0M2216 583.5h0M2215.5 614h0M2216 648.5h0M2213 607h0M2208 574.5h0M2208 615.5h0M2202 572h0M2216.5 567.5h0M2215.5 550.5h0M2204 577.5h0M2202.5 601h0M2205 571.5h0M2204.5 542h0M2199.5 562.5h0M2217.5 547h0M2208.5 599h0M2214 580.5h0M2209 584.5h0M2199 570.5h0M2204 584h0M2215.5 565h0M2207 606h0M2214 575h0M2199 603.5h0M2208.5 580h0M2238 543h0M2226 612.5h0M2227.5 616.5h0M2227 578h0M2231.5 553.5h0M2233.5 591.5h0M2229 608.5h0M2225.5 593h0M2224.5 627.5h0M2223.5 525h0M2237 623.5h0M2233 637.5h0M2227 605.5h0M2229.5 589h0M2241 603.5h0M2239.5 615h0M2230 598h0M2224 565h0M2242.5 599.5h0M2236 566.5h0M2241.5 562.5h0M2236 632.5h0M2227.5 573h0M2241.5 581h0M2242 547h0M2227 618.5h0M2223 598.5h0M2227 543.5h0M2227 599h0M2224 612h0M2234 595h0M2231.5 593h0M2224.5 526.5h0M2241.5 582.5h0M2224.5 577.5h0M2222.5 535h0M2223.5 649.5h0M2223 573.5h0M2232 584.5h0M2238.5 568.5h0M2224.5 576h0M2239.5 560h0M2228 583.5h0M2239.5 584.5h0M2236.5 583.5h0M2229 599h0M2242 565h0M2236.5 568h0M2225 572.5h0M2228 578h0M2224 565h0M2238 619h0M2223.5 580h0M2237.5 646.5h0M2237 613.5h0M2225.5 594h0M2224 644.5h0M2241.5 625.5h0M2243 601.5h0M2224.5 595.5h0M2231.5 569.5h0M2275.5 607.5h0M2272.5 572h0M2278.5 553h0M2271.5 612.5h0M2261 576.5h0M2264 589.5h0M2276 594.5h0M2267 576h0M2280.5 567h0M2274.5 561.5h0M2284 598.5h0M2279.5 607h0M2268 594h0M2277 544.5h0M2264.5 542h0M2283 559h0M2281.5 548.5h0M2273.5 559.5h0M2272.5 568h0M2269.5 559.5h0M2263 569.5h0M2274.5 581.5h0M2273.5 586h0M2274 611h0M2269 551h0M2271.5 588h0M2272.5 584h0M2269.5 552.5h0M2270.5 561.5h0M2263.5 577.5h0M2271.5 556.5h0M2261.5 552.5h0M2274 612.5h0M2279.5 532h0M2268 577.5h0M2276 606.5h0M2263 571h0M2272.5 563h0M2278 522h0M2272.5 556.5h0M2262.5 536h0M2275.5 566h0M2263 579.5h0M2268 556.5h0M2265 565h0M2266.5 548.5h0M2272 560h0M2267.5 577h0M2282.5 600h0M2265.5 582h0M2283.5 545.5h0M2301.5 697.5h0M2304.5 653h0M2306 648h0M2305.5 688.5h0M2304 650h0M2305.5 686h0M2309 638.5h0M2314.5 638h0M2311.5 664h0M2302.5 620.5h0M2305.5 679h0M2314.5 639h0M2302.5 658h0M2311 617.5h0M2313 677.5h0M2305.5 620.5h0M2309 672.5h0M2299.5 687h0M2300.5 656h0M2309 643h0M2304 638h0M2315.5 687h0M2309.5 668.5h0M2300.5 677h0M2298.5 649.5h0M2306 673.5h0M2298.5 661.5h0M2303 653h0M2305 677h0M2310.5 700.5h0M2316 672.5h0M2312 668.5h0M2301 653h0M2300.5 650.5h0M2311 655h0M2299.5 611.5h0M2313 683.5h0M2305 656h0M2313 695h0M2307 654h0M2313 660.5h0M2315.5 678.5h0M2316 663h0M2306.5 668h0M2309 657h0M2300.5 663.5h0M2310 658.5h0M2299.5 649h0M2307.5 653.5h0M2303 660.5h0M2315 642h0M2314.5 643.5h0M2304.5 636.5h0M2299 669h0M2314.5 679.5h0M2314.5 653.5h0M2309 659.5h0M2320.5 635h0M2316 655h0M2321.5 657h0M2320.5 676h0M2317.5 638.5h0M2321 644.5h0M2324 646.5h0M2321 647h0M2318 658.5h0M2324.5 618.5h0M2318.5 628.5h0M2322.5 607.5h0M2319 655.5h0M2324.5 633h0M2317 652.5h0M2317 663.5h0M2325 651.5h0M2316.5 625.5h0M2321 686.5h0M2318 627h0M2321.5 688h0M2323.5 679.5h0M2321 669.5h0M2318.5 648.5h0M2319 630.5h0M2324 642.5h0M2322 688h0M2321 610h0M2325 659.5h0M2322.5 651.5h0M2319.5 616.5h0M2321 647.5h0M2419 507.5h0M2416 520.5h0M2375 538.5h0M2377 544.5h0M2361.5 570.5h0M2325 536h0M2348.5 544h0M2347 574.5h0M2428.5 573.5h0M2428.5 512h0M2422.5 581.5h0M2367.5 521h0M2323.5 556.5h0M2363 584.5h0M2428 518.5h0M2419 536h0M2355 529h0M2351.5 522h0M2370.5 585.5h0M2422 553.5h0M2393.5 581h0M2408 609.5h0M2354 546.5h0M2345 534h0M2430.5 539h0M2344.5 524h0M2410 563.5h0M2343 523h0M2382 576h0M2371.5 580h0M2414.5 576.5h0M2413.5 584.5h0M2378.5 523.5h0M2423.5 505h0M2338 550.5h0M2351.5 577h0M2435.5 551.5h0M2366 518h0M2385.5 554h0M2432.5 535.5h0M2396.5 545h0M2387.5 566.5h0M2426 570h0M2430.5 575h0M2406 525h0M2362.5 521.5h0M2397.5 539.5h0M2411.5 571.5h0M2362 549h0M2402.5 542h0M2367 569.5h0M2353.5 569.5h0M2410 545.5h0M2440.5 566.5h0M2427.5 578.5h0M2374 543h0M2419.5 542h0M2419 527.5h0M2346.5 549h0M2400 572h0M2359.5 537h0M2371 570.5h0M2427.5 505h0M2438.5 539.5h0M2323.5 526.5h0M2383 550.5h0M2352 519.5h0M2370 554.5h0M2323.5 539h0M2439.5 537h0M2369.5 538.5h0M2375.5 567.5h0M2338 522.5h0M2383.5 548h0M2393 540.5h0M2325 535h0M2376 532.5h0M2334.5 571h0M2398.5 559.5h0M2355.5 543h0M2435 497.5h0M2347 530.5h0M2348 568.5h0M2396.5 533.5h0M2438.5 535.5h0M2396.5 557.5h0M2384.5 558h0M2397.5 548h0M2423.5 548h0M2417 505.5h0M2385.5 548.5h0M2380 550.5h0M2337.5 554h0M2323.5 558h0M2436 522.5h0M2380 578h0M2428.5 521.5h0M2360.5 529h0M2349.5 553h0M2367 568.5h0M2438.5 586h0M2364.5 552h0M2351 536h0M2329.5 523.5h0M2385 539.5h0M2404 529h0M2340 539h0M2379 562h0M2368 534.5h0M2393.5 530.5h0M2350.5 550h0M2324.5 558.5h0M2431 528h0M2350.5 546.5h0M2378 531.5h0M2435.5 587h0M2377 556.5h0M2387.5 557.5h0M2339.5 580h0M2349 519.5h0M2411.5 536h0M2420.5 520.5h0M2384 557h0M2412.5 497h0M2409 582.5h0M2332 524.5h0M2337.5 534.5h0M2327 562h0M2384.5 550h0M2410.5 515.5h0M2401 537.5h0M2436.5 534h0M2341.5 540h0M2430.5 512.5h0M2370.5 541.5h0M2394.5 528h0M2411 546h0M2369.5 537.5h0M2398 523h0M2329.5 541.5h0M2339 519.5h0M2390 520h0M2365.5 553.5h0M2356 567h0M2404.5 557.5h0M2367 569h0M2348.5 560h0M2394 573.5h0M2333 539.5h0M2333.5 523h0M2327.5 560.5h0M2436.5 511h0M2352.5 530h0M2354.5 548h0M2388.5 567h0M2411.5 581h0M2359.5 563.5h0M2366.5 534.5h0M2413 535.5h0M2338 566h0M2361 561h0M2395 574.5h0M2386 538h0M2343 509.5h0M2417 587h0M2407 557h0M2365 543h0M2407 553.5h0M2434 557h0M2423 514.5h0M2359.5 603h0M2337 530.5h0M2380.5 536.5h0M2401.5 537h0M2378.5 534.5h0M2398.5 539.5h0M2429 558.5h0M2331 552.5h0M2391 549h0M2413.5 555h0M2401.5 558.5h0M2329.5 528h0M2420.5 519.5h0M2384 537h0M2358.5 586.5h0M2331.5 539.5h0M2419 543h0M2354.5 597.5h0M2433 525h0M2402 519h0M2436.5 481h0" stroke="url(#g)" stroke-width="8.4" stroke-linecap="round" fill="none"/>
<path d="M154 596h0M167 562h0M158.5 568.5h0M147 575.5h0M157.5 612h0M132 568.5h0M180.5 567.5h0M211.5 592.5h0M129 606h0M180.5 570h0M184.5 604h0M215 622h0M179 579h0M124.5 599h0M141 610.5h0M131 577h0M193.5 637h0M127 582h0M181.5 606.5h0M194 602h0M169.5 590h0M128 611.5h0M205 547.5h0M151.5 587h0M155 580.5h0M138 581h0M128.5 576.5h0M189 571.5h0M199 617h0M192.5 571.5h0M214.5 596.5h0M164.5 568.5h0M169 619h0M137 575h0M161.5 583.5h0M200 584.5h0M128 621h0M137.5 567.5h0M173.5 546h0M177 595.5h0M151 571h0M125 568h0M169 577.5h0M201 561h0M206 607.5h0M158 616.5h0M200.5 603.5h0M209 587.5h0M195 582h0M140 645.5h0M145 591h0M153.5 586h0M155 629.5h0M153.5 588.5h0M200 597.5h0M152.5 565h0M155 659.5h0M144.5 581.5h0M129.5 645h0M168.5 574.5h0M131 577.5h0M151 602h0M191.5 604h0M175.5 556.5h0M142 605.5h0M143.5 553.5h0M133.5 559.5h0M167.5 581h0M175 585.5h0M156 552h0M148 575.5h0M167 590.5h0M210 636.5h0M170.5 538.5h0M159.5 574.5h0M161 602.5h0M125.5 642h0M140.5 587.5h0M190.5 564h0M153.5 574h0M129 625h0M155 571h0M213 580h0M198 586h0M214.5 554.5h0M159 648h0M176 556.5h0M212.5 599h0M174.5 582.5h0M154.5 609.5h0M197 617.5h0M187 590h0M133.5 569h0M154.5 594h0M130.5 594h0M210 584.5h0M201.5 602.5h0M176 576.5h0M176 574h0M202 588.5h0M143 567h0M190.5 605h0M154 593.5h0M156 595h0M158.5 584.5h0M197.5 629h0M139.5 622h0M135 577.5h0M161.5 594h0M187.5 634h0M204.5 620h0M135 596h0M127.5 589.5h0M179 594h0M132 581.5h0M210 629.5h0M208 576.5h0M189 595h0M142 626h0M205.5 585.5h0M190.5 635.5h0M171 606.5h0M198 620.5h0M179 551.5h0M174 565h0M169 574.5h0M155 626h0M160.5 651h0M208 625.5h0M207 593h0M156.5 596h0M134.5 593h0M129 608.5h0M211.5 614.5h0M193.5 581.5h0M167 611h0M129 580h0M144 604h0M161 592h0M125.5 599.5h0M140.5 589h0M127 578h0M147 626h0M179.5 592h0M132 603.5h0M159.5 634.5h0M190 614.5h0M156 574.5h0M210.5 571h0M195.5 612h0M200 612.5h0M126 610.5h0M164.5 620.5h0M164 607.5h0M138.5 602h0M201 596.5h0M197 571h0M163 574.5h0M162.5 603.5h0M210.5 603h0M142.5 595.5h0M184.5 620h0M156 624.5h0M185 586h0M127 608h0M158.5 579h0M144 593.5h0M126 629.5h0M142 581h0M144 582h0M142 578h0M146 625h0M207 626.5h0M130.5 583.5h0M209 588.5h0M312.5 616h0M285 616h0M255.5 575.5h0M251.5 584h0M262.5 604.5h0M255 548h0M277 546h0M263 563.5h0M276 604h0M291 596h0M310 605.5h0M289 613h0M268.5 592h0M285.5 623h0M235.5 619h0M298 585h0M309.5 631.5h0M293 560.5h0M275.5 616h0M312.5 600h0M284 627h0M291 564h0M284 612h0M235.5 580h0M303 573.5h0M313 577.5h0M278.5 591.5h0M266.5 603.5h0M293 587h0M295.5 554.5h0M237.5 580h0M251 575.5h0M308.5 577.5h0M277.5 571.5h0M247.5 603.5h0M305.5 584h0M270 592h0M274.5 577.5h0M293.5 596h0M310 604.5h0M305 567h0M278 621.5h0M311 630h0M244.5 597h0M240 610.5h0M289.5 604h0M270 569h0M304 534h0M245 606.5h0M240 629.5h0M276 572h0M261 634h0M280 615.5h0M285.5 590h0M302.5 556h0M269.5 572h0M300 620h0M308 586.5h0M286.5 618h0M241.5 627h0M268 608.5h0M309 581.5h0M270 585.5h0M292.5 579h0M254 619.5h0M255 585.5h0M301 569h0M293.5 570.5h0M308.5 641.5h0M300.5 599.5h0M283 595.5h0M307 551.5h0M292.5 590.5h0M262 617h0M247.5 589.5h0M290 587.5h0M291.5 577h0M292 600h0M281 562h0M262 597.5h0M300 560h0M251.5 561.5h0M304 586.5h0M300.5 626h0M312.5 573.5h0M260.5 576h0M304 574.5h0M288.5 605.5h0M286.5 571h0M309.5 622h0M308 586h0M294.5 562.5h0M251 579.5h0M248 576.5h0M287 583.5h0M307 584.5h0M268.5 587.5h0M238 606.5h0M243.5 555.5h0M264.5 593h0M276.5 561h0M274.5 593h0M271 605h0M312.5 626h0M252 607.5h0M269 579.5h0M246 555h0M266.5 602h0M247 575h0M242 583.5h0M269 601h0M245.5 565h0M242.5 603h0M260.5 607h0M294.5 593.5h0M282.5 593h0M239.5 580.5h0M242 589.5h0M284 594.5h0M260 552.5h0M260 575h0M278.5 614.5h0M244.5 600h0M293.5 572.5h0M263 575h0M257 578.5h0M252 582h0M282.5 552.5h0M254 607.5h0M237 616.5h0M264.5 613.5h0M302 577.5h0M250 576h0M285.5 576h0M307.5 540h0M298.5 558.5h0M274.5 596.5h0M282 627.5h0M286 572h0M298 581.5h0M259.5 586h0M304.5 555.5h0M308.5 567h0M242 548.5h0M297.5 590.5h0M283 643.5h0M248.5 631h0M258 583.5h0M265.5 594.5h0M245.5 605h0M264.5 600h0M310 579.5h0M310.5 570.5h0M288.5 565.5h0M315 622h0M369 575h0M341 625h0M356 610h0M346.5 573h0M362.5 538h0M373.5 584h0M320 591h0M356.5 551.5h0M365 614h0M371.5 595.5h0M332 585h0M322.5 577.5h0M324 550h0M382 574h0M314.5 607h0M352.5 584.5h0M380 602h0M372.5 580.5h0M369.5 569.5h0M314.5 604h0M365 624.5h0M362.5 549h0M377.5 602h0M342.5 592.5h0M338.5 605h0M373 554h0M324.5 563.5h0M379 616h0M318.5 610.5h0M382 537h0M363.5 583.5h0M332.5 594.5h0M326 581h0M378.5 585h0M367 613.5h0M334 604h0M370.5 525h0M330 642.5h0M345.5 583h0M327.5 583h0M340.5 589.5h0M377.5 602h0M381 536.5h0M338 583.5h0M325 570h0M368 554h0M357 572h0M325 579h0M352.5 604h0M355 581.5h0M321 627h0M318.5 606h0M337.5 593h0M330 564h0M348.5 516.5h0M346.5 605h0M335.5 597h0M340.5 582.5h0M378 578.5h0M364.5 596.5h0M315 525h0M368.5 612.5h0M362 553.5h0M340 629h0M369.5 600h0M322 569h0M317 616h0M339 597h0M365.5 596h0M348.5 624h0M330.5 589.5h0M370 571.5h0M325 575h0M334.5 545.5h0M320.5 636h0M381 564.5h0M320 563h0M340.5 618.5h0M382 574.5h0M373.5 602h0M352.5 573h0M356.5 594.5h0M314 602h0M345 577.5h0M345.5 572h0M318.5 578h0M342.5 626h0M360.5 568.5h0M373 608h0M374.5 586.5h0M320 585.5h0M380.5 566.5h0M381.5 585.5h0M337 577h0M375.5 597.5h0M314.5 520h0M321 600h0M363.5 598h0M347.5 576.5h0M368 586h0M315.5 629h0M382 627.5h0M316.5 592h0M355.5 549.5h0M334 559.5h0M343.5 611.5h0M367.5 590h0M341 605h0M354 575h0M364 536.5h0M335 604h0M359.5 585h0M318 595h0M421 559h0M461.5 567h0M449.5 628h0M427.5 590h0M459.5 586.5h0M389 609h0M438.5 573.5h0M413.5 596h0M459 579.5h0M397 576.5h0M450 595h0M410 613.5h0M442.5 567h0M410 580h0M453.5 592.5h0M463 593h0M464.5 587.5h0M457 595.5h0M417.5 594h0M455.5 552h0M388.5 551h0M413.5 602h0M403 599h0M401 605.5h0M428 577.5h0M452 566.5h0M417 594h0M404 602h0M405 545h0M435 566.5h0M423 585h0M397.5 553h0M437 556h0M461 596.5h0M404.5 564h0M407 559.5h0M426 602h0M424.5 576.5h0M401.5 589h0M391.5 596h0M418 568h0M451.5 625h0M406.5 551.5h0M443.5 604h0M451 603h0M392 613.5h0M468 634.5h0M463.5 598.5h0M442.5 594h0M442.5 588h0M461 588h0M397 548.5h0M461 579.5h0M406 588.5h0M417 602h0M389 573h0M434.5 574h0M432.5 571h0M425.5 621h0M450.5 600h0M439 611.5h0M452 575.5h0M462 614.5h0M391.5 608h0M460 591h0M407 607h0M405 578h0M457 586h0M448.5 579.5h0M391.5 615.5h0M464 579h0M444 582.5h0M407.5 577.5h0M468.5 573h0M398.5 610h0M463 561h0M403 591h0M445.5 600h0M404.5 565h0M424.5 569h0M437.5 590h0M431.5 578.5h0M407 560.5h0M419.5 643h0M396 588h0M457 574.5h0M391 584.5h0M387.5 573h0M394 582h0M467.5 592h0M421 582.5h0M425 527h0M412.5 591h0M388.5 599h0M440 539h0M456.5 568.5h0M448 573.5h0M388 609.5h0M447 560h0M409.5 572h0M436 587.5h0M419.5 585.5h0M419.5 578.5h0M464 551h0M443.5 595h0M426.5 588h0M415 583h0M448 563h0M400.5 596.5h0M461 586.5h0M396.5 578.5h0M454 595h0M454.5 558h0M451 601h0M393 603.5h0M393.5 577h0M401.5 626.5h0M468 628.5h0M442 590h0M398.5 562h0M412 614h0M398.5 573.5h0M431 584.5h0M429.5 568h0M452 590.5h0M394 587.5h0M437.5 574.5h0M432.5 554.5h0M412 609.5h0M452 552.5h0M435 595h0M414.5 615h0M389 575.5h0M447.5 574.5h0M388.5 581.5h0M429.5 598.5h0M431 577h0M462 625.5h0M398 551.5h0M409.5 556h0M387 565.5h0M454 599.5h0M437.5 567.5h0M408 564h0M453.5 566.5h0M400.5 614.5h0M431 583h0M440 597h0M487.5 556h0M470 585h0M473.5 574.5h0M491.5 562h0M474.5 578.5h0M496.5 569h0M472.5 582h0M472.5 607.5h0M485.5 570.5h0M497 588h0M498 573.5h0M498 606.5h0M492 580h0M490.5 580h0M476.5 588.5h0M474.5 558.5h0M472.5 578.5h0M494.5 588h0M473.5 592h0M478.5 582h0M479 536.5h0M488.5 591h0M469.5 570.5h0M486 542h0M474 575.5h0M495 589.5h0M494.5 564.5h0M489.5 586.5h0M480 571h0M488 577.5h0M478 562h0M497 558h0M471 558h0M483.5 531.5h0M484 576.5h0M497.5 590h0M474 588h0M488 587.5h0M495 571.5h0M493.5 580.5h0M483.5 563h0M493.5 580h0M491.5 579.5h0M494 575h0M489.5 576.5h0M498.5 596.5h0M477 552.5h0M484.5 536.5h0M473 580.5h0M489 569h0M483.5 594.5h0M479 565h0M515.5 566.5h0M562 607.5h0M536 568.5h0M539 603h0M563 619h0M560 589h0M524.5 592.5h0M557.5 597.5h0M520.5 569.5h0M515.5 589h0M544 619h0M547.5 569h0M547.5 604h0M527 620.5h0M561 617.5h0M566.5 571.5h0M500.5 566h0M560 597h0M515.5 599h0M543 595h0M506.5 648h0M553 553h0M559 616h0M502 618h0M534.5 582.5h0M530.5 587.5h0M501.5 582.5h0M527.5 606h0M519.5 577h0M513 572h0M553 586h0M549.5 582.5h0M554.5 602.5h0M530 569h0M534 560.5h0M558 544.5h0M522.5 556.5h0M514 575.5h0M542.5 584.5h0M525.5 573h0M530.5 635.5h0M537.5 579.5h0M499.5 569.5h0M525 593h0M558 576h0M513 575h0M517 549.5h0M554.5 585.5h0M555 622.5h0M525 586h0M504.5 607.5h0M544.5 620.5h0M536.5 586h0M500.5 587.5h0M528 595h0M542.5 612h0M553.5 604h0M541.5 627h0M505 594.5h0M552.5 612h0M542.5 617.5h0M502.5 547.5h0M556 588.5h0M540.5 528h0M522.5 565.5h0M508 622h0M564 606.5h0M527.5 551h0M513.5 554h0M502.5 582h0M529.5 610.5h0M555 622.5h0M561.5 558h0M551.5 587h0M556.5 588.5h0M562.5 555.5h0M517 597h0M565.5 604h0M531 581.5h0M507.5 563h0M503 569h0M500 548.5h0M505.5 550.5h0M556.5 598h0M566 594h0M506 590.5h0M507.5 555h0M537.5 538.5h0M503 552.5h0M525 597h0M518.5 573h0M558 600h0M538.5 569h0M553.5 576.5h0M515 606.5h0M559.5 575.5h0M505 579.5h0M549.5 581h0M549 623.5h0M537.5 576h0M503 585.5h0M543.5 618h0M542.5 528.5h0M513 607.5h0M511.5 559.5h0M534.5 558.5h0M560.5 584h0M545.5 546.5h0M522 615.5h0M527.5 580h0M610.5 604.5h0M601.5 564.5h0M621.5 580.5h0M649.5 562.5h0M623.5 617.5h0M603.5 586h0M587.5 616.5h0M637 603.5h0M609.5 597h0M641.5 624.5h0M575.5 597.5h0M582 566.5h0M612.5 572h0M602.5 617h0M625.5 580.5h0M603.5 620h0M614 612h0M616 588.5h0M589.5 615.5h0M622 588h0M603 579.5h0M596 565h0M612 555.5h0M645.5 599h0M578 623h0M646.5 652.5h0M639 579h0M645 579.5h0M615.5 579h0M604 590h0M645 591.5h0M613.5 632.5h0M645 582.5h0M601.5 606h0M592 595.5h0M587.5 543.5h0M627.5 616h0M587.5 566.5h0M583.5 598.5h0M582.5 605.5h0M616.5 604.5h0M619 566.5h0M641.5 626h0M644.5 584.5h0M591.5 596.5h0M640.5 575.5h0M588.5 581h0M633.5 583h0M610.5 574.5h0M640.5 589.5h0M620 582.5h0M573 579h0M649 561.5h0M641.5 632h0M611.5 621h0M609.5 582h0M609.5 592.5h0M644 589h0M589 590h0M643 610h0M638 628h0M605.5 598.5h0M602 569h0M622.5 583.5h0M623 628.5h0M589 574.5h0M588 539h0M613.5 607h0M646.5 591h0M632.5 568.5h0M594.5 583h0M630 570h0M583 576.5h0M610.5 552.5h0M594 595h0M611.5 584.5h0M634 546.5h0M578.5 557.5h0M607.5 570.5h0M576.5 583.5h0M596 597h0M579 591.5h0M588.5 557.5h0M626 566.5h0M626.5 574h0M622.5 555h0M638.5 556h0M612 562.5h0M627.5 557.5h0M644.5 580h0M632 599.5h0M605.5 579h0M600.5 597h0M600 589.5h0M609.5 604.5h0M573 582h0M619.5 584h0M581 600h0M640 550h0M639 568.5h0M608 578.5h0M607.5 569.5h0M637.5 650.5h0M612 624h0M640.5 569.5h0M643.5 594h0M581 584h0M618.5 624h0M635.5 583h0M634.5 636h0M647.5 582h0M599.5 588h0M647.5 570.5h0M601.5 578h0M600.5 574h0M648.5 574.5h0M620.5 613h0M598.5 613h0M636.5 575.5h0M636.5 598.5h0M596.5 594h0M592.5 599h0M648.5 619.5h0M606.5 593h0M572.5 582.5h0M621.5 545.5h0M579.5 585h0M623 560.5h0M647 566.5h0M576.5 571.5h0M638 585h0M625.5 560h0M580.5 546h0M580 581h0M587.5 588h0M582.5 591h0M602.5 566h0M607.5 618.5h0M663.5 541.5h0M663.5 589.5h0M656.5 593.5h0M654 636.5h0M679.5 587.5h0M655.5 568h0M654.5 575.5h0M675 614.5h0M662 586h0M665 580.5h0M673.5 592h0M668.5 576h0M657 600.5h0M666.5 589.5h0M673 621h0M677 597.5h0M651.5 599h0M663.5 564.5h0M680 605h0M663.5 578h0M667.5 605.5h0M651.5 569h0M656 549h0M651.5 545h0M660 588.5h0M671 572.5h0M661.5 619.5h0M663.5 584h0M674.5 611h0M672 603h0M669 586h0M669 617.5h0M665.5 547h0M674.5 612h0M669 538h0M655.5 589h0M664.5 606h0M670.5 577.5h0M674 575.5h0M678.5 551h0M658 570.5h0M655.5 565.5h0M794.5 589h0M786 605h0M697 599h0M793 570.5h0M785.5 587h0M772 557h0M776.5 656.5h0M701.5 588h0M694 574h0M687.5 590.5h0M709 533h0M793.5 612h0M730 601h0M769 564h0M706.5 561.5h0M722.5 555.5h0M761 581h0M767.5 613h0M685 578h0M713.5 645.5h0M775.5 624.5h0M752.5 577.5h0M724 564h0M733.5 563h0M713.5 623.5h0M755.5 596.5h0M787.5 589h0M684.5 605h0M762.5 605h0M690.5 573h0M701.5 579h0M701 565h0M686.5 570.5h0M726 546h0M696.5 615h0M781 575h0M733.5 568.5h0M763.5 570h0M704 610h0M747.5 585h0M736.5 585.5h0M760.5 569h0M754.5 578.5h0M737.5 626.5h0M711 602.5h0M778 578h0M698 596h0M741 563.5h0M736 619.5h0M779.5 586h0M694 609.5h0M789 575h0M684 598h0M774.5 611.5h0M741 567.5h0M748.5 575h0M778 561.5h0M685.5 592.5h0M791.5 576h0M771 588h0M745.5 575.5h0M753.5 604h0M686 579h0M776 620h0M714 606h0M794 601.5h0M788 617.5h0M700.5 578h0M770 630h0M731.5 598h0M717.5 613h0M708 556.5h0M713 577h0M731.5 562h0M706.5 615.5h0M764.5 566h0M772.5 596.5h0M759.5 591h0M726 554h0M752.5 560.5h0M748.5 590h0M757 595h0M703 608.5h0M756.5 531.5h0M682 596h0M718.5 590h0M732.5 576.5h0M735.5 621.5h0M693.5 584h0M701 558.5h0M755 626h0M694.5 597h0M755 589.5h0M699.5 578.5h0M761.5 617.5h0M688 637h0M789 585.5h0M696.5 567.5h0M695.5 599h0M720.5 587.5h0M720.5 599h0M792.5 552.5h0M780 573h0M766 573.5h0M779 609.5h0M741.5 587.5h0M787.5 595.5h0M769.5 600.5h0M753 603.5h0M700 569h0M788 578.5h0M728.5 552h0M728.5 596h0M735 581.5h0M777.5 563.5h0M712 578.5h0M778.5 620h0M685.5 586h0M732 576.5h0M783 597h0M685.5 579.5h0M774 587.5h0M744 601h0M764 595h0M793 573.5h0M794 594h0M759 602h0M789 585.5h0M736 602.5h0M774 592.5h0M769.5 635h0M750.5 559.5h0M731 582h0M739.5 604h0M712.5 624.5h0M682.5 574h0M785.5 590h0M685 598.5h0M706 579h0M720 563.5h0M690.5 543.5h0M771 625h0M762.5 630.5h0M706.5 590h0M775.5 601.5h0M701 578h0M695.5 559.5h0M701.5 608h0M749.5 566h0M788.5 568.5h0M758 604.5h0M705.5 618h0M793 611.5h0M711 601.5h0M698.5 614.5h0M739.5 561.5h0M740 602.5h0M741 583h0M711.5 540h0M745 573h0M709 581h0M719 592.5h0M751.5 609h0M772 622h0M745.5 577h0M716.5 605.5h0M690.5 641h0M739.5 584h0M685.5 595.5h0M722 587.5h0M685 569h0M784.5 592h0M761.5 565h0M777.5 585h0M708.5 575.5h0M724 583h0M752 571.5h0M688.5 542.5h0M729.5 574.5h0M744 606h0M757.5 620.5h0M776 589h0M787.5 575h0M745.5 587.5h0M689.5 627h0M732.5 606.5h0M754 585.5h0M764.5 591.5h0M791.5 590h0M729 578h0M740 572h0M709.5 587.5h0M883.5 645.5h0M871 559.5h0M836.5 567h0M900 566h0M849.5 582h0M866.5 606h0M902 579h0M834.5 550h0M801 597h0M832.5 562.5h0M900 591h0M860 534h0M885.5 579.5h0M851 552.5h0M867 555h0M921.5 631h0M873.5 560h0M833 622h0M924.5 597.5h0M843.5 603.5h0M846.5 555.5h0M885 566h0M924 621h0M836.5 595h0M914.5 599h0M872 584.5h0M798 557.5h0M861.5 596.5h0M828 555.5h0M851.5 584h0M889 563h0M798.5 615.5h0M925 581.5h0M843.5 566.5h0M923 586h0M920 549h0M906 598.5h0M921 549.5h0M877.5 594h0M917.5 571h0M852 623.5h0M805.5 576h0M915 575.5h0M802 596.5h0M837 566h0M840 582h0M885.5 619.5h0M933.5 599h0M911 563.5h0M902 582h0M925 588h0M824 576h0M926 587.5h0M843.5 561h0M858.5 573.5h0M925.5 615.5h0M890 576.5h0M915.5 604.5h0M810 591h0M853 537.5h0M908.5 599h0M802.5 564.5h0M917.5 591.5h0M883 574.5h0M851.5 616h0M906 569h0M933 573.5h0M872.5 576.5h0M882.5 583h0M853 609h0M805.5 587.5h0M895 616h0M847 583.5h0M932.5 581.5h0M891 627.5h0M824.5 588h0M805 589.5h0M859 582.5h0M822.5 574.5h0M900.5 556.5h0M892 586.5h0M850 558.5h0M877 611h0M869 624h0M931.5 625.5h0M928 558.5h0M892 588.5h0M847 587.5h0M821 581h0M804.5 595.5h0M904 578h0M887 564.5h0M832 562h0M920 565.5h0M857.5 585.5h0M904.5 606h0M905.5 585h0M852 602.5h0M814 604.5h0M879.5 598h0M838.5 564.5h0M803 560h0M871.5 592.5h0M924 588.5h0M908 612h0M928.5 571h0M915 562.5h0M884 614h0M830 626.5h0M804.5 580.5h0M902 582.5h0M895 607h0M882 576.5h0M876.5 544h0M824 600h0M847.5 561.5h0M862 598h0M885 592h0M850.5 588.5h0M805.5 567.5h0M840 572h0M912.5 555.5h0M909.5 570.5h0M823 620h0M797 590h0M847 596h0M911 609.5h0M878.5 576h0M877.5 576.5h0M901 575h0M862.5 555h0M912 621.5h0M900 599h0M924.5 609.5h0M863.5 594.5h0M828.5 580h0M904 590.5h0M909.5 601h0M840 593h0M888.5 604.5h0M866 590.5h0M917.5 585.5h0M893 607.5h0M874.5 547h0M854 605.5h0M816.5 604.5h0M826.5 647h0M818.5 561h0M828.5 560.5h0M860 564.5h0M872 568h0M913 609.5h0M921 564.5h0M920.5 578h0M859.5 537.5h0M859 605.5h0M896.5 565.5h0M906.5 578.5h0M862.5 590h0M876.5 575h0M897 568.5h0M864 551h0M907 607.5h0M931 601.5h0M863 589h0M932 581h0M861 645.5h0M816.5 603.5h0M925 649h0M929.5 625h0M878.5 578.5h0M806.5 600.5h0M809.5 569h0M822 596.5h0M846.5 574.5h0M869.5 597h0M913.5 611.5h0M914 603.5h0M880 558h0M820 565h0M918.5 582h0M816.5 553h0M863.5 590.5h0M919 588.5h0M816 608.5h0M877 614h0M906 592h0M896.5 602h0M816.5 530h0M822 535.5h0M806 617h0M843.5 572h0M933.5 650.5h0M825 586.5h0M837.5 578h0M812 603.5h0M885.5 594h0M859.5 574h0M841.5 574.5h0M809 586.5h0M910.5 563h0M863.5 587h0M898.5 591h0M803.5 568h0M911.5 614h0M913.5 573h0M869 573h0M905 631.5h0M802 583.5h0M825.5 572h0M913 562h0M898.5 566.5h0M873 549.5h0M890 618h0M853 562.5h0M918.5 561.5h0M845 559.5h0M921 541.5h0M814.5 562h0M918 563.5h0M883 560h0M853 599.5h0M898 577.5h0M890.5 611.5h0M891.5 617.5h0M879.5 616h0M799.5 586h0M798.5 599h0M911 571.5h0M847.5 591.5h0M864.5 603.5h0M946 614h0M971.5 571.5h0M936.5 603h0M959.5 640.5h0M953.5 551.5h0M954 587.5h0M971 566.5h0M970 632.5h0M965.5 611.5h0M955 597.5h0M969.5 604.5h0M949 598.5h0M961 610h0M961.5 548.5h0M970 574h0M938 632h0M940.5 589.5h0M977.5 557.5h0M972 566.5h0M968 579.5h0M965 592h0M974 638h0M945 609h0M965.5 609h0M956 589.5h0M976 585.5h0M966.5 623h0M970 633.5h0M973 604h0M947 563.5h0M954 586.5h0M976.5 605.5h0M955 591h0M969 596h0M943 605.5h0M944 575h0M953.5 575.5h0M935 617h0M948.5 600.5h0M974 578.5h0M938.5 579.5h0M955.5 617.5h0M937 600h0M936 586h0M960.5 608h0M953 583.5h0M956 563.5h0M950.5 586.5h0M967 571.5h0M936 555h0M945.5 595h0M965 576.5h0M958.5 576.5h0M944.5 590.5h0M935.5 654h0M949 550.5h0M977 604h0M967.5 551h0M949 597.5h0M950.5 618h0M939.5 538h0M963 578h0M948.5 556.5h0M940.5 606h0M977 589h0M935.5 586.5h0M968 560h0M975.5 621.5h0M953 600h0M959.5 599h0M969 575h0M951 599h0M954.5 618.5h0M943 580.5h0M951 595h0M966.5 561h0M952 607h0M948 549h0M958 567.5h0M939.5 538h0M956 579.5h0M970 576h0M947 616h0M984 559.5h0M984.5 542.5h0M984.5 556.5h0M983.5 588h0M983.5 584h0M983.5 590.5h0M984 578h0M983.5 586h0M984 585.5h0M983.5 570.5h0M983.5 556.5h0M985 544h0M985 620h0M984 595h0M993 578h0M1008 594.5h0M996 624.5h0M1064 558h0M1059.5 571h0M1033 596h0M1006 560h0M988 593.5h0M1020 609h0M1061 565h0M1021 594h0M1045.5 563.5h0M1043.5 612h0M1020.5 560.5h0M1031 555h0M1017 586h0M1061 597h0M1058.5 574h0M1047 592.5h0M1042 612.5h0M992 556.5h0M995 622.5h0M1015.5 599h0M1063.5 576h0M994.5 572h0M1049.5 556h0M1039 582h0M992.5 619.5h0M1029 582h0M1037 577.5h0M1014 533.5h0M1007.5 569.5h0M1010 533h0M1021.5 562h0M1062 630h0M985.5 554h0M1019.5 595.5h0M1043 575.5h0M1015.5 536.5h0M1062.5 567h0M1053 623.5h0M1022 573h0M995 606h0M1035 579h0M1063 557h0M1040.5 582.5h0M1019.5 618h0M1059 537.5h0M1016.5 550.5h0M1024 589.5h0M1004.5 563h0M1005.5 541h0M990.5 583h0M1008 634h0M1010.5 544.5h0M1026 582h0M1036 596h0M998.5 585h0M988 548h0M1022 624.5h0M1061 603.5h0M986 570h0M1034.5 583.5h0M1045 567h0M1063 596.5h0M1047 565.5h0M1024 631.5h0M1064 579h0M1009 600h0M1039.5 582h0M1057 568h0M1057 600h0M1050.5 584h0M1037.5 557h0M1044.5 592.5h0M1015 570h0M986 579h0M1019 568h0M1007 588h0M1007 575h0M1056.5 564.5h0M993.5 575.5h0M1053.5 576.5h0M1054 568h0M1036 590h0M1059 557h0M1036 569.5h0M1007 592.5h0M1013.5 569h0M1036 619h0M1007.5 586h0M1059 536h0M1029 560h0M986 572.5h0M1011 572.5h0M1005 592.5h0M1050 566h0M1011.5 585h0M1030.5 586h0M1015 594h0M1028.5 576.5h0M987 579.5h0M1020 607h0M1008 631.5h0M993 607.5h0M990.5 589.5h0M1063 574h0M1056.5 594h0M1002.5 554.5h0M1019 613h0M988.5 552h0M1020.5 575.5h0M1018.5 543.5h0M1022 580.5h0M989.5 607.5h0M1008 606h0M1011.5 568.5h0M1020 596.5h0M1039.5 582h0M1032.5 608h0M1011 631h0M1058.5 558h0M1040.5 623h0M1046 584h0M1008 595.5h0M1004.5 577.5h0M1012 573.5h0M1002 604h0M1038 558.5h0M1021.5 572h0M1016 545h0M1020.5 554h0M1057.5 570.5h0M1025 583.5h0M991.5 599.5h0M1034.5 632.5h0M1029.5 577h0M993.5 572h0M997 596h0M986 558h0M1050.5 615h0M1008 592h0M1015 597h0M1011 546.5h0M1053 567.5h0M1023 584.5h0M989 576.5h0M1000.5 570.5h0M987 583h0M1032.5 551h0M1053 564h0M994 555.5h0M1028 623.5h0M1048 604.5h0M1004.5 576h0M1079 584h0M1073 610.5h0M1105.5 608.5h0M1068.5 612.5h0M1102 585h0M1093.5 551h0M1101.5 609h0M1090.5 581.5h0M1088.5 563h0M1068.5 598h0M1083.5 628.5h0M1105 606.5h0M1105 557.5h0M1081 579h0M1102.5 621h0M1104 577.5h0M1097.5 519.5h0M1106.5 594h0M1106.5 655.5h0M1100.5 559.5h0M1097.5 555.5h0M1101 603.5h0M1089 599h0M1102.5 596h0M1105 560h0M1097 595h0M1081 547.5h0M1081.5 583.5h0M1066.5 593h0M1074 633h0M1073.5 618h0M1106.5 561.5h0M1091 585.5h0M1083.5 573.5h0M1084.5 606.5h0M1090.5 556.5h0M1097 605.5h0M1070 593.5h0M1096 571h0M1099 565.5h0M1088 533.5h0M1105.5 625h0M1065.5 578h0M1091.5 610h0M1076.5 569h0M1106.5 572.5h0M1080 624.5h0M1102.5 532.5h0M1101 584.5h0M1088.5 552h0M1075 604.5h0M1089.5 598h0M1095 578h0M1095.5 582.5h0M1072.5 583h0M1082 595.5h0M1077 594.5h0M1089 564.5h0M1103 571.5h0M1072 599h0M1077.5 567.5h0M1095 534h0M1083.5 569h0M1089 518h0M1069 555.5h0M1102 546h0M1070.5 603.5h0M1091 564.5h0M1073 636.5h0M1100.5 561.5h0M1074 561h0M1107 608h0M1099 548h0M1072.5 561h0M1085 571h0M1102 592h0M1089 573.5h0M1092 550.5h0M1071.5 576h0M1119 631h0M1133.5 601.5h0M1181 535h0M1150 595h0M1155 589.5h0M1170 594h0M1125.5 626.5h0M1175.5 559h0M1122.5 627.5h0M1181.5 575.5h0M1155.5 580.5h0M1174.5 555.5h0M1140.5 576.5h0M1114.5 608h0M1156 578.5h0M1170.5 597.5h0M1169.5 623h0M1130.5 580h0M1173.5 538h0M1135 615.5h0M1148.5 586h0M1174.5 603h0M1140.5 610.5h0M1152.5 588h0M1168.5 602h0M1123 619.5h0M1122 566.5h0M1168 604h0M1179 544h0M1116 611.5h0M1155 578.5h0M1176.5 590h0M1138.5 602.5h0M1124 600h0M1181 553.5h0M1162.5 636h0M1162 547.5h0M1155.5 556h0M1165 601.5h0M1136.5 581h0M1170 602h0M1167 530h0M1148.5 583h0M1177.5 588h0M1168 588.5h0M1162 572.5h0M1163.5 601.5h0M1155 568.5h0M1132.5 601.5h0M1151.5 576.5h0M1119.5 570.5h0M1115.5 576.5h0M1173.5 567.5h0M1141.5 572h0M1140.5 579.5h0M1143.5 593h0M1186 600.5h0M1142.5 591.5h0M1153.5 566.5h0M1118.5 602h0M1173.5 545h0M1181 568h0M1169 561h0M1175.5 643.5h0M1128.5 573.5h0M1150.5 573h0M1119.5 613.5h0M1119 565.5h0M1132.5 604.5h0M1161.5 579.5h0M1122 615h0M1183.5 570h0M1174.5 604.5h0M1117 565h0M1161.5 559.5h0M1146.5 546.5h0M1186 562.5h0M1150 578h0M1171 577.5h0M1148.5 546.5h0M1167 593h0M1114.5 613.5h0M1134.5 632h0M1118 568.5h0M1131.5 595.5h0M1121.5 611h0M1120.5 612.5h0M1136 572.5h0M1155.5 595.5h0M1135.5 573.5h0M1174 542h0M1116.5 596.5h0M1149.5 584h0M1133 621h0M1152 599.5h0M1175.5 618h0M1127.5 634h0M1148 584h0M1168 554.5h0M1147.5 568.5h0M1144 611.5h0M1148 603h0M1171 579h0M1160.5 608.5h0M1172.5 570.5h0M1132.5 628h0M1165.5 582.5h0M1155.5 582.5h0M1145.5 551.5h0M1125 601.5h0M1135 616h0M1129.5 605.5h0M1172.5 575.5h0M1127.5 623.5h0M1149.5 603h0M1116 590.5h0M1149.5 551h0M1160.5 596h0M1128 589h0M1116.5 569.5h0M1130.5 604.5h0M1151 588h0M1179.5 588.5h0M1154.5 622h0M1163 542h0M1129 618h0M1155 574.5h0M1119 576h0M1139.5 581.5h0M1151.5 562h0M1136 625.5h0M1133.5 615h0M1180.5 577.5h0M1165.5 528h0M1154 581.5h0M1165.5 553h0M1184 575.5h0M1262 583.5h0M1285 609h0M1272.5 595h0M1218.5 553h0M1296 587h0M1195.5 610.5h0M1264.5 600h0M1220 584h0M1295.5 586h0M1202 541h0M1272 605.5h0M1237.5 572h0M1213 570.5h0M1238 604h0M1227 601h0M1231 585.5h0M1273.5 607.5h0M1190.5 640h0M1265 575h0M1278 565.5h0M1230 568.5h0M1279 576h0M1197 549h0M1266 575.5h0M1279.5 610.5h0M1188 614.5h0M1293.5 553.5h0M1251.5 554h0M1204.5 572h0M1187 562.5h0M1243 586.5h0M1278.5 609.5h0M1215 578.5h0M1289 600.5h0M1204.5 586h0M1279 592.5h0M1192.5 593h0M1297 548h0M1274 569.5h0M1190 577.5h0M1278.5 560h0M1237 550.5h0M1206.5 567.5h0M1197.5 571h0M1208.5 567h0M1209.5 610h0M1219 603.5h0M1212 573.5h0M1245 574h0M1233.5 530.5h0M1262.5 581.5h0M1242.5 559h0M1295.5 611.5h0M1242.5 577h0M1198 579h0M1221 600h0M1190.5 561.5h0M1222 586h0M1276.5 563h0M1282.5 591.5h0M1260 562h0M1232.5 561h0M1260.5 590h0M1266 560h0M1212.5 565.5h0M1275.5 588.5h0M1219.5 580.5h0M1226 549.5h0M1199.5 611.5h0M1235 584h0M1283 575.5h0M1257 605h0M1220 588.5h0M1223.5 623.5h0M1228 630.5h0M1295.5 599.5h0M1213 578.5h0M1202.5 613.5h0M1210 556.5h0M1192.5 638.5h0M1190.5 543h0M1273.5 591.5h0M1277.5 564.5h0M1280.5 559.5h0M1286.5 571h0M1203 585h0M1274.5 567.5h0M1250 582.5h0M1195.5 585.5h0M1229.5 590h0M1207 569h0M1258.5 553h0M1280 541.5h0M1246 575h0M1232 581h0M1203.5 601.5h0M1205 636h0M1257 580.5h0M1226 607.5h0M1218 574h0M1248.5 549.5h0M1233 583h0M1293.5 650.5h0M1218 570.5h0M1268.5 579.5h0M1257.5 573.5h0M1294 570.5h0M1277 586h0M1269 557.5h0M1260 612.5h0M1298 549h0M1297.5 619h0M1235 601h0M1292.5 616.5h0M1207 553h0M1266.5 578h0M1245.5 570.5h0M1287 610.5h0M1202 600h0M1263 584.5h0M1259.5 554.5h0M1192.5 553.5h0M1291.5 553h0M1254.5 583.5h0M1192.5 564h0M1203.5 603h0M1244 549h0M1216 579.5h0M1196 586h0M1276.5 603.5h0M1279.5 578.5h0M1262.5 589.5h0M1275.5 560h0M1241 599h0M1224.5 583h0M1255.5 566h0M1273 545h0M1216 619.5h0M1266 611.5h0M1213.5 573h0M1212.5 577h0M1224 575h0M1258.5 600h0M1258 588h0M1275 581.5h0M1239.5 605h0M1190 598h0M1241 592h0M1281 601.5h0M1200.5 606.5h0M1233 585h0M1295 600h0M1254.5 626.5h0M1211.5 590.5h0M1217.5 587h0M1223 546.5h0M1195.5 587h0M1211 613h0M1234 590h0M1194.5 545.5h0M1276 568.5h0M1270 555.5h0M1264.5 561h0M1212 580h0M1211 554.5h0M1274 582.5h0M1201.5 583h0M1234.5 568h0M1207.5 583h0M1254 559.5h0M1276.5 601h0M1271.5 581h0M1295 619h0M1270 563h0M1284 589.5h0M1274 590.5h0M1228 599h0M1205 553h0M1225.5 605h0M1285 580h0M1227.5 562h0M1210 622h0M1247.5 578.5h0M1263 544.5h0M1199 592h0M1197.5 586h0M1198.5 621h0M1241.5 572h0M1236 565h0M1281.5 558h0M1207.5 602.5h0M1234.5 604.5h0M1258.5 564h0M1281.5 576h0M1227 569.5h0M1236.5 614h0M1208 619h0M1234 590h0M1192 572h0M1197 598.5h0M1205 573.5h0M1297 586.5h0M1296.5 585.5h0M1293 627h0M1280 580.5h0M1250.5 579.5h0M1226 562.5h0M1225.5 555h0M1257.5 559h0M1208 605.5h0M1210 592.5h0M1198 616.5h0M1188.5 545h0M1323.5 556.5h0M1309 569.5h0M1319 613h0M1319.5 605.5h0M1306.5 579h0M1305 566h0M1300 553h0M1320.5 587.5h0M1301 536.5h0M1309.5 583.5h0M1321.5 549.5h0M1305 613h0M1300.5 576h0M1300.5 588h0M1326.5 601h0M1319 604.5h0M1299.5 622.5h0M1299.5 626.5h0M1309 587.5h0M1301 577h0M1305 566.5h0M1315 613.5h0M1310.5 593h0M1307.5 575h0M1298.5 626.5h0M1309.5 567.5h0M1304 624.5h0M1318.5 591.5h0M1312.5 569.5h0M1302.5 536.5h0M1302.5 570.5h0M1316.5 534h0M1326 609.5h0M1302 581h0M1317.5 596h0M1324 613.5h0M1310 590h0M1325.5 556.5h0M1314.5 589.5h0M1325.5 615.5h0M1326.5 591.5h0M1317.5 614h0M1321 602.5h0M1304.5 587h0M1325.5 597.5h0M1301.5 628.5h0M1313 557h0M1324 613h0M1321.5 631.5h0M1321.5 631h0M1312.5 541h0M1303.5 555h0M1298.5 577h0M1318.5 554h0M1310 620h0M1302 556h0M1326.5 600h0M1322.5 567h0M1325.5 583.5h0M1319.5 601h0M1305.5 616.5h0M1311.5 573h0M1308.5 607h0M1309.5 634.5h0M1312 621.5h0M1324 587.5h0M1318 586h0M1310 635h0M1299.5 582.5h0M1317 571h0M1311 591h0M1310.5 579h0M1307 619.5h0M1310.5 592.5h0M1306 564.5h0M1307.5 570.5h0M1374 599h0M1381 595h0M1365.5 563.5h0M1391 594.5h0M1373.5 576h0M1387 620h0M1384 596.5h0M1362 598.5h0M1381.5 584h0M1396.5 572h0M1368.5 576.5h0M1400.5 604h0M1394 626.5h0M1393 569h0M1379.5 623.5h0M1373.5 630.5h0M1380 582.5h0M1383 587h0M1395.5 599h0M1387 589h0M1386 541h0M1354.5 652h0M1385.5 584.5h0M1364.5 565.5h0M1403.5 620.5h0M1402 601.5h0M1403.5 589h0M1376 591h0M1387 622h0M1389.5 563.5h0M1404.5 585.5h0M1370 600h0M1406 615h0M1401 556h0M1386 585.5h0M1406 581h0M1362.5 590h0M1393 581h0M1401.5 583.5h0M1375 558.5h0M1371.5 563.5h0M1370 574h0M1388.5 594h0M1365 598h0M1396.5 574h0M1355 619.5h0M1390 609.5h0M1355.5 612.5h0M1375.5 616h0M1377 519h0M1353 603.5h0M1376 591.5h0M1393 593h0M1360 651h0M1358.5 566h0M1360 597h0M1384.5 580.5h0M1405 565.5h0M1365.5 593h0M1402.5 587.5h0M1356.5 587.5h0M1357 602.5h0M1383 602.5h0M1389 568.5h0M1354 601.5h0M1355 584h0M1387.5 616h0M1371.5 597h0M1360 581h0M1383.5 575.5h0M1376.5 553.5h0M1395 590.5h0M1367.5 602h0M1366 605h0M1373 629.5h0M1381.5 572.5h0M1353.5 586.5h0M1383 539.5h0M1402 564.5h0M1390.5 563h0M1353 607.5h0M1397 555.5h0M1392 582.5h0M1370 579h0M1384.5 615h0M1379.5 561.5h0M1371.5 596h0M1389 635.5h0M1403.5 567.5h0M1387 613h0M1379 577.5h0M1397.5 584h0M1395.5 576.5h0M1431 587.5h0M1431.5 585h0M1422.5 561.5h0M1421 584h0M1429 587.5h0M1408.5 582.5h0M1423 591.5h0M1432 609.5h0M1426.5 571h0M1429.5 578.5h0M1428 609.5h0M1431 533.5h0M1419 582h0M1434.5 609.5h0M1422.5 576.5h0M1430.5 588h0M1420 591.5h0M1432 583.5h0M1415.5 594h0M1417.5 608.5h0M1408 591.5h0M1408.5 616h0M1415.5 571h0M1412 611.5h0M1406.5 601h0M1411 584.5h0M1424 565.5h0M1435 562h0M1423.5 621h0M1424.5 593h0M1423 585.5h0M1433 574.5h0M1413.5 584h0M1407 604h0M1407 563.5h0M1418.5 594h0M1423 585h0M1413 580h0M1411 554h0M1415.5 557.5h0M1424 573.5h0M1407.5 589.5h0M1423 582.5h0M1427.5 579.5h0M1410 551h0M1418.5 560h0M1416.5 644h0M1414.5 618.5h0M1407 561.5h0M1416 608h0M1428.5 593h0M1406 616h0M1411.5 582h0M1427.5 572.5h0M1406.5 549.5h0M1416.5 539h0M1412 554.5h0M1414 586.5h0M1479.5 584.5h0M1505.5 595.5h0M1474.5 589.5h0M1450.5 583.5h0M1447.5 593h0M1460 614h0M1463 625.5h0M1472 586.5h0M1461.5 581.5h0M1460 532h0M1470.5 610.5h0M1476.5 545.5h0M1459.5 592h0M1506.5 595.5h0M1442 549.5h0M1473.5 609h0M1475.5 569h0M1481.5 578h0M1492.5 555.5h0M1489 590h0M1454.5 586h0M1445.5 606h0M1503 599.5h0M1475 589h0M1483.5 589h0M1481 595.5h0M1472 593.5h0M1508.5 599.5h0M1485.5 594h0M1478 577.5h0M1501.5 594.5h0M1504.5 567h0M1462 592.5h0M1508.5 563h0M1463.5 557.5h0M1468 583h0M1447.5 584.5h0M1446.5 549.5h0M1463 590.5h0M1493 586.5h0M1464 546.5h0M1506.5 620h0M1449.5 561h0M1476 588.5h0M1446 555h0M1496.5 578h0M1480.5 584h0M1482.5 595.5h0M1496.5 570.5h0M1468.5 579h0M1476 612.5h0M1453.5 630h0M1493.5 587h0M1502.5 593h0M1497 608h0M1454 579h0M1476 622h0M1463.5 610.5h0M1467.5 603.5h0M1458 602.5h0M1496 583h0M1457.5 594.5h0M1464 583h0M1489.5 534.5h0M1503 558h0M1476.5 598h0M1444 610.5h0M1468.5 600h0M1457 562h0M1457.5 560h0M1479 620.5h0M1473.5 577.5h0M1450 577h0M1457.5 614.5h0M1477.5 559.5h0M1507.5 567.5h0M1475.5 588.5h0M1446.5 584.5h0M1488.5 569.5h0M1472 601h0M1466.5 601h0M1477 535.5h0M1461 605.5h0M1486.5 575h0M1483 584h0M1459 569.5h0M1447 590h0M1446 597.5h0M1461.5 594.5h0M1467 594.5h0M1468 568.5h0M1449 555.5h0M1468 597h0M1468.5 587h0M1507.5 599.5h0M1452.5 563h0M1470 564h0M1483.5 552.5h0M1476.5 582.5h0M1508.5 568h0M1493.5 569.5h0M1505.5 592.5h0M1449 591h0M1458 592h0M1483 578h0M1440 594h0M1464 583h0M1474.5 557h0M1442 557.5h0M1483 578.5h0M1495 569.5h0M1465.5 577h0M1492.5 574h0M1448 573.5h0M1502 579.5h0M1455.5 565.5h0M1481.5 615h0M1465 601h0M1475 603.5h0M1484.5 571h0M1474.5 604h0M1507.5 583.5h0M1505 583h0M1449 581h0M1440 574.5h0M1492 571h0M1441.5 602.5h0M1507.5 606.5h0M1467.5 592.5h0M1490 585.5h0M1463.5 568h0M1444.5 537h0M1478 566h0M1486.5 573h0M1486.5 553.5h0M1458.5 575.5h0M1471 554.5h0M1452.5 563h0M1468 573.5h0M1509 594.5h0M1545.5 564.5h0M1518 591h0M1510.5 584.5h0M1570.5 516.5h0M1518 591h0M1581.5 589.5h0M1537.5 550.5h0M1561.5 572h0M1524.5 575h0M1517.5 570h0M1565.5 577h0M1517.5 606.5h0M1571 595h0M1564.5 597.5h0M1515 590h0M1547 641h0M1532 594h0M1549.5 575.5h0M1562.5 570.5h0M1576.5 625h0M1541 541.5h0M1582 600.5h0M1576 578.5h0M1563.5 626.5h0M1547.5 620h0M1518.5 567h0M1595.5 586.5h0M1607 608.5h0M1583 580.5h0M1559 529.5h0M1538 569.5h0M1515.5 582.5h0M1590.5 563.5h0M1513.5 558.5h0M1576 627h0M1512 635.5h0M1518.5 601.5h0M1550 648h0M1581.5 606h0M1568 630.5h0M1552.5 569h0M1513.5 568h0M1551.5 609.5h0M1548.5 626.5h0M1538 570h0M1589.5 578h0M1515.5 577.5h0M1548 615h0M1562.5 585.5h0M1515.5 580h0M1603 570h0M1569 587.5h0M1531.5 599h0M1550 585h0M1597 595h0M1540 579.5h0M1584 617h0M1566.5 610h0M1578 559h0M1543.5 639.5h0M1527 552h0M1567 632h0M1597.5 585.5h0M1556 582h0M1598 629.5h0M1589 582.5h0M1564.5 533h0M1513 607h0M1533 614h0M1529.5 623h0M1610 616.5h0M1598 575.5h0M1565 533h0M1603 574h0M1516 595.5h0M1522.5 607h0M1609 598h0M1539 612h0M1611 605.5h0M1511 607.5h0M1512.5 606h0M1576 579.5h0M1592.5 591h0M1610.5 572h0M1524 559.5h0M1529.5 563h0M1574.5 574h0M1548.5 579h0M1529.5 606.5h0M1568 621h0M1528.5 543h0M1583.5 608h0M1536 551.5h0M1605 559h0M1523.5 601h0M1580.5 571.5h0M1607.5 586h0M1512 595.5h0M1609.5 626.5h0M1542 611.5h0M1595.5 614h0M1528 564h0M1584.5 551.5h0M1520.5 568h0M1558 561.5h0M1525 582h0M1566.5 555.5h0M1600.5 565h0M1542.5 530h0M1536 601.5h0M1522 617h0M1589.5 565.5h0M1537.5 618.5h0M1590 554.5h0M1568 645.5h0M1541 598.5h0M1512.5 574.5h0M1601.5 582h0M1526 579h0M1597.5 548h0M1537.5 584h0M1589 566h0M1568.5 646.5h0M1571.5 614h0M1584 590h0M1580 565h0M1581 595.5h0M1524 603.5h0M1510.5 585h0M1551 646.5h0M1588.5 592.5h0M1568 635.5h0M1599.5 578h0M1559.5 584.5h0M1567 587h0M1584.5 602h0M1572 586h0M1531 573.5h0M1539.5 582h0M1602 601h0M1554.5 586.5h0M1559 546h0M1604 585.5h0M1574 577.5h0M1585 545.5h0M1519.5 595.5h0M1547.5 586h0M1546.5 595h0M1583 585h0M1560.5 619.5h0M1581.5 616h0M1599.5 585.5h0M1523.5 573h0M1565.5 615.5h0M1607 629.5h0M1592 567.5h0M1612 584h0M1596 580h0M1530.5 556h0M1588 609h0M1543.5 591.5h0M1595 585h0M1578 569.5h0M1565 555.5h0M1596.5 629h0M1609 612h0M1620.5 575h0M1634 585h0M1613 567.5h0M1615.5 571.5h0M1616.5 610h0M1627 580.5h0M1613.5 558.5h0M1638.5 576.5h0M1626 573.5h0M1635.5 561h0M1616 622.5h0M1632 605.5h0M1636.5 582h0M1638 566.5h0M1636.5 567h0M1613.5 562.5h0M1624.5 571h0M1618 585.5h0M1632.5 584.5h0M1618.5 592.5h0M1614 644.5h0M1638 630.5h0M1616.5 589.5h0M1613.5 558.5h0M1613.5 580.5h0M1622.5 586h0M1624.5 557.5h0M1630.5 580h0M1619.5 631h0M1615 601h0M1638.5 547.5h0M1620.5 567h0M1615 614.5h0M1615 596.5h0M1629.5 580h0M1632.5 575.5h0M1634.5 625h0M1614.5 583h0M1634.5 556.5h0M1620.5 545h0M1629.5 582h0M1623.5 605.5h0M1625.5 583h0M1626.5 603h0M1637.5 573h0M1618.5 603h0M1615.5 592.5h0M1617 579h0M1673.5 581.5h0M1688.5 615h0M1673.5 597h0M1693.5 582h0M1709 543.5h0M1689 568.5h0M1648.5 574h0M1706 581h0M1658 582h0M1659.5 566.5h0M1697.5 576.5h0M1683.5 591.5h0M1677.5 562.5h0M1674 601h0M1657 554.5h0M1651 626h0M1651.5 565.5h0M1698.5 594h0M1655 575h0M1700.5 570.5h0M1669 554.5h0M1658.5 601h0M1660.5 587.5h0M1658.5 596h0M1698 584.5h0M1701 606.5h0M1669.5 566h0M1643.5 591h0M1652.5 623h0M1642.5 628h0M1701 608h0M1670.5 623h0M1656.5 575.5h0M1656 593h0M1658.5 586.5h0M1703 572.5h0M1664 596.5h0M1688 617.5h0M1673 588.5h0M1652.5 601h0M1656 606.5h0M1711 567h0M1693.5 610.5h0M1676 616.5h0M1645.5 611.5h0M1688.5 577h0M1689.5 648.5h0M1649 583.5h0M1658.5 588.5h0M1643.5 570.5h0M1668.5 624.5h0M1708.5 650h0M1669.5 558h0M1656 602h0M1710.5 619h0M1675.5 627h0M1644 568.5h0M1645 580h0M1676.5 576.5h0M1645.5 581.5h0M1677.5 574h0M1663.5 589h0M1665 608h0M1700 591.5h0M1696.5 586h0M1690 537h0M1685.5 580.5h0M1648.5 615.5h0M1701 563.5h0M1704 561.5h0M1662.5 566h0M1706.5 613h0M1677.5 620.5h0M1682.5 568.5h0M1648.5 574.5h0M1643 568.5h0M1704.5 580.5h0M1644.5 615h0M1697 553h0M1686 584.5h0M1664 631.5h0M1658 605.5h0M1662.5 594h0M1662 614h0M1666 589.5h0M1706 572.5h0M1684 616.5h0M1688.5 587h0M1711 572.5h0M1686 597.5h0M1698 589.5h0M1643.5 636.5h0M1662.5 608h0M1691.5 559h0M1701 612.5h0M1696.5 571h0M1659 615.5h0M1694 567h0M1676 564h0M1642.5 573.5h0M1706 645.5h0M1676.5 572.5h0M1680 627h0M1697.5 574h0M1648 605.5h0M1672 607.5h0M1670 552.5h0M1676.5 598h0M1697.5 585h0M1646 544.5h0M1666.5 584h0M1665 573h0M1653 581.5h0M1675 588h0M1660.5 579h0M1706.5 583h0M1661.5 560h0M1683.5 604.5h0M1657 610h0M1643 584.5h0M1664.5 592h0M1695 581.5h0M1672 551.5h0M1655.5 613h0M1650.5 586h0M1688 598.5h0M1683.5 576h0M1666 567.5h0M1643.5 609.5h0M1697.5 569h0M1663.5 602h0M1661.5 593.5h0M1649.5 590h0M1693 574h0M1646 575h0M1699 589.5h0M1688 627h0M1672 610.5h0M1701.5 556h0M1700.5 618h0M1681.5 574h0M1690 576h0M1709.5 553h0M1699.5 584h0M1645 604.5h0M1662 601h0M1648.5 584h0M1711.5 601h0M1670 569.5h0M1647.5 566.5h0M1678.5 590.5h0M1651 588h0M1657.5 585.5h0M1658.5 593h0M1698.5 613h0M1692.5 562h0M1678.5 632h0M1663 553h0M1683 624h0M1644.5 624h0M1681.5 603h0M1675 599h0M1675.5 621h0M1674 555h0M1684.5 581.5h0M1676 629h0M1662.5 605.5h0M1660.5 602.5h0M1643.5 577h0M1652.5 589h0M1708.5 573.5h0M1660 585.5h0M1657.5 623h0M1698.5 632.5h0M1652.5 554.5h0M1699 558h0M1781 597.5h0M1778.5 603h0M1733 558.5h0M1764 580.5h0M1738.5 568h0M1750 574.5h0M1774.5 550h0M1756.5 573.5h0M1798.5 583.5h0M1744.5 553h0M1767.5 591.5h0M1772 621.5h0M1766.5 558h0M1776.5 570h0M1782.5 612.5h0M1784 594.5h0M1758.5 533.5h0M1769.5 565.5h0M1769 556h0M1734 625h0M1770 587h0M1768.5 586.5h0M1780 557.5h0M1759.5 583h0M1746 572.5h0M1758 584h0M1746 552h0M1785 573.5h0M1768 557.5h0M1739.5 595.5h0M1784 600.5h0M1796 589h0M1751.5 551.5h0M1766 549.5h0M1754.5 597.5h0M1798.5 571.5h0M1797.5 543h0M1772.5 577h0M1754 555.5h0M1792.5 601.5h0M1767 626h0M1737 570h0M1762.5 608h0M1745.5 535.5h0M1742.5 545h0M1777 600h0M1751 543h0M1783.5 576h0M1790 556h0M1787 568.5h0M1779 597.5h0M1758.5 613h0M1795.5 578h0M1761 566.5h0M1790.5 592h0M1740 593.5h0M1795 601h0M1740 586h0M1766.5 630.5h0M1755 581.5h0M1761.5 583.5h0M1792 603h0M1753 600h0M1797.5 615h0M1784.5 576.5h0M1769 596.5h0M1766 601h0M1763.5 588.5h0M1767.5 619.5h0M1758 586.5h0M1763.5 571h0M1763.5 544.5h0M1743.5 589.5h0M1778 583h0M1769 559.5h0M1750 614h0M1799 558h0M1748 548h0M1750 568h0M1739.5 534h0M1763.5 543h0M1782.5 567.5h0M1760 523h0M1766.5 575h0M1774.5 602.5h0M1785.5 608.5h0M1799.5 550.5h0M1781.5 594.5h0M1761 551h0M1735 537h0M1749.5 581h0M1776 576h0M1786 557.5h0M1761 546.5h0M1765 603.5h0M1739.5 582h0M1761.5 635h0M1790 603h0M1760 531.5h0M1759 580.5h0M1742.5 622h0M1765 541.5h0M1772.5 559.5h0M1779 634.5h0M1787 587h0M1774 564.5h0M1785 550.5h0M1746 590h0M1780.5 572.5h0M1793 538.5h0M1787 631.5h0M1733.5 593h0M1766 567.5h0M1755 555.5h0M1780.5 537.5h0M1737.5 558h0M1738.5 578h0M1747.5 548h0M1800.5 585h0M1753 574h0M1794.5 582.5h0M1741 568.5h0M1779.5 596h0M1754.5 552h0M1759.5 567.5h0M1742 565.5h0M1743 577h0M1854 551h0M1853.5 587h0M1847 554h0M1843.5 603h0M1861.5 567.5h0M1874.5 595.5h0M1865 589.5h0M1824 587h0M1858 555.5h0M1859.5 600.5h0M1825 567h0M1823.5 600.5h0M1875.5 587.5h0M1839.5 604h0M1878.5 571h0M1829.5 597h0M1820.5 615h0M1838 576h0M1854 581h0M1852.5 573.5h0M1826 644.5h0M1852.5 565h0M1870.5 566.5h0M1854 575.5h0M1842 579h0M1881.5 610.5h0M1865.5 565.5h0M1880.5 629.5h0M1831.5 574.5h0M1846 551h0M1881 591.5h0M1836.5 603.5h0M1824 588.5h0M1863 594.5h0M1865.5 571.5h0M1844.5 570.5h0M1857 564h0M1880.5 535h0M1864 592.5h0M1855.5 594.5h0M1824.5 579h0M1863 610.5h0M1840.5 607h0M1860.5 606.5h0M1824.5 604h0M1830.5 627h0M1826 582.5h0M1852 589h0M1877 570.5h0M1878.5 610h0M1868 562h0M1833 567.5h0M1871 581.5h0M1873 619h0M1863.5 597.5h0M1866.5 599.5h0M1878.5 579.5h0M1837 547.5h0M1843.5 582h0M1827.5 536h0M1870.5 582h0M1825.5 593h0M1823.5 603h0M1864.5 566.5h0M1880.5 637.5h0M1853 570h0M1824 580.5h0M1869.5 608.5h0M1859.5 606h0M1837 605.5h0M1873.5 603.5h0M1857 550.5h0M1865.5 588.5h0M1860.5 571h0M1867.5 569.5h0M1854 554h0M1881.5 586h0M1848 568.5h0M1832 575h0M1847 556.5h0M1826 633.5h0M1849.5 581h0M1831.5 586h0M1848.5 648.5h0M1862.5 584h0M1853 603h0M1865.5 602.5h0M1861 557.5h0M1843.5 603.5h0M1877 559h0M1874 592.5h0M1828.5 618h0M1868.5 630h0M1829.5 582h0M1833.5 625h0M1835.5 629.5h0M1843 610.5h0M1856.5 606h0M1876.5 579.5h0M1855.5 591.5h0M1846 613.5h0M1858.5 624.5h0M1872 607.5h0M1829.5 629.5h0M1827 564.5h0M1827.5 585h0M1877.5 608h0M1874 605h0M1845.5 567h0M1821 614.5h0M1879 611.5h0M1877 617.5h0M1850 575.5h0M1872 627h0M1857.5 591.5h0M1845.5 609.5h0M1838 542h0M1864.5 592h0M1829 588h0M1877 593h0M1832.5 587.5h0M1831 563.5h0M1833 590.5h0M1833 583h0M1844.5 561h0M1940.5 562.5h0M1958.5 583.5h0M1946.5 578.5h0M1918 545h0M1945.5 591h0M1938.5 603h0M1953 573.5h0M1950 608.5h0M1910 590.5h0M1920.5 544.5h0M1939.5 597.5h0M1939 537.5h0M1911 568.5h0M1961 569.5h0M1916.5 590.5h0M1926 612.5h0M1941 581.5h0M1956 576h0M1905.5 594.5h0M1914 572h0M1936 583.5h0M1923.5 602.5h0M1930.5 547.5h0M1955.5 562.5h0M1959 594h0M1936.5 574h0M1927.5 564h0M1950 592.5h0M1922 603h0M1912 571.5h0M1919 564.5h0M1939 589h0M1923 580h0M1927 605h0M1913.5 634h0M1916 548.5h0M1959.5 617.5h0M1953 563h0M1903.5 611h0M1926 596h0M1930.5 601h0M1934 583h0M1932 594.5h0M1935 559h0M1921 620h0M1961.5 600h0M1961.5 594h0M1910.5 553.5h0M1903.5 605.5h0M1955 591h0M1954 588.5h0M1909 591h0M1951.5 599.5h0M1929.5 594.5h0M1948 629h0M1910.5 560h0M1942.5 616.5h0M1928.5 612.5h0M1932.5 586.5h0M1938.5 569.5h0M1931.5 621h0M1962 597.5h0M1925.5 584h0M1946 586.5h0M1908 614h0M1907.5 586h0M1919.5 545.5h0M1905.5 598.5h0M1940.5 588.5h0M1950.5 585h0M1958 540.5h0M1945 583.5h0M1934 563.5h0M1946.5 553.5h0M1951.5 563h0M1948.5 569h0M1928.5 585h0M1942 574h0M1926 608.5h0M1916.5 630h0M1914 606h0M1923.5 548.5h0M1919 647.5h0M1934.5 594h0M1925 580h0M1958.5 596h0M1921.5 597.5h0M1905 586.5h0M1922 616.5h0M1918 609h0M1924.5 584.5h0M1913.5 565h0M1934.5 570h0M1933 569.5h0M1947 589h0M1929.5 557h0M1904 615h0M1905.5 594.5h0M1929.5 626h0M1950.5 570.5h0M1924.5 584.5h0M1956 582.5h0M1959.5 586h0M1917.5 552.5h0M1917.5 534h0M1921.5 592h0M1912.5 562h0M1943.5 532h0M1945 613h0M1937 566.5h0M1986.5 550.5h0M1979.5 593.5h0M1972 596h0M1983 560.5h0M1972.5 610h0M1973.5 574h0M1967 566.5h0M1979.5 564.5h0M1984 614.5h0M1983.5 600.5h0M1974.5 581h0M1969 630h0M1984.5 560h0M1976 658h0M1976.5 531.5h0M1985.5 567h0M1985 587h0M1986.5 531h0M1982 567h0M1964.5 604h0M1978.5 598h0M1972 589.5h0M1979.5 598h0M1984.5 612.5h0M1979.5 577h0M1975.5 609h0M1974.5 544h0M1965.5 588h0M1972 595h0M1965 540h0M1969 585h0M1980.5 560.5h0M1963.5 565h0M1981.5 605.5h0M1982 558h0M1970 597.5h0M1970.5 590.5h0M1970.5 609.5h0M1981 571.5h0M1967 617.5h0M1976.5 549.5h0M1966.5 587h0M1967.5 616h0M1981 602.5h0M1984 615.5h0M1981.5 591h0M2031.5 598.5h0M2015.5 566h0M2017 573.5h0M2024 582.5h0M2005.5 549.5h0M2003 580h0M2031.5 605.5h0M2011 636.5h0M2022.5 541.5h0M2025.5 572.5h0M2029 587h0M2023.5 574h0M2024.5 601.5h0M2005 606h0M2025 614h0M2009.5 609h0M2028.5 591.5h0M2013.5 592.5h0M2031 566.5h0M2001 610h0M2028.5 581h0M2009.5 618.5h0M2011.5 570.5h0M2007.5 591.5h0M2011.5 641h0M2011 599h0M2014 575.5h0M2005 573.5h0M2028.5 607h0M2031 633h0M2025.5 590.5h0M2031 628.5h0M2028 623h0M2005.5 570.5h0M2002.5 633h0M2012 575h0M2022.5 598.5h0M2023 583.5h0M2020 590.5h0M2031.5 600h0M2011 622h0M2018 609.5h0M2032 602h0M2021.5 585.5h0M2003 598h0M2030 614.5h0M2020.5 607.5h0M2014 623.5h0M2007 601.5h0M2020 624.5h0M2024 576.5h0M2003 608h0M2003.5 617h0M2026 618h0M2001 559h0M2007.5 602h0M2031.5 566h0M2016.5 593.5h0M2007.5 609h0M2006.5 602h0M2026 572h0M2019.5 592.5h0M2017 585.5h0M2016.5 587h0M2013 600h0M2012.5 628h0M2010.5 609h0M2028 612.5h0M2020 553h0M2027.5 611.5h0M2035.5 585.5h0M2048 586.5h0M2041.5 600.5h0M2048 602h0M2044.5 640h0M2039 610h0M2038.5 607.5h0M2037.5 602.5h0M2040 662.5h0M2035 598.5h0M2041 575.5h0M2039.5 666h0M2032.5 592h0M2047 632h0M2040 635h0M2045.5 583.5h0M2049 623h0M2033.5 611h0M2035.5 623.5h0M2045 583h0M2043 657h0M2041.5 631h0M2033.5 624h0M2040 605h0M2042.5 559.5h0M2038 620h0M2043.5 617.5h0M2033.5 620h0M2035.5 588.5h0M2045 654.5h0M2049 593.5h0M2049 605.5h0M2049.5 625h0M2038 589.5h0M2039 547h0M2056.5 589.5h0M2058 572h0M2067.5 559.5h0M2083.5 575.5h0M2079.5 570h0M2056.5 585.5h0M2076.5 578.5h0M2054 585h0M2059 623.5h0M2070.5 567.5h0M2093 592.5h0M2060 560.5h0M2085.5 607.5h0M2059 634h0M2081.5 568.5h0M2093 588.5h0M2075.5 621.5h0M2053.5 614h0M2065.5 622.5h0M2056.5 598.5h0M2056.5 606.5h0M2060 606h0M2064 604.5h0M2080.5 662.5h0M2067 615.5h0M2085 565.5h0M2061 597.5h0M2072.5 601.5h0M2085.5 607.5h0M2052 655h0M2064 599h0M2071.5 606.5h0M2054 614.5h0M2084.5 559h0M2058.5 596.5h0M2087.5 598h0M2080.5 576.5h0M2069.5 604h0M2054.5 570h0M2090.5 601.5h0M2088 595h0M2086.5 640h0M2091.5 634.5h0M2058.5 570h0M2072 574h0M2050.5 592.5h0M2056 609.5h0M2084.5 584h0M2077.5 581h0M2053 586.5h0M2075 588.5h0M2061 612h0M2067 588.5h0M2086.5 652h0M2087.5 638h0M2059 629.5h0M2066 595.5h0M2075.5 622h0M2072 583.5h0M2084.5 555.5h0M2076 560h0M2076 656.5h0M2074.5 609.5h0M2063 591.5h0M2082.5 605h0M2082.5 616.5h0M2086.5 565.5h0M2072 587.5h0M2082 571.5h0M2089 655.5h0M2058.5 578.5h0M2094 560h0M2102.5 564h0M2098 578.5h0M2097 564h0M2094.5 588h0M2100.5 570.5h0M2103.5 563.5h0M2095 590.5h0M2094.5 608h0M2101.5 542.5h0M2104 600.5h0M2103 584h0M2104 601.5h0M2097.5 587.5h0M2103.5 530.5h0M2102.5 574h0M2100.5 625h0M2124.5 573h0M2138 571.5h0M2128.5 631h0M2122.5 581h0M2146.5 563.5h0M2111.5 570h0M2141.5 573h0M2129.5 568h0M2120.5 603.5h0M2130.5 607h0M2141.5 562.5h0M2134.5 568.5h0M2124.5 597h0M2150.5 597.5h0M2111.5 577.5h0M2116 574.5h0M2140.5 585.5h0M2121 584h0M2119 586.5h0M2135.5 569.5h0M2151 638h0M2135.5 627h0M2125 573.5h0M2116.5 619.5h0M2124.5 581h0M2136.5 589h0M2152 558.5h0M2128 590h0M2127.5 570.5h0M2122.5 572h0M2134 612.5h0M2131 585h0M2153.5 551.5h0M2132.5 584.5h0M2116.5 572.5h0M2130.5 611.5h0M2131.5 589.5h0M2125 607.5h0M2139.5 578.5h0M2129 592h0M2140 571.5h0M2130.5 583h0M2120.5 580.5h0M2137 619h0M2125 599.5h0M2136 587h0M2117.5 561.5h0M2145 579.5h0M2139 594h0M2128 597h0M2121 538h0M2112.5 584.5h0M2135 578h0M2137 569h0M2109.5 588.5h0M2139.5 586.5h0M2151 567.5h0M2130 573.5h0M2119 579h0M2127.5 624h0M2141 599h0M2139 574.5h0M2135.5 587h0M2117.5 523.5h0M2150.5 620h0M2130.5 600h0M2117.5 588.5h0M2141.5 586h0M2125 588.5h0M2149 547h0M2118.5 542h0M2117.5 571h0M2133 593h0M2149 560.5h0M2113.5 548h0M2138 612.5h0M2151.5 558h0M2148.5 580h0M2151.5 555.5h0M2126 597.5h0M2119 635.5h0M2125.5 579.5h0M2142.5 595.5h0M2132 597h0M2132.5 583.5h0M2134 585h0M2135.5 601.5h0M2124 558.5h0M2147.5 557.5h0M2152 562.5h0M2147 587h0M2162 666.5h0M2162.5 606h0M2163 587h0M2170.5 609.5h0M2167.5 647.5h0M2161.5 617h0M2162.5 628h0M2163 586h0M2156.5 627h0M2160.5 604h0M2158.5 623h0M2167.5 608h0M2163 625.5h0M2157.5 586.5h0M2158 633h0M2164.5 624h0M2158.5 637h0M2169.5 614h0M2161.5 602.5h0M2157.5 619.5h0M2155 597h0M2162.5 615h0M2160 609h0M2169.5 591h0M2170 614.5h0M2159 574h0M2163 626.5h0M2159 593h0M2154 591.5h0M2170 581.5h0M2155 636.5h0M2156 606.5h0M2162.5 648h0M2158 606h0M2166.5 587.5h0M2168.5 644h0M2156 648h0M2164 617h0M2160.5 595h0M2162 605.5h0M2165.5 607h0M2196 589h0M2198.5 617h0M2183 630h0M2180.5 615h0M2193.5 581h0M2185.5 590h0M2187.5 594h0M2185.5 679h0M2186.5 601.5h0M2197.5 607.5h0M2194.5 602h0M2181 601h0M2186.5 593h0M2195.5 606h0M2198.5 619h0M2184.5 601.5h0M2187.5 635.5h0M2188.5 588.5h0M2180.5 615.5h0M2179.5 588.5h0M2183.5 622.5h0M2196.5 612h0M2196.5 593h0M2183.5 605h0M2195.5 634h0M2191 649.5h0M2191.5 579h0M2188 624.5h0M2179 612.5h0M2198 616h0M2180 613.5h0M2182 631.5h0M2185 646h0M2195.5 605.5h0M2190 622.5h0M2195.5 616h0M2189.5 613h0M2198.5 592.5h0M2192 625h0M2180.5 642h0M2187.5 604.5h0M2181.5 637.5h0M2186 669.5h0M2183.5 620h0M2206.5 593h0M2215 599h0M2204 595h0M2211.5 571.5h0M2199 603.5h0M2210 538h0M2216 560.5h0M2217.5 579.5h0M2217 560h0M2206.5 562.5h0M2203 585.5h0M2208.5 567h0M2205.5 575.5h0M2202 594h0M2216.5 547.5h0M2201.5 612.5h0M2202.5 578.5h0M2202.5 564h0M2207.5 554.5h0M2205.5 565h0M2217 613.5h0M2199.5 596h0M2214.5 580h0M2206 572h0M2215 574h0M2207 585h0M2209.5 566.5h0M2215.5 573.5h0M2210.5 563h0M2213 612h0M2202.5 609h0M2200 582.5h0M2206 587h0M2208 576h0M2213 602h0M2216 556.5h0M2206.5 578.5h0M2208 609h0M2210.5 564.5h0M2214.5 606h0M2210 569.5h0M2207 566.5h0M2212.5 583h0M2208 565h0M2203 577h0M2232 587h0M2233 631h0M2236.5 596h0M2234.5 605.5h0M2241.5 617h0M2236 539.5h0M2226 603h0M2234.5 585h0M2225.5 613.5h0M2232.5 553h0M2225.5 567.5h0M2236 569h0M2230 602.5h0M2228.5 582.5h0M2241 602h0M2229.5 616.5h0M2242.5 584.5h0M2238.5 586.5h0M2239 594h0M2235.5 591.5h0M2230.5 637h0M2224 599h0M2224 581.5h0M2235 606.5h0M2234.5 555h0M2231.5 561.5h0M2231 567h0M2228.5 617.5h0M2235.5 615.5h0M2242.5 570h0M2231 601h0M2232.5 655.5h0M2224.5 561h0M2241 603h0M2239 591h0M2235 555h0M2223.5 608.5h0M2241 549h0M2240 616h0M2231 613h0M2235 531.5h0M2229 608h0M2240.5 530.5h0M2229 597h0M2238.5 576.5h0M2231 597.5h0M2224 590h0M2240 649h0M2224.5 584.5h0M2230.5 623.5h0M2266.5 610h0M2259.5 581.5h0M2279 523.5h0M2266.5 595.5h0M2261 579h0M2280.5 567h0M2282.5 585h0M2264 583h0M2280.5 580h0M2280.5 592h0M2284 583h0M2279 601.5h0M2281.5 589h0M2267.5 553.5h0M2263.5 565.5h0M2259 561.5h0M2276.5 581h0M2260 593h0M2275.5 536h0M2262 563.5h0M2259.5 561.5h0M2283 589.5h0M2277.5 588.5h0M2262 594h0M2261 570.5h0M2266.5 529.5h0M2284 586.5h0M2261.5 585h0M2275.5 564h0M2283 554h0M2267.5 601h0M2279 565.5h0M2265.5 592h0M2263.5 547.5h0M2279.5 601h0M2284.5 565h0M2276.5 570.5h0M2270.5 584h0M2277 609h0M2272 568.5h0M2278.5 595h0M2267 589h0M2281 546.5h0M2261 570.5h0M2259.5 601h0M2268 597.5h0M2284 553.5h0M2283.5 589h0M2264.5 575h0M2282 622.5h0M2275 546.5h0M2274.5 590.5h0M2263 564h0M2264.5 634.5h0M2263.5 602h0M2301 664h0M2299.5 641.5h0M2308 710.5h0M2309 703h0M2302 617h0M2314.5 659.5h0M2315 677.5h0M2310.5 619.5h0M2309.5 651.5h0M2304.5 640.5h0M2300 652h0M2313.5 643.5h0M2311 695h0M2315 685.5h0M2312.5 653h0M2310 675.5h0M2311.5 654h0M2313.5 670h0M2302.5 652.5h0M2315.5 671.5h0M2310 666h0M2313.5 688h0M2314.5 661.5h0M2307.5 665h0M2298.5 615h0M2300.5 645.5h0M2306.5 647h0M2311.5 667h0M2307.5 667h0M2302.5 657.5h0M2301 669.5h0M2300.5 627h0M2299 627.5h0M2308.5 664h0M2301.5 664h0M2315 667.5h0M2317 627.5h0M2322.5 650h0M2321.5 665.5h0M2323.5 649.5h0M2319 645h0M2323 675.5h0M2324 663.5h0M2317.5 625.5h0M2323.5 671.5h0M2317.5 668.5h0M2322.5 657h0M2317 643.5h0M2320 661h0M2320.5 658.5h0M2323 619h0M2324 617h0M2324 613.5h0M2317 643h0M2320 633h0M2321.5 653h0M2317 650.5h0M2323.5 665.5h0M2317 627h0M2317 667h0M2321 696h0M2319.5 656.5h0M2316 654h0M2324.5 627.5h0M2319.5 657.5h0M2316.5 637h0M2320 671.5h0M2317 658.5h0M2324 655h0M2320.5 659.5h0M2323.5 644h0M2321 683.5h0M2318.5 633.5h0M2431 530.5h0M2395.5 539.5h0M2423 585h0M2383 543.5h0M2384.5 590h0M2426.5 530h0M2370 522h0M2433 519.5h0M2357.5 531h0M2377.5 536h0M2346 535.5h0M2432.5 568.5h0M2356.5 526.5h0M2427 525h0M2336 520.5h0M2414 528h0M2393.5 531.5h0M2379.5 563.5h0M2427 518.5h0M2405.5 566h0M2414.5 561.5h0M2425 522.5h0M2424.5 542h0M2408.5 564h0M2431.5 548.5h0M2336.5 523.5h0M2372.5 564.5h0M2356 526.5h0M2435.5 520.5h0M2342 591h0M2440.5 516.5h0M2330 543h0M2429 515h0M2365 544h0M2399.5 542h0M2326 573.5h0M2395.5 548.5h0M2344.5 544.5h0M2354.5 560.5h0M2337.5 522.5h0M2336 552.5h0M2331.5 532.5h0M2394.5 534.5h0M2364 500h0M2324 556.5h0M2362.5 523.5h0M2434.5 563.5h0M2387 552.5h0M2353 554h0M2395 551h0M2360 515h0M2427.5 541h0M2363 576.5h0M2361.5 565h0M2326.5 517h0M2432 545h0M2414.5 542.5h0M2361 508.5h0M2357 542h0M2420.5 509.5h0M2392.5 536h0M2388.5 533.5h0M2412 548h0M2380 559h0M2376 554.5h0M2429 524h0M2351.5 558.5h0M2405.5 544h0M2353.5 571h0M2430 523h0M2434 538h0M2432.5 579.5h0M2415 518.5h0M2399.5 542.5h0M2372.5 521h0M2405 542.5h0M2336.5 554h0M2409.5 512.5h0M2425.5 546.5h0M2397 544.5h0M2360.5 530.5h0M2393 510.5h0M2349.5 537h0M2426 552.5h0M2377.5 556h0M2406.5 570h0M2382 565h0M2392 544.5h0M2414.5 535h0M2420 525.5h0M2391.5 545h0M2342 561.5h0M2401.5 496h0M2427.5 546.5h0M2363 525.5h0M2360 564h0M2426.5 547h0M2434 576.5h0M2414 589h0M2367 535h0M2351 556.5h0M2359 523h0M2436.5 539.5h0M2325 560.5h0M2415 531h0M2344.5 551h0M2423 527h0M2341.5 533h0M2328 516.5h0M2380 597.5h0M2327.5 492h0M2357 515h0M2387 541h0M2336 585.5h0M2367.5 544h0M2390.5 569.5h0M2342.5 556h0M2399.5 563h0M2366.5 548h0M2403.5 550h0M2402 560h0M2405.5 521.5h0M2367 491h0M2345.5 571.5h0M2398 530.5h0M2416.5 557h0M2339 568h0M2381 571h0M2362 554.5h0M2406 577h0M2349.5 542h0M2435 534h0M2395.5 548h0M2360 542.5h0M2379 586h0M2356 526.5h0M2440.5 531h0M2438.5 540.5h0M2403 522.5h0M2430 564h0M2388 558h0M2388 562h0M2342 551.5h0M2439 556h0M2332.5 551h0M2350 565h0M2402 553.5h0M2433 499.5h0M2382 559h0M2409 543.5h0M2389.5 527h0M2425.5 573h0M2324 539h0M2389.5 549h0M2360.5 551.5h0M2409.5 576h0M2339 548.5h0M2345 523.5h0M2356.5 539.5h0M2378 564.5h0M2325 537.5h0M2430 560h0M2374 542.5h0M2342.5 570.5h0M2427.5 554.5h0M2432 548h0M2386 529.5h0M2429.5 543.5h0M2399.5 520.5h0M2373 603h0M2365.5 553.5h0M2404 568.5h0M2413.5 496h0" stroke="url(#g)" stroke-width="9.6" stroke-linecap="round" fill="none"/>
<path d="M2452 713.5h0M2452 777h0M2452.5 878.5h0M2452 917.5h0M2453.5 959h0M2447 977.5h0M2448.5 975h0M2454.5 979.5h0M2445 1000h0M2443 1012.5h0M2445.5 1012.5h0M2448.5 1012.5h0M2451 1012.5h0M2454 1012.5h0M2456.5 1012.5h0M2459.5 1012.5h0M2462 1012.5h0" stroke="#8b0000" stroke-width="2.4" stroke-linecap="round" fill="none"/>
<path d="M122.7 591.9H313.1M313.6 584.3H468.9M468.9 585.4H498.8M498.8 585.0H650.0M650.0 586.8H681.0M681.0 587.2H796.0M796.0 585.2H934.2M934.2 584.3H1064.9M1064.9 588.2H1186.4M1186.4 584.6H1298.2M1298.2 586.3H1406.0M1406.0 584.6H1509.5M1509.5 585.6H1612.6M1612.6 588.2H1715.5M1728.5 581.3H1803.5M1816.4 587.0H1885.5M1899.0 587.0H1963.1M1963.1 593.3H2032.1M2032.1 595.4H2094.5M2094.1 580.7H2154.5M2153.8 610.2H2199.5M2198.9 586.3H2247.5M2254.0 578.3H2284.5M2295.0 653.5H2316.0M2316.0 641.0H2324.0M2323.0 541.8H2442.0M2443.5 1021.2H2462.0M360.0 637.5h0.5M468.9 644.3h0.5M681.0 636.0h0.5M1459.5 641.0h0.5M2323.5 602.5h0.5M2315.0 703.4h0.5" stroke="#ebe8dd" stroke-width="5.0" stroke-linecap="round" fill="none"/><path d="M122.7 591.9H313.1M313.6 584.3H468.9M468.9 585.4H498.8M498.8 585.0H650.0M650.0 586.8H681.0M681.0 587.2H796.0M796.0 585.2H934.2M934.2 584.3H1064.9M1064.9 588.2H1186.4M1186.4 584.6H1298.2M1298.2 586.3H1406.0M1406.0 584.6H1509.5M1509.5 585.6H1612.6M1612.6 588.2H1715.5M1728.5 581.3H1803.5M1816.4 587.0H1885.5M1899.0 587.0H1963.1M1963.1 593.3H2032.1M2032.1 595.4H2094.5M2094.1 580.7H2154.5M2153.8 610.2H2199.5M2198.9 586.3H2247.5M2254.0 578.3H2284.5M2295.0 653.5H2316.0M2316.0 641.0H2324.0M2323.0 541.8H2442.0M2443.5 1021.2H2462.0M360.0 637.5h0.5M468.9 644.3h0.5M681.0 636.0h0.5M1459.5 641.0h0.5M2323.5 602.5h0.5M2315.0 703.4h0.5" stroke="#00008b" stroke-width="3.4" stroke-linecap="round" fill="none"/>
<path d="M242.7 605.1h0M279.2 587.0h0M325.5 638.0h0M498.6 605.4h0M506.8 650.0h0M527.2 596.3h0M637.5 627.0h0M646.3 575.0h0M692.5 563.3h0M692.5 602.5h0M1107.3 555.3h0M1107.3 573.3h0M1154.0 556.7h0M1302.5 568.0h0M1315.0 551.3h0M1315.0 573.8h0M1365.0 573.0h0M1474.5 600.5h0M1657.0 609.5h0M1665.0 634.5h0M1752.5 590.5h0M1911.3 577.5h0M1952.5 563.8h0M2037.5 585.5h0M2053.8 580.0h0M2061.3 585.0h0M2165.5 567.0h0M2307.0 649.5h0M2410.5 480.0h0" stroke="#000" stroke-width="10.8" stroke-linecap="round" fill="none"/>
<text transform="translate(251.5 619.4) rotate(-90)" font-size="25" text-anchor="end">NTRK1</text>
<text transform="translate(288.0 601.3) rotate(-90)" font-size="25" text-anchor="end">MDM4</text>
<text transform="translate(334.3 652.3) rotate(-90)" font-size="25" text-anchor="end">MYCN</text>
<text transform="translate(507.4 619.7) rotate(-90)" font-size="25" text-anchor="end">PDCD1</text>
<text transform="translate(515.6 664.3) rotate(-90)" font-size="25" text-anchor="end">VHL</text>
<text transform="translate(536.0 610.6) rotate(-90)" font-size="25" text-anchor="end">MLH1</text>
<text transform="translate(646.3 641.3) rotate(-90)" font-size="25" text-anchor="end">SOX2</text>
<text transform="translate(655.1 561.2) rotate(-90)" font-size="25">OPA1</text>
<text transform="translate(701.3 549.5) rotate(-90)" font-size="25">KIT</text>
<text transform="translate(701.3 616.8) rotate(-90)" font-size="25" text-anchor="end">PDGFRA</text>
<text transform="translate(1116.1 541.5) rotate(-90)" font-size="25">EGFR</text>
<text transform="translate(1116.1 559.5) rotate(-90)" font-size="25">EGFR_vIII</text>
<text transform="translate(1162.8 542.9) rotate(-90)" font-size="25">MET</text>
<text transform="translate(1311.3 554.2) rotate(-90)" font-size="25">CD274</text>
<text transform="translate(1323.8 537.5) rotate(-90)" font-size="25">CDKN2B</text>
<text transform="translate(1323.8 560.0) rotate(-90)" font-size="25">CDKN2A</text>
<text transform="translate(1373.8 559.2) rotate(-90)" font-size="25">NTRK2</text>
<text transform="translate(1483.3 614.8) rotate(-90)" font-size="25" text-anchor="end">PTEN</text>
<text transform="translate(1665.8 623.8) rotate(-90)" font-size="25" text-anchor="end">CDK4</text>
<text transform="translate(1673.8 648.8) rotate(-90)" font-size="25" text-anchor="end">MDM2</text>
<text transform="translate(1761.3 604.8) rotate(-90)" font-size="25" text-anchor="end">RB1</text>
<text transform="translate(1920.1 563.7) rotate(-90)" font-size="25">NUTM1</text>
<text transform="translate(1961.3 550.0) rotate(-90)" font-size="25">NTRK3</text>
<text transform="translate(2046.3 599.8) rotate(-90)" font-size="25" text-anchor="end">TP53</text>
<text transform="translate(2062.6 566.2) rotate(-90)" font-size="25">NF1</text>
<text transform="translate(2070.1 599.3) rotate(-90)" font-size="25" text-anchor="end">ERBB2</text>
<text transform="translate(2174.3 553.2) rotate(-90)" font-size="25">BRD4</text>
<text transform="translate(2315.8 663.8) rotate(-90)" font-size="25" text-anchor="end">NF2</text>
<text transform="translate(2419.3 466.2) rotate(-90)" font-size="25">IL13RA2</text>
<rect x="122.7" y="123.0" width="2364.2" height="924.0" fill="none" stroke="#000" stroke-width="1.7"/>
<path d="M122.2 174.4V995.6" stroke="#000" stroke-width="1.7" fill="none"/>
<path d="M107.2 174.4H122.7M107.2 311.2H122.7M107.2 448.1H122.7M107.2 585.0H122.7M107.2 721.9H122.7M107.2 858.8H122.7M107.2 995.6H122.7" stroke="#000" stroke-width="1.4" fill="none"/>
<text x="93" y="183.4" font-size="25" text-anchor="end">1.2</text>
<text x="93" y="320.2" font-size="25" text-anchor="end">0.8</text>
<text x="93" y="457.1" font-size="25" text-anchor="end">0.4</text>
<text x="93" y="594.0" font-size="25" text-anchor="end">0.0</text>
<text x="93" y="730.9" font-size="25" text-anchor="end">−0.4</text>
<text x="93" y="867.8" font-size="25" text-anchor="end">−0.8</text>
<text x="93" y="1004.6" font-size="25" text-anchor="end">−1.2</text>
<path d="M217.9 1047.5H2464.2" stroke="#000" stroke-width="1.7" fill="none"/>
<path d="M217.9 1047.0V1062.5M405.9 1047.0V1062.5M574.4 1047.0V1062.5M723.0 1047.0V1062.5M865.1 1047.0V1062.5M999.5 1047.0V1062.5M1125.6 1047.0V1062.5M1242.3 1047.0V1062.5M1352.1 1047.0V1062.5M1457.8 1047.0V1062.5M1561.1 1047.0V1062.5M1663.8 1047.0V1062.5M1758.8 1047.0V1062.5M1843.8 1047.0V1062.5M1924.0 1047.0V1062.5M1997.6 1047.0V1062.5M2063.1 1047.0V1062.5M2123.9 1047.0V1062.5M2176.3 1047.0V1062.5M2223.0 1047.0V1062.5M2265.4 1047.0V1062.5M2303.4 1047.0V1062.5M2382.3 1047.0V1062.5M2464.2 1047.0V1062.5" stroke="#000" stroke-width="1.4" fill="none"/>
<text transform="translate(227.4 1077.0) rotate(-90)" font-size="25" text-anchor="end">chr1</text>
<text transform="translate(415.4 1077.0) rotate(-90)" font-size="25" text-anchor="end">chr2</text>
<text transform="translate(583.9 1077.0) rotate(-90)" font-size="25" text-anchor="end">chr3</text>
<text transform="translate(732.5 1077.0) rotate(-90)" font-size="25" text-anchor="end">chr4</text>
<text transform="translate(874.6 1077.0) rotate(-90)" font-size="25" text-anchor="end">chr5</text>
<text transform="translate(1009.0 1077.0) rotate(-90)" font-size="25" text-anchor="end">chr6</text>
<text transform="translate(1135.1 1077.0) rotate(-90)" font-size="25" text-anchor="end">chr7</text>
<text transform="translate(1251.8 1077.0) rotate(-90)" font-size="25" text-anchor="end">chr8</text>
<text transform="translate(1361.6 1077.0) rotate(-90)" font-size="25" text-anchor="end">chr9</text>
<text transform="translate(1467.3 1077.0) rotate(-90)" font-size="25" text-anchor="end">chr10</text>
<text transform="translate(1570.6 1077.0) rotate(-90)" font-size="25" text-anchor="end">chr11</text>
<text transform="translate(1673.3 1077.0) rotate(-90)" font-size="25" text-anchor="end">chr12</text>
<text transform="translate(1768.3 1077.0) rotate(-90)" font-size="25" text-anchor="end">chr13</text>
<text transform="translate(1853.3 1077.0) rotate(-90)" font-size="25" text-anchor="end">chr14</text>
<text transform="translate(1933.5 1077.0) rotate(-90)" font-size="25" text-anchor="end">chr15</text>
<text transform="translate(2007.1 1077.0) rotate(-90)" font-size="25" text-anchor="end">chr16</text>
<text transform="translate(2072.6 1077.0) rotate(-90)" font-size="25" text-anchor="end">chr17</text>
<text transform="translate(2133.4 1077.0) rotate(-90)" font-size="25" text-anchor="end">chr18</text>
<text transform="translate(2185.8 1077.0) rotate(-90)" font-size="25" text-anchor="end">chr19</text>
<text transform="translate(2232.5 1077.0) rotate(-90)" font-size="25" text-anchor="end">chr20</text>
<text transform="translate(2274.9 1077.0) rotate(-90)" font-size="25" text-anchor="end">chr21</text>
<text transform="translate(2312.9 1077.0) rotate(-90)" font-size="25" text-anchor="end">chr22</text>
<text transform="translate(2391.8 1077.0) rotate(-90)" font-size="25" text-anchor="end">chrX</text>
<text transform="translate(2473.7 1077.0) rotate(-90)" font-size="25" text-anchor="end">chrY</text>
<text x="1302.8" y="72" font-size="31" font-weight="bold" text-anchor="middle" letter-spacing="-1.3" style="stroke:none">209815490076_R02C01</text>
</svg></body></html>
